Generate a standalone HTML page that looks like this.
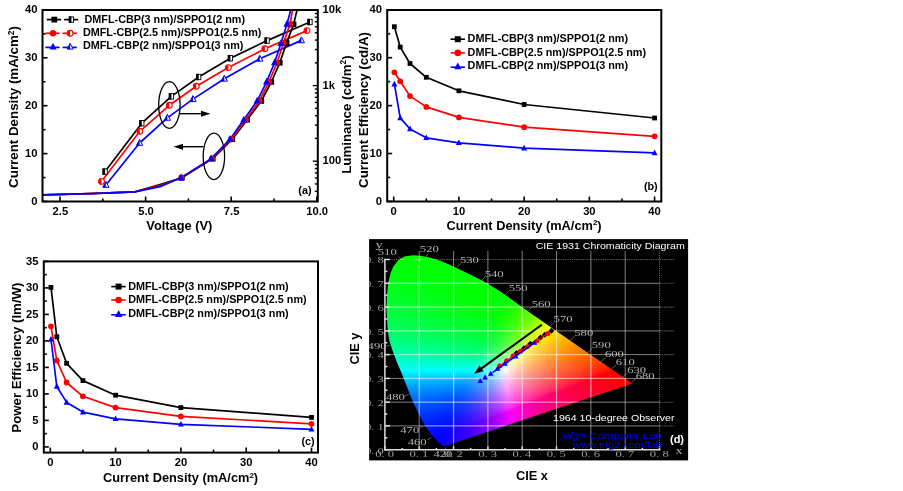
<!DOCTYPE html>
<html><head><meta charset="utf-8"><title>Figure</title>
<style>html,body{margin:0;padding:0;background:#fff}svg{display:block;filter:blur(0.45px)}</style></head>
<body>
<svg width="903" height="491" viewBox="0 0 903 491">
<rect width="903" height="491" fill="#fff"/>
<line x1="42.50" y1="201.50" x2="47.50" y2="201.50" stroke="#000" stroke-width="1.6"/>
<line x1="42.50" y1="177.55" x2="45.50" y2="177.55" stroke="#000" stroke-width="1.6"/>
<line x1="42.50" y1="153.60" x2="47.50" y2="153.60" stroke="#000" stroke-width="1.6"/>
<line x1="42.50" y1="129.65" x2="45.50" y2="129.65" stroke="#000" stroke-width="1.6"/>
<line x1="42.50" y1="105.70" x2="47.50" y2="105.70" stroke="#000" stroke-width="1.6"/>
<line x1="42.50" y1="81.75" x2="45.50" y2="81.75" stroke="#000" stroke-width="1.6"/>
<line x1="42.50" y1="57.80" x2="47.50" y2="57.80" stroke="#000" stroke-width="1.6"/>
<line x1="42.50" y1="33.85" x2="45.50" y2="33.85" stroke="#000" stroke-width="1.6"/>
<line x1="42.50" y1="9.90" x2="47.50" y2="9.90" stroke="#000" stroke-width="1.6"/>
<text x="37.5" y="204.8" font-size="11.2" text-anchor="end" fill="#000" font-family="Liberation Sans, Arial, sans-serif" font-weight="bold">0</text>
<text x="37.5" y="156.9" font-size="11.2" text-anchor="end" fill="#000" font-family="Liberation Sans, Arial, sans-serif" font-weight="bold">10</text>
<text x="37.5" y="109.0" font-size="11.2" text-anchor="end" fill="#000" font-family="Liberation Sans, Arial, sans-serif" font-weight="bold">20</text>
<text x="37.5" y="61.10000000000001" font-size="11.2" text-anchor="end" fill="#000" font-family="Liberation Sans, Arial, sans-serif" font-weight="bold">30</text>
<text x="37.5" y="13.200000000000006" font-size="11.2" text-anchor="end" fill="#000" font-family="Liberation Sans, Arial, sans-serif" font-weight="bold">40</text>
<line x1="60.00" y1="201.50" x2="60.00" y2="196.50" stroke="#000" stroke-width="1.6"/>
<line x1="145.60" y1="201.50" x2="145.60" y2="196.50" stroke="#000" stroke-width="1.6"/>
<line x1="231.20" y1="201.50" x2="231.20" y2="196.50" stroke="#000" stroke-width="1.6"/>
<line x1="316.80" y1="201.50" x2="316.80" y2="196.50" stroke="#000" stroke-width="1.6"/>
<line x1="102.80" y1="201.50" x2="102.80" y2="198.50" stroke="#000" stroke-width="1.6"/>
<line x1="188.40" y1="201.50" x2="188.40" y2="198.50" stroke="#000" stroke-width="1.6"/>
<line x1="274.00" y1="201.50" x2="274.00" y2="198.50" stroke="#000" stroke-width="1.6"/>
<text x="60.4" y="214.5" font-size="11.2" text-anchor="middle" fill="#000" font-family="Liberation Sans, Arial, sans-serif" font-weight="bold">2.5</text>
<text x="146.00000000000003" y="214.5" font-size="11.2" text-anchor="middle" fill="#000" font-family="Liberation Sans, Arial, sans-serif" font-weight="bold">5.0</text>
<text x="231.60000000000002" y="214.5" font-size="11.2" text-anchor="middle" fill="#000" font-family="Liberation Sans, Arial, sans-serif" font-weight="bold">7.5</text>
<text x="317.2" y="214.5" font-size="11.2" text-anchor="middle" fill="#000" font-family="Liberation Sans, Arial, sans-serif" font-weight="bold">10.0</text>
<line x1="317.80" y1="191.28" x2="314.80" y2="191.28" stroke="#000" stroke-width="1.4"/>
<line x1="317.80" y1="183.96" x2="314.80" y2="183.96" stroke="#000" stroke-width="1.4"/>
<line x1="317.80" y1="177.97" x2="314.80" y2="177.97" stroke="#000" stroke-width="1.4"/>
<line x1="317.80" y1="172.91" x2="314.80" y2="172.91" stroke="#000" stroke-width="1.4"/>
<line x1="317.80" y1="168.53" x2="314.80" y2="168.53" stroke="#000" stroke-width="1.4"/>
<line x1="317.80" y1="164.66" x2="314.80" y2="164.66" stroke="#000" stroke-width="1.4"/>
<line x1="317.80" y1="161.20" x2="312.80" y2="161.20" stroke="#000" stroke-width="1.4"/>
<line x1="317.80" y1="138.44" x2="314.80" y2="138.44" stroke="#000" stroke-width="1.4"/>
<line x1="317.80" y1="125.13" x2="314.80" y2="125.13" stroke="#000" stroke-width="1.4"/>
<line x1="317.80" y1="115.68" x2="314.80" y2="115.68" stroke="#000" stroke-width="1.4"/>
<line x1="317.80" y1="108.36" x2="314.80" y2="108.36" stroke="#000" stroke-width="1.4"/>
<line x1="317.80" y1="102.37" x2="314.80" y2="102.37" stroke="#000" stroke-width="1.4"/>
<line x1="317.80" y1="97.31" x2="314.80" y2="97.31" stroke="#000" stroke-width="1.4"/>
<line x1="317.80" y1="92.93" x2="314.80" y2="92.93" stroke="#000" stroke-width="1.4"/>
<line x1="317.80" y1="89.06" x2="314.80" y2="89.06" stroke="#000" stroke-width="1.4"/>
<line x1="317.80" y1="85.60" x2="312.80" y2="85.60" stroke="#000" stroke-width="1.4"/>
<line x1="317.80" y1="62.84" x2="314.80" y2="62.84" stroke="#000" stroke-width="1.4"/>
<line x1="317.80" y1="49.53" x2="314.80" y2="49.53" stroke="#000" stroke-width="1.4"/>
<line x1="317.80" y1="40.08" x2="314.80" y2="40.08" stroke="#000" stroke-width="1.4"/>
<line x1="317.80" y1="32.76" x2="314.80" y2="32.76" stroke="#000" stroke-width="1.4"/>
<line x1="317.80" y1="26.77" x2="314.80" y2="26.77" stroke="#000" stroke-width="1.4"/>
<line x1="317.80" y1="21.71" x2="314.80" y2="21.71" stroke="#000" stroke-width="1.4"/>
<line x1="317.80" y1="17.33" x2="314.80" y2="17.33" stroke="#000" stroke-width="1.4"/>
<line x1="317.80" y1="13.46" x2="314.80" y2="13.46" stroke="#000" stroke-width="1.4"/>
<text x="322.5" y="13.2" font-size="11.2" text-anchor="start" fill="#000" font-family="Liberation Sans, Arial, sans-serif" font-weight="bold">10k</text>
<text x="322.5" y="88.8" font-size="11.2" text-anchor="start" fill="#000" font-family="Liberation Sans, Arial, sans-serif" font-weight="bold">1k</text>
<text x="322.5" y="164.39999999999998" font-size="11.2" text-anchor="start" fill="#000" font-family="Liberation Sans, Arial, sans-serif" font-weight="bold">100</text>
<polyline points="105.1,171.6 141.8,123.2 171.4,96.4 198.7,77.0 230.4,58.2 267.1,40.6 310.0,22.0" fill="none" stroke="#000" stroke-width="1.7" stroke-linejoin="round"/>
<polyline points="101.5,181.4 139.8,131.3 169.3,105.3 196.3,86.3 228.4,67.6 264.9,48.8 307.0,30.6" fill="none" stroke="#ff0000" stroke-width="1.7" stroke-linejoin="round"/>
<polyline points="105.9,185.0 139.6,143.0 167.4,117.9 193.0,99.1 224.3,78.8 259.8,58.8 301.4,40.4" fill="none" stroke="#0000ff" stroke-width="1.7" stroke-linejoin="round"/>
<rect x="102.95" y="168.90" width="4.30" height="5.40" fill="#fff" stroke="#000" stroke-width="0.9"/>
<rect x="102.50" y="168.45" width="2.60" height="6.30" fill="#000"/>
<rect x="139.65" y="120.50" width="4.30" height="5.40" fill="#fff" stroke="#000" stroke-width="0.9"/>
<rect x="139.20" y="120.05" width="2.60" height="6.30" fill="#000"/>
<rect x="169.25" y="93.70" width="4.30" height="5.40" fill="#fff" stroke="#000" stroke-width="0.9"/>
<rect x="168.80" y="93.25" width="2.60" height="6.30" fill="#000"/>
<rect x="196.55" y="74.30" width="4.30" height="5.40" fill="#fff" stroke="#000" stroke-width="0.9"/>
<rect x="196.10" y="73.85" width="2.60" height="6.30" fill="#000"/>
<rect x="228.25" y="55.50" width="4.30" height="5.40" fill="#fff" stroke="#000" stroke-width="0.9"/>
<rect x="227.80" y="55.05" width="2.60" height="6.30" fill="#000"/>
<rect x="264.95" y="37.90" width="4.30" height="5.40" fill="#fff" stroke="#000" stroke-width="0.9"/>
<rect x="264.50" y="37.45" width="2.60" height="6.30" fill="#000"/>
<rect x="307.85" y="19.30" width="4.30" height="5.40" fill="#fff" stroke="#000" stroke-width="0.9"/>
<rect x="307.40" y="18.85" width="2.60" height="6.30" fill="#000"/>
<circle cx="101.50" cy="181.40" r="2.9" fill="#fff" stroke="#ff0000" stroke-width="1.1"/>
<path d="M101.50,178.50 A2.9,2.9 0 0 0 101.50,184.30 Z" fill="#ff0000"/>
<circle cx="139.80" cy="131.30" r="2.9" fill="#fff" stroke="#ff0000" stroke-width="1.1"/>
<path d="M139.80,128.40 A2.9,2.9 0 0 0 139.80,134.20 Z" fill="#ff0000"/>
<circle cx="169.30" cy="105.30" r="2.9" fill="#fff" stroke="#ff0000" stroke-width="1.1"/>
<path d="M169.30,102.40 A2.9,2.9 0 0 0 169.30,108.20 Z" fill="#ff0000"/>
<circle cx="196.30" cy="86.30" r="2.9" fill="#fff" stroke="#ff0000" stroke-width="1.1"/>
<path d="M196.30,83.40 A2.9,2.9 0 0 0 196.30,89.20 Z" fill="#ff0000"/>
<circle cx="228.40" cy="67.60" r="2.9" fill="#fff" stroke="#ff0000" stroke-width="1.1"/>
<path d="M228.40,64.70 A2.9,2.9 0 0 0 228.40,70.50 Z" fill="#ff0000"/>
<circle cx="264.90" cy="48.80" r="2.9" fill="#fff" stroke="#ff0000" stroke-width="1.1"/>
<path d="M264.90,45.90 A2.9,2.9 0 0 0 264.90,51.70 Z" fill="#ff0000"/>
<circle cx="307.00" cy="30.60" r="2.9" fill="#fff" stroke="#ff0000" stroke-width="1.1"/>
<path d="M307.00,27.70 A2.9,2.9 0 0 0 307.00,33.50 Z" fill="#ff0000"/>
<polygon points="105.90,181.47 102.80,187.36 109.00,187.36" fill="#fff" stroke="#0000ff" stroke-width="1"/>
<polygon points="105.90,181.47 102.80,187.36 105.90,187.36" fill="#0000ff"/>
<polygon points="139.60,139.47 136.50,145.36 142.70,145.36" fill="#fff" stroke="#0000ff" stroke-width="1"/>
<polygon points="139.60,139.47 136.50,145.36 139.60,145.36" fill="#0000ff"/>
<polygon points="167.40,114.37 164.30,120.26 170.50,120.26" fill="#fff" stroke="#0000ff" stroke-width="1"/>
<polygon points="167.40,114.37 164.30,120.26 167.40,120.26" fill="#0000ff"/>
<polygon points="193.00,95.57 189.90,101.46 196.10,101.46" fill="#fff" stroke="#0000ff" stroke-width="1"/>
<polygon points="193.00,95.57 189.90,101.46 193.00,101.46" fill="#0000ff"/>
<polygon points="224.30,75.27 221.20,81.16 227.40,81.16" fill="#fff" stroke="#0000ff" stroke-width="1"/>
<polygon points="224.30,75.27 221.20,81.16 224.30,81.16" fill="#0000ff"/>
<polygon points="259.80,55.27 256.70,61.16 262.90,61.16" fill="#fff" stroke="#0000ff" stroke-width="1"/>
<polygon points="259.80,55.27 256.70,61.16 259.80,61.16" fill="#0000ff"/>
<polygon points="301.40,36.87 298.30,42.76 304.50,42.76" fill="#fff" stroke="#0000ff" stroke-width="1"/>
<polygon points="301.40,36.87 298.30,42.76 301.40,42.76" fill="#0000ff"/>
<clipPath id="ca"><rect x="42.5" y="10.0" width="275.3" height="191.5"/></clipPath>
<g clip-path="url(#ca)">
<polyline points="42.5,194.8 90.0,193.6 134.8,191.8 160.0,184.5 181.9,177.7 212.8,158.6 232.3,139.2 247.2,119.8 261.3,101.0 271.3,82.0 279.8,62.8 286.6,43.0 293.6,24.4 297.3,9.0" fill="none" stroke="#000" stroke-width="1.7" stroke-linejoin="round"/>
<polyline points="42.5,194.8 90.0,193.6 134.8,191.8 160.0,185.6 181.4,177.7 212.0,158.6 231.3,139.2 245.8,119.8 259.4,101.0 268.9,82.0 277.0,62.8 283.5,43.0 289.9,24.4 292.8,9.0" fill="none" stroke="#ff0000" stroke-width="1.7" stroke-linejoin="round"/>
<polyline points="42.5,194.8 90.0,193.6 134.8,191.8 160.0,186.6 181.0,177.7 211.2,158.6 230.0,139.2 243.8,119.8 257.2,100.8 266.6,81.8 274.6,62.5 281.0,43.2 287.0,24.0 291.0,9.0" fill="none" stroke="#0000ff" stroke-width="1.7" stroke-linejoin="round"/>
<rect x="179.10" y="174.90" width="5.6" height="5.6" fill="#000"/>
<rect x="210.00" y="155.80" width="5.6" height="5.6" fill="#000"/>
<rect x="229.50" y="136.40" width="5.6" height="5.6" fill="#000"/>
<rect x="244.40" y="117.00" width="5.6" height="5.6" fill="#000"/>
<rect x="258.50" y="98.20" width="5.6" height="5.6" fill="#000"/>
<rect x="268.50" y="79.20" width="5.6" height="5.6" fill="#000"/>
<rect x="277.00" y="60.00" width="5.6" height="5.6" fill="#000"/>
<rect x="283.80" y="40.20" width="5.6" height="5.6" fill="#000"/>
<rect x="290.80" y="21.60" width="5.6" height="5.6" fill="#000"/>
<circle cx="181.40" cy="177.70" r="3.1" fill="#ff0000"/>
<circle cx="212.00" cy="158.60" r="3.1" fill="#ff0000"/>
<circle cx="231.30" cy="139.20" r="3.1" fill="#ff0000"/>
<circle cx="245.80" cy="119.80" r="3.1" fill="#ff0000"/>
<circle cx="259.40" cy="101.00" r="3.1" fill="#ff0000"/>
<circle cx="268.90" cy="82.00" r="3.1" fill="#ff0000"/>
<circle cx="277.00" cy="62.80" r="3.1" fill="#ff0000"/>
<circle cx="283.50" cy="43.00" r="3.1" fill="#ff0000"/>
<circle cx="289.90" cy="24.40" r="3.1" fill="#ff0000"/>
<polygon points="181.00,173.60 177.40,180.44 184.60,180.44" fill="#0000ff"/>
<polygon points="211.20,154.50 207.60,161.34 214.80,161.34" fill="#0000ff"/>
<polygon points="230.00,135.10 226.40,141.94 233.60,141.94" fill="#0000ff"/>
<polygon points="243.80,115.70 240.20,122.54 247.40,122.54" fill="#0000ff"/>
<polygon points="257.20,96.70 253.60,103.54 260.80,103.54" fill="#0000ff"/>
<polygon points="266.60,77.70 263.00,84.54 270.20,84.54" fill="#0000ff"/>
<polygon points="274.60,58.40 271.00,65.24 278.20,65.24" fill="#0000ff"/>
<polygon points="281.00,39.10 277.40,45.94 284.60,45.94" fill="#0000ff"/>
<polygon points="287.00,19.90 283.40,26.74 290.60,26.74" fill="#0000ff"/>
</g>
<rect x="42.5" y="10.0" width="275.3" height="191.5" fill="none" stroke="#000" stroke-width="2.0"/>
<ellipse cx="169.4" cy="105.0" rx="10.7" ry="23.4" fill="none" stroke="#000" stroke-width="1.3"/>
<ellipse cx="213.9" cy="156.4" rx="10.7" ry="23.2" fill="none" stroke="#000" stroke-width="1.3"/>
<line x1="180.00" y1="113.70" x2="204.00" y2="113.70" stroke="#000" stroke-width="1.4"/>
<polygon points="210.5,113.7 201,110.7 201,116.7" fill="#000"/>
<line x1="203.40" y1="146.70" x2="180.00" y2="146.70" stroke="#000" stroke-width="1.4"/>
<polygon points="173.5,146.7 183,143.7 183,149.7" fill="#000"/>
<line x1="46.80" y1="19.60" x2="61.10" y2="19.60" stroke="#000" stroke-width="1.7"/>
<line x1="64.10" y1="19.60" x2="78.30" y2="19.60" stroke="#000" stroke-width="1.7"/>
<rect x="51.40" y="16.70" width="5.8" height="5.8" fill="#000"/>
<rect x="69.25" y="16.90" width="4.30" height="5.40" fill="#fff" stroke="#000" stroke-width="0.9"/>
<rect x="68.80" y="16.45" width="2.60" height="6.30" fill="#000"/>
<text x="84.5" y="22.5" font-size="10.8" text-anchor="start" fill="#000" font-family="Liberation Sans, Arial, sans-serif" font-weight="bold" textLength="160.5" lengthAdjust="spacingAndGlyphs">DMFL-CBP(3 nm)/SPPO1(2 nm)</text>
<line x1="45.30" y1="33.30" x2="59.60" y2="33.30" stroke="#ff0000" stroke-width="1.7"/>
<line x1="62.60" y1="33.30" x2="76.80" y2="33.30" stroke="#ff0000" stroke-width="1.7"/>
<circle cx="53.00" cy="33.30" r="3.2" fill="#ff0000"/>
<circle cx="70.10" cy="33.30" r="2.9" fill="#fff" stroke="#ff0000" stroke-width="1.1"/>
<path d="M70.10,30.40 A2.9,2.9 0 0 0 70.10,36.20 Z" fill="#ff0000"/>
<text x="82.9" y="36.0" font-size="10.8" text-anchor="start" fill="#000" font-family="Liberation Sans, Arial, sans-serif" font-weight="bold" textLength="178.5" lengthAdjust="spacingAndGlyphs">DMFL-CBP(2.5 nm)/SPPO1(2.5 nm)</text>
<line x1="45.30" y1="47.40" x2="59.60" y2="47.40" stroke="#0000ff" stroke-width="1.7"/>
<line x1="62.60" y1="47.40" x2="76.80" y2="47.40" stroke="#0000ff" stroke-width="1.7"/>
<polygon points="53.00,42.81 49.50,49.46 56.50,49.46" fill="#0000ff"/>
<polygon points="70.10,43.38 67.10,49.08 73.10,49.08" fill="#fff" stroke="#0000ff" stroke-width="1"/>
<polygon points="70.10,43.38 67.10,49.08 70.10,49.08" fill="#0000ff"/>
<text x="82.9" y="49.4" font-size="10.8" text-anchor="start" fill="#000" font-family="Liberation Sans, Arial, sans-serif" font-weight="bold" textLength="160.5" lengthAdjust="spacingAndGlyphs">DMFL-CBP(2 nm)/SPPO1(3 nm)</text>
<text x="304.9" y="193.6" font-size="10.8" text-anchor="middle" fill="#000" font-family="Liberation Sans, Arial, sans-serif" font-weight="bold">(a)</text>
<text x="18.3" y="107.0" font-size="13.35" text-anchor="middle" fill="#000" font-family="Liberation Sans, Arial, sans-serif" font-weight="bold" transform="rotate(-90 18.3 107.0)">Current Density (mA/cm<tspan dy="-4.5" font-size="8.3">2</tspan><tspan dy="4.5">)</tspan></text>
<text x="179.3" y="230.2" font-size="12.8" text-anchor="middle" fill="#000" font-family="Liberation Sans, Arial, sans-serif" font-weight="bold">Voltage (V)</text>
<text x="350.7" y="114.6" font-size="13.3" text-anchor="middle" fill="#000" font-family="Liberation Sans, Arial, sans-serif" font-weight="bold" transform="rotate(-90 350.7 114.6)">Luminance (cd/m<tspan dy="-4.5" font-size="8.3">2</tspan><tspan dy="4.5">)</tspan></text>
<line x1="387.20" y1="201.40" x2="392.20" y2="201.40" stroke="#000" stroke-width="1.6"/>
<line x1="393.70" y1="201.50" x2="393.70" y2="196.50" stroke="#000" stroke-width="1.6"/>
<line x1="387.20" y1="177.45" x2="390.20" y2="177.45" stroke="#000" stroke-width="1.6"/>
<line x1="426.31" y1="201.50" x2="426.31" y2="198.50" stroke="#000" stroke-width="1.6"/>
<line x1="387.20" y1="153.50" x2="392.20" y2="153.50" stroke="#000" stroke-width="1.6"/>
<line x1="458.92" y1="201.50" x2="458.92" y2="196.50" stroke="#000" stroke-width="1.6"/>
<line x1="387.20" y1="129.55" x2="390.20" y2="129.55" stroke="#000" stroke-width="1.6"/>
<line x1="491.53" y1="201.50" x2="491.53" y2="198.50" stroke="#000" stroke-width="1.6"/>
<line x1="387.20" y1="105.60" x2="392.20" y2="105.60" stroke="#000" stroke-width="1.6"/>
<line x1="524.14" y1="201.50" x2="524.14" y2="196.50" stroke="#000" stroke-width="1.6"/>
<line x1="387.20" y1="81.65" x2="390.20" y2="81.65" stroke="#000" stroke-width="1.6"/>
<line x1="556.75" y1="201.50" x2="556.75" y2="198.50" stroke="#000" stroke-width="1.6"/>
<line x1="387.20" y1="57.70" x2="392.20" y2="57.70" stroke="#000" stroke-width="1.6"/>
<line x1="589.36" y1="201.50" x2="589.36" y2="196.50" stroke="#000" stroke-width="1.6"/>
<line x1="387.20" y1="33.75" x2="390.20" y2="33.75" stroke="#000" stroke-width="1.6"/>
<line x1="621.97" y1="201.50" x2="621.97" y2="198.50" stroke="#000" stroke-width="1.6"/>
<line x1="387.20" y1="9.80" x2="392.20" y2="9.80" stroke="#000" stroke-width="1.6"/>
<line x1="654.58" y1="201.50" x2="654.58" y2="196.50" stroke="#000" stroke-width="1.6"/>
<text x="382" y="204.70000000000002" font-size="11.2" text-anchor="end" fill="#000" font-family="Liberation Sans, Arial, sans-serif" font-weight="bold">0</text>
<text x="393.7" y="214.5" font-size="11.2" text-anchor="middle" fill="#000" font-family="Liberation Sans, Arial, sans-serif" font-weight="bold">0</text>
<text x="382" y="156.8" font-size="11.2" text-anchor="end" fill="#000" font-family="Liberation Sans, Arial, sans-serif" font-weight="bold">10</text>
<text x="458.91999999999996" y="214.5" font-size="11.2" text-anchor="middle" fill="#000" font-family="Liberation Sans, Arial, sans-serif" font-weight="bold">10</text>
<text x="382" y="108.9" font-size="11.2" text-anchor="end" fill="#000" font-family="Liberation Sans, Arial, sans-serif" font-weight="bold">20</text>
<text x="524.14" y="214.5" font-size="11.2" text-anchor="middle" fill="#000" font-family="Liberation Sans, Arial, sans-serif" font-weight="bold">20</text>
<text x="382" y="61.000000000000014" font-size="11.2" text-anchor="end" fill="#000" font-family="Liberation Sans, Arial, sans-serif" font-weight="bold">30</text>
<text x="589.36" y="214.5" font-size="11.2" text-anchor="middle" fill="#000" font-family="Liberation Sans, Arial, sans-serif" font-weight="bold">30</text>
<text x="382" y="13.100000000000012" font-size="11.2" text-anchor="end" fill="#000" font-family="Liberation Sans, Arial, sans-serif" font-weight="bold">40</text>
<text x="654.5799999999999" y="214.5" font-size="11.2" text-anchor="middle" fill="#000" font-family="Liberation Sans, Arial, sans-serif" font-weight="bold">40</text>
<polyline points="394.4,26.7 400.2,47.1 410.0,63.5 426.3,77.3 458.9,90.8 524.1,104.5 654.6,118.0" fill="none" stroke="#000" stroke-width="1.7" stroke-linejoin="round"/>
<rect x="391.95" y="24.30" width="4.8" height="4.8" fill="#000"/>
<rect x="397.82" y="44.70" width="4.8" height="4.8" fill="#000"/>
<rect x="407.61" y="61.10" width="4.8" height="4.8" fill="#000"/>
<rect x="423.91" y="74.90" width="4.8" height="4.8" fill="#000"/>
<rect x="456.52" y="88.40" width="4.8" height="4.8" fill="#000"/>
<rect x="521.74" y="102.10" width="4.8" height="4.8" fill="#000"/>
<rect x="652.18" y="115.60" width="4.8" height="4.8" fill="#000"/>
<polyline points="394.4,72.3 400.2,81.3 410.0,96.1 426.3,106.9 458.9,117.4 524.1,127.2 654.6,136.3" fill="none" stroke="#ff0000" stroke-width="1.7" stroke-linejoin="round"/>
<circle cx="394.35" cy="72.30" r="2.9" fill="#ff0000"/>
<circle cx="400.22" cy="81.30" r="2.9" fill="#ff0000"/>
<circle cx="410.00" cy="96.10" r="2.9" fill="#ff0000"/>
<circle cx="426.31" cy="106.90" r="2.9" fill="#ff0000"/>
<circle cx="458.92" cy="117.40" r="2.9" fill="#ff0000"/>
<circle cx="524.14" cy="127.20" r="2.9" fill="#ff0000"/>
<circle cx="654.58" cy="136.30" r="2.9" fill="#ff0000"/>
<polyline points="394.4,84.2 400.2,117.9 410.0,129.0 426.3,137.8 458.9,142.8 524.1,148.2 654.6,152.9" fill="none" stroke="#0000ff" stroke-width="1.7" stroke-linejoin="round"/>
<polygon points="394.35,80.78 391.35,86.48 397.35,86.48" fill="#0000ff"/>
<polygon points="400.22,114.48 397.22,120.18 403.22,120.18" fill="#0000ff"/>
<polygon points="410.00,125.58 407.00,131.28 413.00,131.28" fill="#0000ff"/>
<polygon points="426.31,134.38 423.31,140.08 429.31,140.08" fill="#0000ff"/>
<polygon points="458.92,139.38 455.92,145.08 461.92,145.08" fill="#0000ff"/>
<polygon points="524.14,144.78 521.14,150.48 527.14,150.48" fill="#0000ff"/>
<polygon points="654.58,149.48 651.58,155.18 657.58,155.18" fill="#0000ff"/>
<rect x="387.2" y="10.0" width="274.09999999999997" height="191.5" fill="none" stroke="#000" stroke-width="2.0"/>
<line x1="450.60" y1="39.20" x2="464.90" y2="39.20" stroke="#000" stroke-width="1.6"/>
<rect x="454.80" y="36.20" width="6.0" height="6.0" fill="#000"/>
<text x="467.6" y="42.1" font-size="10.8" text-anchor="start" fill="#000" font-family="Liberation Sans, Arial, sans-serif" font-weight="bold" textLength="160.5" lengthAdjust="spacingAndGlyphs">DMFL-CBP(3 nm)/SPPO1(2 nm)</text>
<line x1="450.60" y1="52.90" x2="464.90" y2="52.90" stroke="#ff0000" stroke-width="1.6"/>
<circle cx="457.80" cy="52.90" r="3.3" fill="#ff0000"/>
<text x="467.6" y="55.8" font-size="10.8" text-anchor="start" fill="#000" font-family="Liberation Sans, Arial, sans-serif" font-weight="bold" textLength="178.5" lengthAdjust="spacingAndGlyphs">DMFL-CBP(2.5 nm)/SPPO1(2.5 nm)</text>
<line x1="450.60" y1="67.20" x2="464.90" y2="67.20" stroke="#0000ff" stroke-width="1.6"/>
<polygon points="457.80,62.50 454.20,69.34 461.40,69.34" fill="#0000ff"/>
<text x="467.6" y="69.10000000000001" font-size="10.8" text-anchor="start" fill="#000" font-family="Liberation Sans, Arial, sans-serif" font-weight="bold" textLength="160.5" lengthAdjust="spacingAndGlyphs">DMFL-CBP(2 nm)/SPPO1(3 nm)</text>
<text x="650.8" y="190.2" font-size="10.8" text-anchor="middle" fill="#000" font-family="Liberation Sans, Arial, sans-serif" font-weight="bold">(b)</text>
<text x="524" y="229.5" font-size="12.8" text-anchor="middle" fill="#000" font-family="Liberation Sans, Arial, sans-serif" font-weight="bold">Current Density (mA/cm<tspan dy="-4.5" font-size="8">2</tspan><tspan dy="4.5">)</tspan></text>
<text x="367.5" y="110.0" font-size="13.3" text-anchor="middle" fill="#000" font-family="Liberation Sans, Arial, sans-serif" font-weight="bold" transform="rotate(-90 367.5 110.0)">Current Efficiency (cd/A)</text>
<line x1="43.80" y1="446.90" x2="48.80" y2="446.90" stroke="#000" stroke-width="1.6"/>
<line x1="43.80" y1="433.65" x2="46.80" y2="433.65" stroke="#000" stroke-width="1.6"/>
<line x1="43.80" y1="420.40" x2="48.80" y2="420.40" stroke="#000" stroke-width="1.6"/>
<line x1="43.80" y1="407.15" x2="46.80" y2="407.15" stroke="#000" stroke-width="1.6"/>
<line x1="43.80" y1="393.90" x2="48.80" y2="393.90" stroke="#000" stroke-width="1.6"/>
<line x1="43.80" y1="380.65" x2="46.80" y2="380.65" stroke="#000" stroke-width="1.6"/>
<line x1="43.80" y1="367.40" x2="48.80" y2="367.40" stroke="#000" stroke-width="1.6"/>
<line x1="43.80" y1="354.15" x2="46.80" y2="354.15" stroke="#000" stroke-width="1.6"/>
<line x1="43.80" y1="340.90" x2="48.80" y2="340.90" stroke="#000" stroke-width="1.6"/>
<line x1="43.80" y1="327.65" x2="46.80" y2="327.65" stroke="#000" stroke-width="1.6"/>
<line x1="43.80" y1="314.40" x2="48.80" y2="314.40" stroke="#000" stroke-width="1.6"/>
<line x1="43.80" y1="301.15" x2="46.80" y2="301.15" stroke="#000" stroke-width="1.6"/>
<line x1="43.80" y1="287.90" x2="48.80" y2="287.90" stroke="#000" stroke-width="1.6"/>
<line x1="43.80" y1="274.65" x2="46.80" y2="274.65" stroke="#000" stroke-width="1.6"/>
<line x1="43.80" y1="261.40" x2="48.80" y2="261.40" stroke="#000" stroke-width="1.6"/>
<line x1="50.30" y1="452.60" x2="50.30" y2="447.60" stroke="#000" stroke-width="1.6"/>
<line x1="82.95" y1="452.60" x2="82.95" y2="449.60" stroke="#000" stroke-width="1.6"/>
<line x1="115.60" y1="452.60" x2="115.60" y2="447.60" stroke="#000" stroke-width="1.6"/>
<line x1="148.25" y1="452.60" x2="148.25" y2="449.60" stroke="#000" stroke-width="1.6"/>
<line x1="180.90" y1="452.60" x2="180.90" y2="447.60" stroke="#000" stroke-width="1.6"/>
<line x1="213.55" y1="452.60" x2="213.55" y2="449.60" stroke="#000" stroke-width="1.6"/>
<line x1="246.20" y1="452.60" x2="246.20" y2="447.60" stroke="#000" stroke-width="1.6"/>
<line x1="278.85" y1="452.60" x2="278.85" y2="449.60" stroke="#000" stroke-width="1.6"/>
<line x1="311.50" y1="452.60" x2="311.50" y2="447.60" stroke="#000" stroke-width="1.6"/>
<text x="38.5" y="450.2" font-size="11.2" text-anchor="end" fill="#000" font-family="Liberation Sans, Arial, sans-serif" font-weight="bold">0</text>
<text x="38.5" y="423.7" font-size="11.2" text-anchor="end" fill="#000" font-family="Liberation Sans, Arial, sans-serif" font-weight="bold">5</text>
<text x="38.5" y="397.2" font-size="11.2" text-anchor="end" fill="#000" font-family="Liberation Sans, Arial, sans-serif" font-weight="bold">10</text>
<text x="38.5" y="370.7" font-size="11.2" text-anchor="end" fill="#000" font-family="Liberation Sans, Arial, sans-serif" font-weight="bold">15</text>
<text x="38.5" y="344.2" font-size="11.2" text-anchor="end" fill="#000" font-family="Liberation Sans, Arial, sans-serif" font-weight="bold">20</text>
<text x="38.5" y="317.7" font-size="11.2" text-anchor="end" fill="#000" font-family="Liberation Sans, Arial, sans-serif" font-weight="bold">25</text>
<text x="38.5" y="291.2" font-size="11.2" text-anchor="end" fill="#000" font-family="Liberation Sans, Arial, sans-serif" font-weight="bold">30</text>
<text x="38.5" y="264.7" font-size="11.2" text-anchor="end" fill="#000" font-family="Liberation Sans, Arial, sans-serif" font-weight="bold">35</text>
<text x="50.3" y="465.8" font-size="11.2" text-anchor="middle" fill="#000" font-family="Liberation Sans, Arial, sans-serif" font-weight="bold">0</text>
<text x="115.6" y="465.8" font-size="11.2" text-anchor="middle" fill="#000" font-family="Liberation Sans, Arial, sans-serif" font-weight="bold">10</text>
<text x="180.89999999999998" y="465.8" font-size="11.2" text-anchor="middle" fill="#000" font-family="Liberation Sans, Arial, sans-serif" font-weight="bold">20</text>
<text x="246.2" y="465.8" font-size="11.2" text-anchor="middle" fill="#000" font-family="Liberation Sans, Arial, sans-serif" font-weight="bold">30</text>
<text x="311.5" y="465.8" font-size="11.2" text-anchor="middle" fill="#000" font-family="Liberation Sans, Arial, sans-serif" font-weight="bold">40</text>
<polyline points="51.0,287.4 56.8,336.8 66.6,363.3 82.9,380.6 115.6,395.2 180.9,407.6 311.5,417.4" fill="none" stroke="#000" stroke-width="1.7" stroke-linejoin="round"/>
<rect x="48.55" y="285.00" width="4.8" height="4.8" fill="#000"/>
<rect x="54.43" y="334.40" width="4.8" height="4.8" fill="#000"/>
<rect x="64.22" y="360.90" width="4.8" height="4.8" fill="#000"/>
<rect x="80.55" y="378.20" width="4.8" height="4.8" fill="#000"/>
<rect x="113.20" y="392.80" width="4.8" height="4.8" fill="#000"/>
<rect x="178.50" y="405.20" width="4.8" height="4.8" fill="#000"/>
<rect x="309.10" y="415.00" width="4.8" height="4.8" fill="#000"/>
<polyline points="51.0,326.3 56.8,360.6 66.6,382.5 82.9,396.3 115.6,407.6 180.9,416.4 311.5,423.8" fill="none" stroke="#ff0000" stroke-width="1.7" stroke-linejoin="round"/>
<circle cx="50.95" cy="326.30" r="2.9" fill="#ff0000"/>
<circle cx="56.83" cy="360.60" r="2.9" fill="#ff0000"/>
<circle cx="66.62" cy="382.50" r="2.9" fill="#ff0000"/>
<circle cx="82.95" cy="396.30" r="2.9" fill="#ff0000"/>
<circle cx="115.60" cy="407.60" r="2.9" fill="#ff0000"/>
<circle cx="180.90" cy="416.40" r="2.9" fill="#ff0000"/>
<circle cx="311.50" cy="423.80" r="2.9" fill="#ff0000"/>
<polyline points="51.0,339.5 56.8,386.5 66.6,402.4 82.9,412.1 115.6,418.8 180.9,424.3 311.5,429.3" fill="none" stroke="#0000ff" stroke-width="1.7" stroke-linejoin="round"/>
<polygon points="50.95,336.08 47.95,341.78 53.95,341.78" fill="#0000ff"/>
<polygon points="56.83,383.08 53.83,388.78 59.83,388.78" fill="#0000ff"/>
<polygon points="66.62,398.98 63.62,404.68 69.62,404.68" fill="#0000ff"/>
<polygon points="82.95,408.68 79.95,414.38 85.95,414.38" fill="#0000ff"/>
<polygon points="115.60,415.38 112.60,421.08 118.60,421.08" fill="#0000ff"/>
<polygon points="180.90,420.88 177.90,426.58 183.90,426.58" fill="#0000ff"/>
<polygon points="311.50,425.88 308.50,431.58 314.50,431.58" fill="#0000ff"/>
<rect x="43.8" y="261.4" width="274.2" height="191.20000000000005" fill="none" stroke="#000" stroke-width="2.0"/>
<line x1="111.20" y1="286.60" x2="125.70" y2="286.60" stroke="#000" stroke-width="1.6"/>
<rect x="115.60" y="283.60" width="6.0" height="6.0" fill="#000"/>
<text x="128.2" y="289.5" font-size="10.8" text-anchor="start" fill="#000" font-family="Liberation Sans, Arial, sans-serif" font-weight="bold" textLength="160.5" lengthAdjust="spacingAndGlyphs">DMFL-CBP(3 nm)/SPPO1(2 nm)</text>
<line x1="111.20" y1="300.00" x2="125.70" y2="300.00" stroke="#ff0000" stroke-width="1.6"/>
<circle cx="118.60" cy="300.00" r="3.3" fill="#ff0000"/>
<text x="128.2" y="302.9" font-size="10.8" text-anchor="start" fill="#000" font-family="Liberation Sans, Arial, sans-serif" font-weight="bold" textLength="178.5" lengthAdjust="spacingAndGlyphs">DMFL-CBP(2.5 nm)/SPPO1(2.5 nm)</text>
<line x1="111.20" y1="314.80" x2="125.70" y2="314.80" stroke="#0000ff" stroke-width="1.6"/>
<polygon points="118.60,310.10 115.00,316.94 122.20,316.94" fill="#0000ff"/>
<text x="128.2" y="316.7" font-size="10.8" text-anchor="start" fill="#000" font-family="Liberation Sans, Arial, sans-serif" font-weight="bold" textLength="160.5" lengthAdjust="spacingAndGlyphs">DMFL-CBP(2 nm)/SPPO1(3 nm)</text>
<text x="308" y="445.4" font-size="10.8" text-anchor="middle" fill="#000" font-family="Liberation Sans, Arial, sans-serif" font-weight="bold">(c)</text>
<text x="180.5" y="482" font-size="12.8" text-anchor="middle" fill="#000" font-family="Liberation Sans, Arial, sans-serif" font-weight="bold">Current Density (mA/cm<tspan dy="-4.5" font-size="8">2</tspan><tspan dy="4.5">)</tspan></text>
<text x="21.0" y="357.6" font-size="13.25" text-anchor="middle" fill="#000" font-family="Liberation Sans, Arial, sans-serif" font-weight="bold" transform="rotate(-90 21.0 357.6)">Power Efficiency (lm/W)</text>
<g id="cie">
<clipPath id="cbox"><rect x="369.1" y="239.1" width="319.0" height="221.3"/></clipPath>
<rect x="369.1" y="239.1" width="319.0" height="221.3" fill="#000"/>
<clipPath id="chs"><polygon points="445.0,446.0 443.2,445.7 437.8,442.1 430.6,433.5 424.9,425.7 418.5,413.5 413.5,402.8 409.8,394.0 405.7,383.6 401.4,372.4 396.5,361.2 392.4,350.0 389.5,340.9 387.9,331.3 387.0,318.5 386.5,307.3 386.9,296.0 388.2,283.3 390.6,273.0 393.4,266.4 398.3,260.3 404.4,256.6 413.0,255.3 420.3,255.7 428.8,257.2 441.1,260.9 453.4,266.5 464.4,271.7 476.6,277.8 487.6,283.6 501.1,292.1 513.3,300.7 520.0,305.7 530.0,312.8 556.3,331.1 590.6,354.8 632.4,383.4"/></clipPath>
<defs><linearGradient id="g0" gradientUnits="userSpaceOnUse" x1="407.4" x2="422.9" y1="0" y2="0"><stop offset="0.000" stop-color="#00ff00"/><stop offset="0.333" stop-color="#00ff00"/><stop offset="0.667" stop-color="#00ff00"/><stop offset="1.000" stop-color="#00ff00"/></linearGradient><linearGradient id="g1" gradientUnits="userSpaceOnUse" x1="401.1" x2="432.4" y1="0" y2="0"><stop offset="0.000" stop-color="#00ff02"/><stop offset="0.167" stop-color="#00ff01"/><stop offset="0.333" stop-color="#00ff00"/><stop offset="0.500" stop-color="#00ff00"/><stop offset="0.667" stop-color="#00ff00"/><stop offset="0.833" stop-color="#00ff00"/><stop offset="1.000" stop-color="#00ff00"/></linearGradient><linearGradient id="g2" gradientUnits="userSpaceOnUse" x1="397.8" x2="439.1" y1="0" y2="0"><stop offset="0.000" stop-color="#00ff04"/><stop offset="0.143" stop-color="#00ff03"/><stop offset="0.286" stop-color="#00ff01"/><stop offset="0.429" stop-color="#00ff00"/><stop offset="0.571" stop-color="#00ff00"/><stop offset="0.714" stop-color="#00ff00"/><stop offset="0.857" stop-color="#00ff00"/><stop offset="1.000" stop-color="#00ff00"/></linearGradient><linearGradient id="g3" gradientUnits="userSpaceOnUse" x1="395.9" x2="444.5" y1="0" y2="0"><stop offset="0.000" stop-color="#00ff06"/><stop offset="0.111" stop-color="#00ff04"/><stop offset="0.222" stop-color="#00ff03"/><stop offset="0.333" stop-color="#00ff01"/><stop offset="0.444" stop-color="#00ff00"/><stop offset="0.556" stop-color="#00ff00"/><stop offset="0.667" stop-color="#00ff00"/><stop offset="0.778" stop-color="#00ff00"/><stop offset="0.889" stop-color="#00ff00"/><stop offset="1.000" stop-color="#00ff00"/></linearGradient><linearGradient id="g4" gradientUnits="userSpaceOnUse" x1="394.3" x2="448.9" y1="0" y2="0"><stop offset="0.000" stop-color="#00ff08"/><stop offset="0.100" stop-color="#00ff06"/><stop offset="0.200" stop-color="#00ff04"/><stop offset="0.300" stop-color="#00ff03"/><stop offset="0.400" stop-color="#00ff01"/><stop offset="0.500" stop-color="#00ff00"/><stop offset="0.600" stop-color="#00ff00"/><stop offset="0.700" stop-color="#00ff00"/><stop offset="0.800" stop-color="#00ff00"/><stop offset="0.900" stop-color="#00ff00"/><stop offset="1.000" stop-color="#00ff00"/></linearGradient><linearGradient id="g5" gradientUnits="userSpaceOnUse" x1="392.7" x2="453.3" y1="0" y2="0"><stop offset="0.000" stop-color="#00ff09"/><stop offset="0.091" stop-color="#00ff08"/><stop offset="0.182" stop-color="#00ff06"/><stop offset="0.273" stop-color="#00ff04"/><stop offset="0.364" stop-color="#00ff03"/><stop offset="0.455" stop-color="#00ff01"/><stop offset="0.545" stop-color="#00ff00"/><stop offset="0.636" stop-color="#00ff00"/><stop offset="0.727" stop-color="#00ff00"/><stop offset="0.818" stop-color="#00ff00"/><stop offset="0.909" stop-color="#00ff00"/><stop offset="1.000" stop-color="#00ff00"/></linearGradient><linearGradient id="g6" gradientUnits="userSpaceOnUse" x1="391.7" x2="457.6" y1="0" y2="0"><stop offset="0.000" stop-color="#00ff0b"/><stop offset="0.091" stop-color="#00ff09"/><stop offset="0.182" stop-color="#00ff07"/><stop offset="0.273" stop-color="#00ff05"/><stop offset="0.364" stop-color="#00ff03"/><stop offset="0.455" stop-color="#00ff02"/><stop offset="0.545" stop-color="#00ff00"/><stop offset="0.636" stop-color="#00ff00"/><stop offset="0.727" stop-color="#00ff00"/><stop offset="0.818" stop-color="#00ff00"/><stop offset="0.909" stop-color="#00ff00"/><stop offset="1.000" stop-color="#00ff00"/></linearGradient><linearGradient id="g7" gradientUnits="userSpaceOnUse" x1="390.9" x2="461.8" y1="0" y2="0"><stop offset="0.000" stop-color="#00ff0d"/><stop offset="0.083" stop-color="#00ff0b"/><stop offset="0.167" stop-color="#00ff09"/><stop offset="0.250" stop-color="#00ff07"/><stop offset="0.333" stop-color="#00ff05"/><stop offset="0.417" stop-color="#00ff03"/><stop offset="0.500" stop-color="#00ff01"/><stop offset="0.583" stop-color="#00ff00"/><stop offset="0.667" stop-color="#00ff00"/><stop offset="0.750" stop-color="#00ff00"/><stop offset="0.833" stop-color="#00ff00"/><stop offset="0.917" stop-color="#00ff00"/><stop offset="1.000" stop-color="#00ff00"/></linearGradient><linearGradient id="g8" gradientUnits="userSpaceOnUse" x1="390.0" x2="466.0" y1="0" y2="0"><stop offset="0.000" stop-color="#00ff0f"/><stop offset="0.077" stop-color="#00ff0c"/><stop offset="0.154" stop-color="#00ff0a"/><stop offset="0.231" stop-color="#00ff08"/><stop offset="0.308" stop-color="#00ff06"/><stop offset="0.385" stop-color="#00ff05"/><stop offset="0.462" stop-color="#00ff03"/><stop offset="0.538" stop-color="#00ff01"/><stop offset="0.615" stop-color="#00ff00"/><stop offset="0.692" stop-color="#00ff00"/><stop offset="0.769" stop-color="#00ff00"/><stop offset="0.846" stop-color="#00ff00"/><stop offset="0.923" stop-color="#00ff00"/><stop offset="1.000" stop-color="#00ff00"/></linearGradient><linearGradient id="g9" gradientUnits="userSpaceOnUse" x1="389.4" x2="470.0" y1="0" y2="0"><stop offset="0.000" stop-color="#00ff10"/><stop offset="0.071" stop-color="#00ff0e"/><stop offset="0.143" stop-color="#00ff0c"/><stop offset="0.214" stop-color="#00ff0a"/><stop offset="0.286" stop-color="#00ff08"/><stop offset="0.357" stop-color="#00ff06"/><stop offset="0.429" stop-color="#00ff04"/><stop offset="0.500" stop-color="#00ff02"/><stop offset="0.571" stop-color="#00ff01"/><stop offset="0.643" stop-color="#00ff00"/><stop offset="0.714" stop-color="#00ff00"/><stop offset="0.786" stop-color="#00ff00"/><stop offset="0.857" stop-color="#00ff00"/><stop offset="0.929" stop-color="#00ff00"/><stop offset="1.000" stop-color="#00ff00"/></linearGradient><linearGradient id="g10" gradientUnits="userSpaceOnUse" x1="388.9" x2="474.0" y1="0" y2="0"><stop offset="0.000" stop-color="#00ff12"/><stop offset="0.067" stop-color="#00ff10"/><stop offset="0.133" stop-color="#00ff0e"/><stop offset="0.200" stop-color="#00ff0c"/><stop offset="0.267" stop-color="#00ff0a"/><stop offset="0.333" stop-color="#00ff08"/><stop offset="0.400" stop-color="#00ff06"/><stop offset="0.467" stop-color="#00ff04"/><stop offset="0.533" stop-color="#00ff02"/><stop offset="0.600" stop-color="#00ff01"/><stop offset="0.667" stop-color="#00ff00"/><stop offset="0.733" stop-color="#00ff00"/><stop offset="0.800" stop-color="#00ff00"/><stop offset="0.867" stop-color="#00ff00"/><stop offset="0.933" stop-color="#00ff00"/><stop offset="1.000" stop-color="#00ff00"/></linearGradient><linearGradient id="g11" gradientUnits="userSpaceOnUse" x1="388.4" x2="478.0" y1="0" y2="0"><stop offset="0.000" stop-color="#00ff14"/><stop offset="0.067" stop-color="#00ff12"/><stop offset="0.133" stop-color="#00ff10"/><stop offset="0.200" stop-color="#00ff0d"/><stop offset="0.267" stop-color="#00ff0b"/><stop offset="0.333" stop-color="#00ff09"/><stop offset="0.400" stop-color="#00ff07"/><stop offset="0.467" stop-color="#00ff05"/><stop offset="0.533" stop-color="#00ff03"/><stop offset="0.600" stop-color="#00ff01"/><stop offset="0.667" stop-color="#00ff00"/><stop offset="0.733" stop-color="#00ff00"/><stop offset="0.800" stop-color="#00ff00"/><stop offset="0.867" stop-color="#00ff00"/><stop offset="0.933" stop-color="#00ff00"/><stop offset="1.000" stop-color="#00ff00"/></linearGradient><linearGradient id="g12" gradientUnits="userSpaceOnUse" x1="388.0" x2="481.8" y1="0" y2="0"><stop offset="0.000" stop-color="#00ff16"/><stop offset="0.062" stop-color="#00ff14"/><stop offset="0.125" stop-color="#00ff12"/><stop offset="0.188" stop-color="#00ff0f"/><stop offset="0.250" stop-color="#00ff0d"/><stop offset="0.312" stop-color="#00ff0b"/><stop offset="0.375" stop-color="#00ff09"/><stop offset="0.438" stop-color="#00ff06"/><stop offset="0.500" stop-color="#00ff04"/><stop offset="0.562" stop-color="#00ff02"/><stop offset="0.625" stop-color="#00ff01"/><stop offset="0.688" stop-color="#00ff00"/><stop offset="0.750" stop-color="#00ff00"/><stop offset="0.812" stop-color="#00ff00"/><stop offset="0.875" stop-color="#00ff00"/><stop offset="0.938" stop-color="#00ff00"/><stop offset="1.000" stop-color="#00ff00"/></linearGradient><linearGradient id="g13" gradientUnits="userSpaceOnUse" x1="387.5" x2="485.5" y1="0" y2="0"><stop offset="0.000" stop-color="#00ff18"/><stop offset="0.059" stop-color="#00ff16"/><stop offset="0.118" stop-color="#00ff14"/><stop offset="0.176" stop-color="#00ff11"/><stop offset="0.235" stop-color="#00ff0f"/><stop offset="0.294" stop-color="#00ff0d"/><stop offset="0.353" stop-color="#00ff0b"/><stop offset="0.412" stop-color="#00ff08"/><stop offset="0.471" stop-color="#00ff06"/><stop offset="0.529" stop-color="#00ff04"/><stop offset="0.588" stop-color="#00ff02"/><stop offset="0.647" stop-color="#00ff01"/><stop offset="0.706" stop-color="#00ff00"/><stop offset="0.765" stop-color="#00ff00"/><stop offset="0.824" stop-color="#00ff00"/><stop offset="0.882" stop-color="#00ff00"/><stop offset="0.941" stop-color="#00ff00"/><stop offset="1.000" stop-color="#00ff00"/></linearGradient><linearGradient id="g14" gradientUnits="userSpaceOnUse" x1="387.1" x2="489.2" y1="0" y2="0"><stop offset="0.000" stop-color="#00ff1a"/><stop offset="0.056" stop-color="#00ff18"/><stop offset="0.111" stop-color="#00ff16"/><stop offset="0.167" stop-color="#00ff13"/><stop offset="0.222" stop-color="#00ff11"/><stop offset="0.278" stop-color="#00ff0f"/><stop offset="0.333" stop-color="#00ff0d"/><stop offset="0.389" stop-color="#00ff0a"/><stop offset="0.444" stop-color="#00ff08"/><stop offset="0.500" stop-color="#00ff06"/><stop offset="0.556" stop-color="#00ff04"/><stop offset="0.611" stop-color="#00ff02"/><stop offset="0.667" stop-color="#00ff00"/><stop offset="0.722" stop-color="#00ff00"/><stop offset="0.778" stop-color="#00ff00"/><stop offset="0.833" stop-color="#00ff00"/><stop offset="0.889" stop-color="#00ff00"/><stop offset="0.944" stop-color="#00ff00"/><stop offset="1.000" stop-color="#00ff00"/></linearGradient><linearGradient id="g15" gradientUnits="userSpaceOnUse" x1="386.9" x2="492.4" y1="0" y2="0"><stop offset="0.000" stop-color="#00ff1c"/><stop offset="0.056" stop-color="#00ff1a"/><stop offset="0.111" stop-color="#00ff17"/><stop offset="0.167" stop-color="#00ff15"/><stop offset="0.222" stop-color="#00ff13"/><stop offset="0.278" stop-color="#00ff10"/><stop offset="0.333" stop-color="#00ff0e"/><stop offset="0.389" stop-color="#00ff0b"/><stop offset="0.444" stop-color="#00ff09"/><stop offset="0.500" stop-color="#00ff07"/><stop offset="0.556" stop-color="#00ff05"/><stop offset="0.611" stop-color="#00ff03"/><stop offset="0.667" stop-color="#00ff01"/><stop offset="0.722" stop-color="#00ff00"/><stop offset="0.778" stop-color="#00ff00"/><stop offset="0.833" stop-color="#00ff00"/><stop offset="0.889" stop-color="#00ff00"/><stop offset="0.944" stop-color="#00ff00"/><stop offset="1.000" stop-color="#00ff00"/></linearGradient><linearGradient id="g16" gradientUnits="userSpaceOnUse" x1="386.7" x2="495.6" y1="0" y2="0"><stop offset="0.000" stop-color="#00ff1e"/><stop offset="0.053" stop-color="#00ff1c"/><stop offset="0.105" stop-color="#00ff1a"/><stop offset="0.158" stop-color="#00ff17"/><stop offset="0.211" stop-color="#00ff15"/><stop offset="0.263" stop-color="#00ff13"/><stop offset="0.316" stop-color="#00ff10"/><stop offset="0.368" stop-color="#00ff0e"/><stop offset="0.421" stop-color="#00ff0b"/><stop offset="0.474" stop-color="#00ff09"/><stop offset="0.526" stop-color="#00ff07"/><stop offset="0.579" stop-color="#00ff04"/><stop offset="0.632" stop-color="#00ff02"/><stop offset="0.684" stop-color="#00ff01"/><stop offset="0.737" stop-color="#00ff00"/><stop offset="0.789" stop-color="#00ff00"/><stop offset="0.842" stop-color="#00ff00"/><stop offset="0.895" stop-color="#00ff00"/><stop offset="0.947" stop-color="#00ff00"/><stop offset="1.000" stop-color="#00ff00"/></linearGradient><linearGradient id="g17" gradientUnits="userSpaceOnUse" x1="386.5" x2="498.7" y1="0" y2="0"><stop offset="0.000" stop-color="#00ff21"/><stop offset="0.053" stop-color="#00ff1e"/><stop offset="0.105" stop-color="#00ff1c"/><stop offset="0.158" stop-color="#00ff19"/><stop offset="0.211" stop-color="#00ff17"/><stop offset="0.263" stop-color="#00ff14"/><stop offset="0.316" stop-color="#00ff12"/><stop offset="0.368" stop-color="#00ff0f"/><stop offset="0.421" stop-color="#00ff0d"/><stop offset="0.474" stop-color="#00ff0a"/><stop offset="0.526" stop-color="#00ff08"/><stop offset="0.579" stop-color="#00ff05"/><stop offset="0.632" stop-color="#00ff03"/><stop offset="0.684" stop-color="#00ff01"/><stop offset="0.737" stop-color="#00ff00"/><stop offset="0.789" stop-color="#00ff00"/><stop offset="0.842" stop-color="#00ff00"/><stop offset="0.895" stop-color="#00ff00"/><stop offset="0.947" stop-color="#00ff00"/><stop offset="1.000" stop-color="#00ff00"/></linearGradient><linearGradient id="g18" gradientUnits="userSpaceOnUse" x1="386.3" x2="501.9" y1="0" y2="0"><stop offset="0.000" stop-color="#00ff23"/><stop offset="0.050" stop-color="#00ff21"/><stop offset="0.100" stop-color="#00ff1e"/><stop offset="0.150" stop-color="#00ff1c"/><stop offset="0.200" stop-color="#00ff19"/><stop offset="0.250" stop-color="#00ff17"/><stop offset="0.300" stop-color="#00ff14"/><stop offset="0.350" stop-color="#00ff12"/><stop offset="0.400" stop-color="#00ff0f"/><stop offset="0.450" stop-color="#00ff0c"/><stop offset="0.500" stop-color="#00ff0a"/><stop offset="0.550" stop-color="#00ff07"/><stop offset="0.600" stop-color="#00ff05"/><stop offset="0.650" stop-color="#00ff03"/><stop offset="0.700" stop-color="#00ff01"/><stop offset="0.750" stop-color="#00ff00"/><stop offset="0.800" stop-color="#00ff00"/><stop offset="0.850" stop-color="#00ff00"/><stop offset="0.900" stop-color="#00ff00"/><stop offset="0.950" stop-color="#00ff00"/><stop offset="1.000" stop-color="#00ff00"/></linearGradient><linearGradient id="g19" gradientUnits="userSpaceOnUse" x1="386.1" x2="504.8" y1="0" y2="0"><stop offset="0.000" stop-color="#00ff25"/><stop offset="0.050" stop-color="#00ff23"/><stop offset="0.100" stop-color="#00ff20"/><stop offset="0.150" stop-color="#00ff1e"/><stop offset="0.200" stop-color="#00ff1b"/><stop offset="0.250" stop-color="#00ff19"/><stop offset="0.300" stop-color="#00ff16"/><stop offset="0.350" stop-color="#00ff13"/><stop offset="0.400" stop-color="#00ff10"/><stop offset="0.450" stop-color="#00ff0e"/><stop offset="0.500" stop-color="#00ff0b"/><stop offset="0.550" stop-color="#00ff09"/><stop offset="0.600" stop-color="#00ff06"/><stop offset="0.650" stop-color="#00ff04"/><stop offset="0.700" stop-color="#00ff01"/><stop offset="0.750" stop-color="#00ff00"/><stop offset="0.800" stop-color="#00ff00"/><stop offset="0.850" stop-color="#00ff00"/><stop offset="0.900" stop-color="#00ff00"/><stop offset="0.950" stop-color="#00ff00"/><stop offset="1.000" stop-color="#00ff00"/></linearGradient><linearGradient id="g20" gradientUnits="userSpaceOnUse" x1="385.9" x2="507.6" y1="0" y2="0"><stop offset="0.000" stop-color="#00ff28"/><stop offset="0.048" stop-color="#00ff25"/><stop offset="0.095" stop-color="#00ff23"/><stop offset="0.143" stop-color="#00ff20"/><stop offset="0.190" stop-color="#00ff1e"/><stop offset="0.238" stop-color="#00ff1b"/><stop offset="0.286" stop-color="#00ff19"/><stop offset="0.333" stop-color="#00ff16"/><stop offset="0.381" stop-color="#00ff13"/><stop offset="0.429" stop-color="#00ff10"/><stop offset="0.476" stop-color="#00ff0e"/><stop offset="0.524" stop-color="#00ff0b"/><stop offset="0.571" stop-color="#00ff08"/><stop offset="0.619" stop-color="#00ff06"/><stop offset="0.667" stop-color="#00ff03"/><stop offset="0.714" stop-color="#00ff01"/><stop offset="0.762" stop-color="#00ff00"/><stop offset="0.810" stop-color="#00ff00"/><stop offset="0.857" stop-color="#00ff00"/><stop offset="0.905" stop-color="#00ff00"/><stop offset="0.952" stop-color="#00ff00"/><stop offset="1.000" stop-color="#04ff00"/></linearGradient><linearGradient id="g21" gradientUnits="userSpaceOnUse" x1="385.8" x2="510.5" y1="0" y2="0"><stop offset="0.000" stop-color="#00ff2a"/><stop offset="0.048" stop-color="#00ff28"/><stop offset="0.095" stop-color="#00ff25"/><stop offset="0.143" stop-color="#00ff23"/><stop offset="0.190" stop-color="#00ff20"/><stop offset="0.238" stop-color="#00ff1d"/><stop offset="0.286" stop-color="#00ff1a"/><stop offset="0.333" stop-color="#00ff18"/><stop offset="0.381" stop-color="#00ff15"/><stop offset="0.429" stop-color="#00ff12"/><stop offset="0.476" stop-color="#00ff0f"/><stop offset="0.524" stop-color="#00ff0c"/><stop offset="0.571" stop-color="#00ff0a"/><stop offset="0.619" stop-color="#00ff07"/><stop offset="0.667" stop-color="#00ff04"/><stop offset="0.714" stop-color="#00ff02"/><stop offset="0.762" stop-color="#00ff00"/><stop offset="0.810" stop-color="#00ff00"/><stop offset="0.857" stop-color="#00ff00"/><stop offset="0.905" stop-color="#00ff00"/><stop offset="0.952" stop-color="#01ff00"/><stop offset="1.000" stop-color="#0aff00"/></linearGradient><linearGradient id="g22" gradientUnits="userSpaceOnUse" x1="385.8" x2="513.3" y1="0" y2="0"><stop offset="0.000" stop-color="#00ff2d"/><stop offset="0.045" stop-color="#00ff2b"/><stop offset="0.091" stop-color="#00ff28"/><stop offset="0.136" stop-color="#00ff25"/><stop offset="0.182" stop-color="#00ff23"/><stop offset="0.227" stop-color="#00ff20"/><stop offset="0.273" stop-color="#00ff1d"/><stop offset="0.318" stop-color="#00ff1b"/><stop offset="0.364" stop-color="#00ff18"/><stop offset="0.409" stop-color="#00ff15"/><stop offset="0.455" stop-color="#00ff12"/><stop offset="0.500" stop-color="#00ff0f"/><stop offset="0.545" stop-color="#00ff0c"/><stop offset="0.591" stop-color="#00ff0a"/><stop offset="0.636" stop-color="#00ff07"/><stop offset="0.682" stop-color="#00ff04"/><stop offset="0.727" stop-color="#00ff02"/><stop offset="0.773" stop-color="#00ff00"/><stop offset="0.818" stop-color="#00ff00"/><stop offset="0.864" stop-color="#00ff00"/><stop offset="0.909" stop-color="#00ff00"/><stop offset="0.955" stop-color="#07ff00"/><stop offset="1.000" stop-color="#12ff00"/></linearGradient><linearGradient id="g23" gradientUnits="userSpaceOnUse" x1="385.7" x2="516.0" y1="0" y2="0"><stop offset="0.000" stop-color="#00ff30"/><stop offset="0.045" stop-color="#00ff2d"/><stop offset="0.091" stop-color="#00ff2b"/><stop offset="0.136" stop-color="#00ff28"/><stop offset="0.182" stop-color="#00ff25"/><stop offset="0.227" stop-color="#00ff22"/><stop offset="0.273" stop-color="#00ff1f"/><stop offset="0.318" stop-color="#00ff1d"/><stop offset="0.364" stop-color="#00ff1a"/><stop offset="0.409" stop-color="#00ff17"/><stop offset="0.455" stop-color="#00ff14"/><stop offset="0.500" stop-color="#00ff11"/><stop offset="0.545" stop-color="#00ff0e"/><stop offset="0.591" stop-color="#00ff0b"/><stop offset="0.636" stop-color="#00ff08"/><stop offset="0.682" stop-color="#00ff05"/><stop offset="0.727" stop-color="#00ff02"/><stop offset="0.773" stop-color="#00ff00"/><stop offset="0.818" stop-color="#00ff00"/><stop offset="0.864" stop-color="#00ff00"/><stop offset="0.909" stop-color="#04ff00"/><stop offset="0.955" stop-color="#0dff00"/><stop offset="1.000" stop-color="#1aff00"/></linearGradient><linearGradient id="g24" gradientUnits="userSpaceOnUse" x1="385.6" x2="518.7" y1="0" y2="0"><stop offset="0.000" stop-color="#00ff33"/><stop offset="0.043" stop-color="#00ff30"/><stop offset="0.087" stop-color="#00ff2d"/><stop offset="0.130" stop-color="#00ff2b"/><stop offset="0.174" stop-color="#00ff28"/><stop offset="0.217" stop-color="#00ff25"/><stop offset="0.261" stop-color="#00ff23"/><stop offset="0.304" stop-color="#00ff20"/><stop offset="0.348" stop-color="#00ff1d"/><stop offset="0.391" stop-color="#00ff1a"/><stop offset="0.435" stop-color="#00ff17"/><stop offset="0.478" stop-color="#00ff14"/><stop offset="0.522" stop-color="#00ff11"/><stop offset="0.565" stop-color="#00ff0e"/><stop offset="0.609" stop-color="#00ff0b"/><stop offset="0.652" stop-color="#00ff08"/><stop offset="0.696" stop-color="#00ff05"/><stop offset="0.739" stop-color="#00ff03"/><stop offset="0.783" stop-color="#00ff00"/><stop offset="0.826" stop-color="#00ff00"/><stop offset="0.870" stop-color="#01ff00"/><stop offset="0.913" stop-color="#0aff00"/><stop offset="0.957" stop-color="#16ff00"/><stop offset="1.000" stop-color="#23ff00"/></linearGradient><linearGradient id="g25" gradientUnits="userSpaceOnUse" x1="385.5" x2="521.4" y1="0" y2="0"><stop offset="0.000" stop-color="#00ff36"/><stop offset="0.043" stop-color="#00ff33"/><stop offset="0.087" stop-color="#00ff30"/><stop offset="0.130" stop-color="#00ff2e"/><stop offset="0.174" stop-color="#00ff2b"/><stop offset="0.217" stop-color="#00ff28"/><stop offset="0.261" stop-color="#00ff25"/><stop offset="0.304" stop-color="#00ff22"/><stop offset="0.348" stop-color="#00ff1f"/><stop offset="0.391" stop-color="#00ff1c"/><stop offset="0.435" stop-color="#00ff19"/><stop offset="0.478" stop-color="#00ff16"/><stop offset="0.522" stop-color="#00ff13"/><stop offset="0.565" stop-color="#00ff0f"/><stop offset="0.609" stop-color="#00ff0c"/><stop offset="0.652" stop-color="#00ff09"/><stop offset="0.696" stop-color="#00ff06"/><stop offset="0.739" stop-color="#00ff03"/><stop offset="0.783" stop-color="#00ff01"/><stop offset="0.826" stop-color="#00ff00"/><stop offset="0.870" stop-color="#06ff00"/><stop offset="0.913" stop-color="#11ff00"/><stop offset="0.957" stop-color="#1eff00"/><stop offset="1.000" stop-color="#2eff00"/></linearGradient><linearGradient id="g26" gradientUnits="userSpaceOnUse" x1="385.5" x2="524.2" y1="0" y2="0"><stop offset="0.000" stop-color="#00ff39"/><stop offset="0.042" stop-color="#00ff36"/><stop offset="0.083" stop-color="#00ff33"/><stop offset="0.125" stop-color="#00ff31"/><stop offset="0.167" stop-color="#00ff2e"/><stop offset="0.208" stop-color="#00ff2b"/><stop offset="0.250" stop-color="#00ff28"/><stop offset="0.292" stop-color="#00ff25"/><stop offset="0.333" stop-color="#00ff22"/><stop offset="0.375" stop-color="#00ff1f"/><stop offset="0.417" stop-color="#00ff1c"/><stop offset="0.458" stop-color="#00ff19"/><stop offset="0.500" stop-color="#00ff16"/><stop offset="0.542" stop-color="#00ff13"/><stop offset="0.583" stop-color="#00ff10"/><stop offset="0.625" stop-color="#00ff0c"/><stop offset="0.667" stop-color="#00ff09"/><stop offset="0.708" stop-color="#00ff06"/><stop offset="0.750" stop-color="#00ff03"/><stop offset="0.792" stop-color="#00ff01"/><stop offset="0.833" stop-color="#03ff00"/><stop offset="0.875" stop-color="#0dff00"/><stop offset="0.917" stop-color="#1aff00"/><stop offset="0.958" stop-color="#29ff00"/><stop offset="1.000" stop-color="#3aff00"/></linearGradient><linearGradient id="g27" gradientUnits="userSpaceOnUse" x1="385.5" x2="527.0" y1="0" y2="0"><stop offset="0.000" stop-color="#00ff3c"/><stop offset="0.042" stop-color="#00ff39"/><stop offset="0.083" stop-color="#00ff36"/><stop offset="0.125" stop-color="#00ff34"/><stop offset="0.167" stop-color="#00ff31"/><stop offset="0.208" stop-color="#00ff2e"/><stop offset="0.250" stop-color="#00ff2b"/><stop offset="0.292" stop-color="#00ff28"/><stop offset="0.333" stop-color="#00ff25"/><stop offset="0.375" stop-color="#00ff22"/><stop offset="0.417" stop-color="#00ff1e"/><stop offset="0.458" stop-color="#00ff1b"/><stop offset="0.500" stop-color="#00ff18"/><stop offset="0.542" stop-color="#00ff15"/><stop offset="0.583" stop-color="#00ff11"/><stop offset="0.625" stop-color="#00ff0e"/><stop offset="0.667" stop-color="#00ff0a"/><stop offset="0.708" stop-color="#00ff07"/><stop offset="0.750" stop-color="#00ff04"/><stop offset="0.792" stop-color="#00ff01"/><stop offset="0.833" stop-color="#09ff00"/><stop offset="0.875" stop-color="#15ff00"/><stop offset="0.917" stop-color="#24ff00"/><stop offset="0.958" stop-color="#34ff00"/><stop offset="1.000" stop-color="#47ff00"/></linearGradient><linearGradient id="g28" gradientUnits="userSpaceOnUse" x1="385.6" x2="529.9" y1="0" y2="0"><stop offset="0.000" stop-color="#00ff3f"/><stop offset="0.040" stop-color="#00ff3c"/><stop offset="0.080" stop-color="#00ff3a"/><stop offset="0.120" stop-color="#00ff37"/><stop offset="0.160" stop-color="#00ff34"/><stop offset="0.200" stop-color="#00ff31"/><stop offset="0.240" stop-color="#00ff2e"/><stop offset="0.280" stop-color="#00ff2b"/><stop offset="0.320" stop-color="#00ff28"/><stop offset="0.360" stop-color="#00ff25"/><stop offset="0.400" stop-color="#00ff22"/><stop offset="0.440" stop-color="#00ff1f"/><stop offset="0.480" stop-color="#00ff1b"/><stop offset="0.520" stop-color="#00ff18"/><stop offset="0.560" stop-color="#00ff15"/><stop offset="0.600" stop-color="#00ff11"/><stop offset="0.640" stop-color="#00ff0e"/><stop offset="0.680" stop-color="#00ff0b"/><stop offset="0.720" stop-color="#00ff07"/><stop offset="0.760" stop-color="#00ff04"/><stop offset="0.800" stop-color="#06ff01"/><stop offset="0.840" stop-color="#12ff00"/><stop offset="0.880" stop-color="#20ff00"/><stop offset="0.920" stop-color="#30ff00"/><stop offset="0.960" stop-color="#42ff00"/><stop offset="1.000" stop-color="#56ff00"/></linearGradient><linearGradient id="g29" gradientUnits="userSpaceOnUse" x1="385.7" x2="532.7" y1="0" y2="0"><stop offset="0.000" stop-color="#00ff42"/><stop offset="0.040" stop-color="#00ff40"/><stop offset="0.080" stop-color="#00ff3d"/><stop offset="0.120" stop-color="#00ff3a"/><stop offset="0.160" stop-color="#00ff37"/><stop offset="0.200" stop-color="#00ff34"/><stop offset="0.240" stop-color="#00ff31"/><stop offset="0.280" stop-color="#00ff2e"/><stop offset="0.320" stop-color="#00ff2b"/><stop offset="0.360" stop-color="#00ff28"/><stop offset="0.400" stop-color="#00ff24"/><stop offset="0.440" stop-color="#00ff21"/><stop offset="0.480" stop-color="#00ff1e"/><stop offset="0.520" stop-color="#00ff1a"/><stop offset="0.560" stop-color="#00ff17"/><stop offset="0.600" stop-color="#00ff13"/><stop offset="0.640" stop-color="#00ff10"/><stop offset="0.680" stop-color="#00ff0c"/><stop offset="0.720" stop-color="#00ff08"/><stop offset="0.760" stop-color="#02ff05"/><stop offset="0.800" stop-color="#0dff02"/><stop offset="0.840" stop-color="#1aff00"/><stop offset="0.880" stop-color="#2aff00"/><stop offset="0.920" stop-color="#3cff00"/><stop offset="0.960" stop-color="#50ff00"/><stop offset="1.000" stop-color="#67ff00"/></linearGradient><linearGradient id="g30" gradientUnits="userSpaceOnUse" x1="385.8" x2="535.6" y1="0" y2="0"><stop offset="0.000" stop-color="#00ff46"/><stop offset="0.040" stop-color="#00ff43"/><stop offset="0.080" stop-color="#00ff40"/><stop offset="0.120" stop-color="#00ff3d"/><stop offset="0.160" stop-color="#00ff3a"/><stop offset="0.200" stop-color="#00ff37"/><stop offset="0.240" stop-color="#00ff34"/><stop offset="0.280" stop-color="#00ff31"/><stop offset="0.320" stop-color="#00ff2e"/><stop offset="0.360" stop-color="#00ff2a"/><stop offset="0.400" stop-color="#00ff27"/><stop offset="0.440" stop-color="#00ff23"/><stop offset="0.480" stop-color="#00ff20"/><stop offset="0.520" stop-color="#00ff1c"/><stop offset="0.560" stop-color="#00ff19"/><stop offset="0.600" stop-color="#00ff15"/><stop offset="0.640" stop-color="#00ff11"/><stop offset="0.680" stop-color="#00ff0d"/><stop offset="0.720" stop-color="#00ff0a"/><stop offset="0.760" stop-color="#07ff06"/><stop offset="0.800" stop-color="#14ff03"/><stop offset="0.840" stop-color="#24ff00"/><stop offset="0.880" stop-color="#35ff00"/><stop offset="0.920" stop-color="#4aff00"/><stop offset="0.960" stop-color="#60ff00"/><stop offset="1.000" stop-color="#79ff00"/></linearGradient><linearGradient id="g31" gradientUnits="userSpaceOnUse" x1="385.9" x2="538.5" y1="0" y2="0"><stop offset="0.000" stop-color="#00ff49"/><stop offset="0.038" stop-color="#00ff47"/><stop offset="0.077" stop-color="#00ff44"/><stop offset="0.115" stop-color="#00ff41"/><stop offset="0.154" stop-color="#00ff3e"/><stop offset="0.192" stop-color="#00ff3b"/><stop offset="0.231" stop-color="#00ff38"/><stop offset="0.269" stop-color="#00ff35"/><stop offset="0.308" stop-color="#00ff32"/><stop offset="0.346" stop-color="#00ff2e"/><stop offset="0.385" stop-color="#00ff2b"/><stop offset="0.423" stop-color="#00ff28"/><stop offset="0.462" stop-color="#00ff24"/><stop offset="0.500" stop-color="#00ff20"/><stop offset="0.538" stop-color="#00ff1d"/><stop offset="0.577" stop-color="#00ff19"/><stop offset="0.615" stop-color="#00ff15"/><stop offset="0.654" stop-color="#00ff11"/><stop offset="0.692" stop-color="#00ff0e"/><stop offset="0.731" stop-color="#05ff0a"/><stop offset="0.769" stop-color="#11ff07"/><stop offset="0.808" stop-color="#20ff03"/><stop offset="0.846" stop-color="#31ff00"/><stop offset="0.885" stop-color="#45ff00"/><stop offset="0.923" stop-color="#5bff00"/><stop offset="0.962" stop-color="#73ff00"/><stop offset="1.000" stop-color="#8eff00"/></linearGradient><linearGradient id="g32" gradientUnits="userSpaceOnUse" x1="386.0" x2="541.3" y1="0" y2="0"><stop offset="0.000" stop-color="#00ff4d"/><stop offset="0.038" stop-color="#00ff4a"/><stop offset="0.077" stop-color="#00ff47"/><stop offset="0.115" stop-color="#00ff45"/><stop offset="0.154" stop-color="#00ff42"/><stop offset="0.192" stop-color="#00ff3f"/><stop offset="0.231" stop-color="#00ff3b"/><stop offset="0.269" stop-color="#00ff38"/><stop offset="0.308" stop-color="#00ff35"/><stop offset="0.346" stop-color="#00ff31"/><stop offset="0.385" stop-color="#00ff2e"/><stop offset="0.423" stop-color="#00ff2a"/><stop offset="0.462" stop-color="#00ff27"/><stop offset="0.500" stop-color="#00ff23"/><stop offset="0.538" stop-color="#00ff1f"/><stop offset="0.577" stop-color="#00ff1b"/><stop offset="0.615" stop-color="#00ff17"/><stop offset="0.654" stop-color="#00ff13"/><stop offset="0.692" stop-color="#01ff0f"/><stop offset="0.731" stop-color="#0bff0b"/><stop offset="0.769" stop-color="#19ff08"/><stop offset="0.808" stop-color="#2aff04"/><stop offset="0.846" stop-color="#3eff01"/><stop offset="0.885" stop-color="#53ff00"/><stop offset="0.923" stop-color="#6cff00"/><stop offset="0.962" stop-color="#87ff00"/><stop offset="1.000" stop-color="#a5ff00"/></linearGradient><linearGradient id="g33" gradientUnits="userSpaceOnUse" x1="386.1" x2="544.2" y1="0" y2="0"><stop offset="0.000" stop-color="#00ff51"/><stop offset="0.037" stop-color="#00ff4e"/><stop offset="0.074" stop-color="#00ff4b"/><stop offset="0.111" stop-color="#00ff49"/><stop offset="0.148" stop-color="#00ff46"/><stop offset="0.185" stop-color="#00ff43"/><stop offset="0.222" stop-color="#00ff40"/><stop offset="0.259" stop-color="#00ff3c"/><stop offset="0.296" stop-color="#00ff39"/><stop offset="0.333" stop-color="#00ff36"/><stop offset="0.370" stop-color="#00ff32"/><stop offset="0.407" stop-color="#00ff2f"/><stop offset="0.444" stop-color="#00ff2b"/><stop offset="0.481" stop-color="#00ff28"/><stop offset="0.519" stop-color="#00ff24"/><stop offset="0.556" stop-color="#00ff20"/><stop offset="0.593" stop-color="#00ff1c"/><stop offset="0.630" stop-color="#00ff18"/><stop offset="0.667" stop-color="#00ff14"/><stop offset="0.704" stop-color="#09ff10"/><stop offset="0.741" stop-color="#16ff0c"/><stop offset="0.778" stop-color="#27ff09"/><stop offset="0.815" stop-color="#3aff05"/><stop offset="0.852" stop-color="#4fff01"/><stop offset="0.889" stop-color="#67ff00"/><stop offset="0.926" stop-color="#81ff00"/><stop offset="0.963" stop-color="#9fff00"/><stop offset="1.000" stop-color="#bfff00"/></linearGradient><linearGradient id="g34" gradientUnits="userSpaceOnUse" x1="386.2" x2="547.1" y1="0" y2="0"><stop offset="0.000" stop-color="#00ff55"/><stop offset="0.037" stop-color="#00ff52"/><stop offset="0.074" stop-color="#00ff4f"/><stop offset="0.111" stop-color="#00ff4c"/><stop offset="0.148" stop-color="#00ff4a"/><stop offset="0.185" stop-color="#00ff46"/><stop offset="0.222" stop-color="#00ff43"/><stop offset="0.259" stop-color="#00ff40"/><stop offset="0.296" stop-color="#00ff3d"/><stop offset="0.333" stop-color="#00ff39"/><stop offset="0.370" stop-color="#00ff36"/><stop offset="0.407" stop-color="#00ff32"/><stop offset="0.444" stop-color="#00ff2e"/><stop offset="0.481" stop-color="#00ff2a"/><stop offset="0.519" stop-color="#00ff26"/><stop offset="0.556" stop-color="#00ff22"/><stop offset="0.593" stop-color="#00ff1e"/><stop offset="0.630" stop-color="#00ff1a"/><stop offset="0.667" stop-color="#04ff16"/><stop offset="0.704" stop-color="#10ff12"/><stop offset="0.741" stop-color="#1fff0e"/><stop offset="0.778" stop-color="#32ff0a"/><stop offset="0.815" stop-color="#47ff06"/><stop offset="0.852" stop-color="#5fff02"/><stop offset="0.889" stop-color="#79ff00"/><stop offset="0.926" stop-color="#97ff00"/><stop offset="0.963" stop-color="#b8ff00"/><stop offset="1.000" stop-color="#dcff00"/></linearGradient><linearGradient id="g35" gradientUnits="userSpaceOnUse" x1="386.4" x2="550.0" y1="0" y2="0"><stop offset="0.000" stop-color="#00ff59"/><stop offset="0.036" stop-color="#00ff56"/><stop offset="0.071" stop-color="#00ff54"/><stop offset="0.107" stop-color="#00ff51"/><stop offset="0.143" stop-color="#00ff4e"/><stop offset="0.179" stop-color="#00ff4b"/><stop offset="0.214" stop-color="#00ff48"/><stop offset="0.250" stop-color="#00ff45"/><stop offset="0.286" stop-color="#00ff41"/><stop offset="0.321" stop-color="#00ff3e"/><stop offset="0.357" stop-color="#00ff3a"/><stop offset="0.393" stop-color="#00ff37"/><stop offset="0.429" stop-color="#00ff33"/><stop offset="0.464" stop-color="#00ff2f"/><stop offset="0.500" stop-color="#00ff2b"/><stop offset="0.536" stop-color="#00ff27"/><stop offset="0.571" stop-color="#00ff23"/><stop offset="0.607" stop-color="#00ff1f"/><stop offset="0.643" stop-color="#02ff1b"/><stop offset="0.679" stop-color="#0dff17"/><stop offset="0.714" stop-color="#1dff13"/><stop offset="0.750" stop-color="#2eff10"/><stop offset="0.786" stop-color="#43ff0c"/><stop offset="0.821" stop-color="#5aff07"/><stop offset="0.857" stop-color="#74ff02"/><stop offset="0.893" stop-color="#91ff00"/><stop offset="0.929" stop-color="#b1ff00"/><stop offset="0.964" stop-color="#d5ff00"/><stop offset="1.000" stop-color="#fcff00"/></linearGradient><linearGradient id="g36" gradientUnits="userSpaceOnUse" x1="386.5" x2="552.8" y1="0" y2="0"><stop offset="0.000" stop-color="#00ff5d"/><stop offset="0.036" stop-color="#00ff5b"/><stop offset="0.071" stop-color="#00ff58"/><stop offset="0.107" stop-color="#00ff55"/><stop offset="0.143" stop-color="#00ff52"/><stop offset="0.179" stop-color="#00ff4f"/><stop offset="0.214" stop-color="#00ff4c"/><stop offset="0.250" stop-color="#00ff49"/><stop offset="0.286" stop-color="#00ff45"/><stop offset="0.321" stop-color="#00ff42"/><stop offset="0.357" stop-color="#00ff3e"/><stop offset="0.393" stop-color="#00ff3a"/><stop offset="0.429" stop-color="#00ff37"/><stop offset="0.464" stop-color="#00ff33"/><stop offset="0.500" stop-color="#00ff2f"/><stop offset="0.536" stop-color="#00ff2a"/><stop offset="0.571" stop-color="#00ff26"/><stop offset="0.607" stop-color="#00ff22"/><stop offset="0.643" stop-color="#07ff1d"/><stop offset="0.679" stop-color="#15ff1a"/><stop offset="0.714" stop-color="#26ff16"/><stop offset="0.750" stop-color="#3bff12"/><stop offset="0.786" stop-color="#52ff0e"/><stop offset="0.821" stop-color="#6bff0a"/><stop offset="0.857" stop-color="#88ff04"/><stop offset="0.893" stop-color="#a9ff00"/><stop offset="0.929" stop-color="#cdff00"/><stop offset="0.964" stop-color="#f4ff00"/><stop offset="1.000" stop-color="#fff100"/></linearGradient><linearGradient id="g37" gradientUnits="userSpaceOnUse" x1="386.7" x2="555.7" y1="0" y2="0"><stop offset="0.000" stop-color="#00ff62"/><stop offset="0.034" stop-color="#00ff5f"/><stop offset="0.069" stop-color="#00ff5d"/><stop offset="0.103" stop-color="#00ff5a"/><stop offset="0.138" stop-color="#00ff57"/><stop offset="0.172" stop-color="#00ff54"/><stop offset="0.207" stop-color="#00ff51"/><stop offset="0.241" stop-color="#00ff4e"/><stop offset="0.276" stop-color="#00ff4a"/><stop offset="0.310" stop-color="#00ff47"/><stop offset="0.345" stop-color="#00ff43"/><stop offset="0.379" stop-color="#00ff40"/><stop offset="0.414" stop-color="#00ff3c"/><stop offset="0.448" stop-color="#00ff38"/><stop offset="0.483" stop-color="#00ff34"/><stop offset="0.517" stop-color="#00ff30"/><stop offset="0.552" stop-color="#00ff2c"/><stop offset="0.586" stop-color="#00ff27"/><stop offset="0.621" stop-color="#05ff23"/><stop offset="0.655" stop-color="#13ff1f"/><stop offset="0.690" stop-color="#24ff1c"/><stop offset="0.724" stop-color="#37ff18"/><stop offset="0.759" stop-color="#4eff14"/><stop offset="0.793" stop-color="#67ff10"/><stop offset="0.828" stop-color="#84ff0b"/><stop offset="0.862" stop-color="#a4ff05"/><stop offset="0.897" stop-color="#c7ff00"/><stop offset="0.931" stop-color="#eeff00"/><stop offset="0.966" stop-color="#fff400"/><stop offset="1.000" stop-color="#ffe300"/></linearGradient><linearGradient id="g38" gradientUnits="userSpaceOnUse" x1="386.8" x2="558.6" y1="0" y2="0"><stop offset="0.000" stop-color="#00ff67"/><stop offset="0.034" stop-color="#00ff64"/><stop offset="0.069" stop-color="#00ff61"/><stop offset="0.103" stop-color="#00ff5e"/><stop offset="0.138" stop-color="#00ff5b"/><stop offset="0.172" stop-color="#00ff58"/><stop offset="0.207" stop-color="#00ff55"/><stop offset="0.241" stop-color="#00ff52"/><stop offset="0.276" stop-color="#00ff4f"/><stop offset="0.310" stop-color="#00ff4b"/><stop offset="0.345" stop-color="#00ff48"/><stop offset="0.379" stop-color="#00ff44"/><stop offset="0.414" stop-color="#00ff40"/><stop offset="0.448" stop-color="#00ff3c"/><stop offset="0.483" stop-color="#00ff38"/><stop offset="0.517" stop-color="#00ff34"/><stop offset="0.552" stop-color="#00ff2f"/><stop offset="0.586" stop-color="#00ff2a"/><stop offset="0.621" stop-color="#0cff27"/><stop offset="0.655" stop-color="#1bff23"/><stop offset="0.690" stop-color="#2eff1f"/><stop offset="0.724" stop-color="#45ff1c"/><stop offset="0.759" stop-color="#5eff18"/><stop offset="0.793" stop-color="#7aff14"/><stop offset="0.828" stop-color="#9aff0e"/><stop offset="0.862" stop-color="#bdff07"/><stop offset="0.897" stop-color="#e5ff00"/><stop offset="0.931" stop-color="#fff700"/><stop offset="0.966" stop-color="#ffe600"/><stop offset="1.000" stop-color="#ffd600"/></linearGradient><linearGradient id="g39" gradientUnits="userSpaceOnUse" x1="387.0" x2="561.5" y1="0" y2="0"><stop offset="0.000" stop-color="#00ff6c"/><stop offset="0.033" stop-color="#00ff69"/><stop offset="0.067" stop-color="#00ff66"/><stop offset="0.100" stop-color="#00ff64"/><stop offset="0.133" stop-color="#00ff61"/><stop offset="0.167" stop-color="#00ff5e"/><stop offset="0.200" stop-color="#00ff5b"/><stop offset="0.233" stop-color="#00ff57"/><stop offset="0.267" stop-color="#00ff54"/><stop offset="0.300" stop-color="#00ff51"/><stop offset="0.333" stop-color="#00ff4d"/><stop offset="0.367" stop-color="#00ff4a"/><stop offset="0.400" stop-color="#00ff46"/><stop offset="0.433" stop-color="#00ff42"/><stop offset="0.467" stop-color="#00ff3e"/><stop offset="0.500" stop-color="#00ff3a"/><stop offset="0.533" stop-color="#00ff35"/><stop offset="0.567" stop-color="#00ff31"/><stop offset="0.600" stop-color="#0aff2d"/><stop offset="0.633" stop-color="#19ff29"/><stop offset="0.667" stop-color="#2cff26"/><stop offset="0.700" stop-color="#42ff22"/><stop offset="0.733" stop-color="#5bff1f"/><stop offset="0.767" stop-color="#77ff1b"/><stop offset="0.800" stop-color="#96ff17"/><stop offset="0.833" stop-color="#b9ff11"/><stop offset="0.867" stop-color="#e0ff09"/><stop offset="0.900" stop-color="#fffa00"/><stop offset="0.933" stop-color="#ffe800"/><stop offset="0.967" stop-color="#ffd800"/><stop offset="1.000" stop-color="#ffca00"/></linearGradient><linearGradient id="g40" gradientUnits="userSpaceOnUse" x1="387.4" x2="564.4" y1="0" y2="0"><stop offset="0.000" stop-color="#00ff71"/><stop offset="0.033" stop-color="#00ff6e"/><stop offset="0.067" stop-color="#00ff6b"/><stop offset="0.100" stop-color="#00ff69"/><stop offset="0.133" stop-color="#00ff66"/><stop offset="0.167" stop-color="#00ff63"/><stop offset="0.200" stop-color="#00ff60"/><stop offset="0.233" stop-color="#00ff5c"/><stop offset="0.267" stop-color="#00ff59"/><stop offset="0.300" stop-color="#00ff55"/><stop offset="0.333" stop-color="#00ff52"/><stop offset="0.367" stop-color="#00ff4e"/><stop offset="0.400" stop-color="#00ff4a"/><stop offset="0.433" stop-color="#00ff46"/><stop offset="0.467" stop-color="#00ff42"/><stop offset="0.500" stop-color="#00ff3e"/><stop offset="0.533" stop-color="#00ff39"/><stop offset="0.567" stop-color="#04ff35"/><stop offset="0.600" stop-color="#11ff31"/><stop offset="0.633" stop-color="#23ff2e"/><stop offset="0.667" stop-color="#38ff2a"/><stop offset="0.700" stop-color="#51ff27"/><stop offset="0.733" stop-color="#6cff24"/><stop offset="0.767" stop-color="#8cff20"/><stop offset="0.800" stop-color="#afff1b"/><stop offset="0.833" stop-color="#d6ff16"/><stop offset="0.867" stop-color="#fffe0d"/><stop offset="0.900" stop-color="#ffeb00"/><stop offset="0.933" stop-color="#ffda00"/><stop offset="0.967" stop-color="#ffcc00"/><stop offset="1.000" stop-color="#ffbf00"/></linearGradient><linearGradient id="g41" gradientUnits="userSpaceOnUse" x1="387.7" x2="567.3" y1="0" y2="0"><stop offset="0.000" stop-color="#00ff76"/><stop offset="0.033" stop-color="#00ff73"/><stop offset="0.067" stop-color="#00ff71"/><stop offset="0.100" stop-color="#00ff6e"/><stop offset="0.133" stop-color="#00ff6b"/><stop offset="0.167" stop-color="#00ff68"/><stop offset="0.200" stop-color="#00ff65"/><stop offset="0.233" stop-color="#00ff61"/><stop offset="0.267" stop-color="#00ff5e"/><stop offset="0.300" stop-color="#00ff5b"/><stop offset="0.333" stop-color="#00ff57"/><stop offset="0.367" stop-color="#00ff53"/><stop offset="0.400" stop-color="#00ff4f"/><stop offset="0.433" stop-color="#00ff4b"/><stop offset="0.467" stop-color="#00ff47"/><stop offset="0.500" stop-color="#00ff42"/><stop offset="0.533" stop-color="#00ff3d"/><stop offset="0.567" stop-color="#0aff39"/><stop offset="0.600" stop-color="#1aff36"/><stop offset="0.633" stop-color="#2eff33"/><stop offset="0.667" stop-color="#46ff30"/><stop offset="0.700" stop-color="#61ff2c"/><stop offset="0.733" stop-color="#80ff29"/><stop offset="0.767" stop-color="#a3ff26"/><stop offset="0.800" stop-color="#caff21"/><stop offset="0.833" stop-color="#f6ff1b"/><stop offset="0.867" stop-color="#ffef0e"/><stop offset="0.900" stop-color="#ffdd00"/><stop offset="0.933" stop-color="#ffce00"/><stop offset="0.967" stop-color="#ffc000"/><stop offset="1.000" stop-color="#ffb300"/></linearGradient><linearGradient id="g42" gradientUnits="userSpaceOnUse" x1="388.0" x2="570.2" y1="0" y2="0"><stop offset="0.000" stop-color="#00ff7b"/><stop offset="0.032" stop-color="#00ff79"/><stop offset="0.065" stop-color="#00ff76"/><stop offset="0.097" stop-color="#00ff74"/><stop offset="0.129" stop-color="#00ff71"/><stop offset="0.161" stop-color="#00ff6e"/><stop offset="0.194" stop-color="#00ff6b"/><stop offset="0.226" stop-color="#00ff68"/><stop offset="0.258" stop-color="#00ff64"/><stop offset="0.290" stop-color="#00ff61"/><stop offset="0.323" stop-color="#00ff5d"/><stop offset="0.355" stop-color="#00ff5a"/><stop offset="0.387" stop-color="#00ff56"/><stop offset="0.419" stop-color="#00ff52"/><stop offset="0.452" stop-color="#00ff4e"/><stop offset="0.484" stop-color="#00ff49"/><stop offset="0.516" stop-color="#00ff45"/><stop offset="0.548" stop-color="#08ff40"/><stop offset="0.581" stop-color="#18ff3d"/><stop offset="0.613" stop-color="#2cff3a"/><stop offset="0.645" stop-color="#44ff37"/><stop offset="0.677" stop-color="#5fff35"/><stop offset="0.710" stop-color="#7dff32"/><stop offset="0.742" stop-color="#a0ff2f"/><stop offset="0.774" stop-color="#c7ff2b"/><stop offset="0.806" stop-color="#f2ff27"/><stop offset="0.839" stop-color="#fff01b"/><stop offset="0.871" stop-color="#ffdf0e"/><stop offset="0.903" stop-color="#ffcf01"/><stop offset="0.935" stop-color="#ffc100"/><stop offset="0.968" stop-color="#ffb400"/><stop offset="1.000" stop-color="#ffa900"/></linearGradient><linearGradient id="g43" gradientUnits="userSpaceOnUse" x1="388.4" x2="573.1" y1="0" y2="0"><stop offset="0.000" stop-color="#00ff81"/><stop offset="0.032" stop-color="#00ff7f"/><stop offset="0.065" stop-color="#00ff7c"/><stop offset="0.097" stop-color="#00ff79"/><stop offset="0.129" stop-color="#00ff76"/><stop offset="0.161" stop-color="#00ff74"/><stop offset="0.194" stop-color="#00ff70"/><stop offset="0.226" stop-color="#00ff6d"/><stop offset="0.258" stop-color="#00ff6a"/><stop offset="0.290" stop-color="#00ff67"/><stop offset="0.323" stop-color="#00ff63"/><stop offset="0.355" stop-color="#00ff5f"/><stop offset="0.387" stop-color="#00ff5b"/><stop offset="0.419" stop-color="#00ff57"/><stop offset="0.452" stop-color="#00ff53"/><stop offset="0.484" stop-color="#00ff4e"/><stop offset="0.516" stop-color="#02ff4a"/><stop offset="0.548" stop-color="#0fff46"/><stop offset="0.581" stop-color="#22ff43"/><stop offset="0.613" stop-color="#39ff40"/><stop offset="0.645" stop-color="#53ff3e"/><stop offset="0.677" stop-color="#71ff3b"/><stop offset="0.710" stop-color="#93ff39"/><stop offset="0.742" stop-color="#baff36"/><stop offset="0.774" stop-color="#e6ff33"/><stop offset="0.806" stop-color="#fff529"/><stop offset="0.839" stop-color="#ffe21b"/><stop offset="0.871" stop-color="#ffd20f"/><stop offset="0.903" stop-color="#ffc303"/><stop offset="0.935" stop-color="#ffb600"/><stop offset="0.968" stop-color="#ffaa00"/><stop offset="1.000" stop-color="#ff9f00"/></linearGradient><linearGradient id="g44" gradientUnits="userSpaceOnUse" x1="388.9" x2="576.0" y1="0" y2="0"><stop offset="0.000" stop-color="#00ff87"/><stop offset="0.031" stop-color="#00ff85"/><stop offset="0.062" stop-color="#00ff82"/><stop offset="0.094" stop-color="#00ff80"/><stop offset="0.125" stop-color="#00ff7d"/><stop offset="0.156" stop-color="#00ff7a"/><stop offset="0.188" stop-color="#00ff77"/><stop offset="0.219" stop-color="#00ff74"/><stop offset="0.250" stop-color="#00ff71"/><stop offset="0.281" stop-color="#00ff6e"/><stop offset="0.312" stop-color="#00ff6a"/><stop offset="0.344" stop-color="#00ff66"/><stop offset="0.375" stop-color="#00ff63"/><stop offset="0.406" stop-color="#00ff5f"/><stop offset="0.438" stop-color="#00ff5b"/><stop offset="0.469" stop-color="#00ff56"/><stop offset="0.500" stop-color="#01ff52"/><stop offset="0.531" stop-color="#0fff4e"/><stop offset="0.562" stop-color="#21ff4b"/><stop offset="0.594" stop-color="#37ff49"/><stop offset="0.625" stop-color="#52ff46"/><stop offset="0.656" stop-color="#70ff44"/><stop offset="0.688" stop-color="#92ff42"/><stop offset="0.719" stop-color="#b8ff40"/><stop offset="0.750" stop-color="#e4ff3e"/><stop offset="0.781" stop-color="#fff635"/><stop offset="0.812" stop-color="#ffe326"/><stop offset="0.844" stop-color="#ffd21a"/><stop offset="0.875" stop-color="#ffc30e"/><stop offset="0.906" stop-color="#ffb603"/><stop offset="0.938" stop-color="#ffaa00"/><stop offset="0.969" stop-color="#ff9f00"/><stop offset="1.000" stop-color="#ff9500"/></linearGradient><linearGradient id="g45" gradientUnits="userSpaceOnUse" x1="389.5" x2="578.8" y1="0" y2="0"><stop offset="0.000" stop-color="#00ff8d"/><stop offset="0.031" stop-color="#00ff8b"/><stop offset="0.062" stop-color="#00ff88"/><stop offset="0.094" stop-color="#00ff86"/><stop offset="0.125" stop-color="#00ff83"/><stop offset="0.156" stop-color="#00ff80"/><stop offset="0.188" stop-color="#00ff7d"/><stop offset="0.219" stop-color="#00ff7a"/><stop offset="0.250" stop-color="#00ff77"/><stop offset="0.281" stop-color="#00ff74"/><stop offset="0.312" stop-color="#00ff70"/><stop offset="0.344" stop-color="#00ff6d"/><stop offset="0.375" stop-color="#00ff69"/><stop offset="0.406" stop-color="#00ff65"/><stop offset="0.438" stop-color="#00ff61"/><stop offset="0.469" stop-color="#00ff5c"/><stop offset="0.500" stop-color="#07ff58"/><stop offset="0.531" stop-color="#17ff55"/><stop offset="0.562" stop-color="#2dff52"/><stop offset="0.594" stop-color="#46ff50"/><stop offset="0.625" stop-color="#63ff4e"/><stop offset="0.656" stop-color="#85ff4d"/><stop offset="0.688" stop-color="#abff4b"/><stop offset="0.719" stop-color="#d6ff49"/><stop offset="0.750" stop-color="#fffb45"/><stop offset="0.781" stop-color="#ffe734"/><stop offset="0.812" stop-color="#ffd526"/><stop offset="0.844" stop-color="#ffc61a"/><stop offset="0.875" stop-color="#ffb80f"/><stop offset="0.906" stop-color="#ffab04"/><stop offset="0.938" stop-color="#ffa000"/><stop offset="0.969" stop-color="#ff9500"/><stop offset="1.000" stop-color="#ff8b00"/></linearGradient><linearGradient id="g46" gradientUnits="userSpaceOnUse" x1="390.1" x2="581.7" y1="0" y2="0"><stop offset="0.000" stop-color="#00ff94"/><stop offset="0.031" stop-color="#00ff91"/><stop offset="0.062" stop-color="#00ff8f"/><stop offset="0.094" stop-color="#00ff8c"/><stop offset="0.125" stop-color="#00ff8a"/><stop offset="0.156" stop-color="#00ff87"/><stop offset="0.188" stop-color="#00ff84"/><stop offset="0.219" stop-color="#00ff81"/><stop offset="0.250" stop-color="#00ff7e"/><stop offset="0.281" stop-color="#00ff7b"/><stop offset="0.312" stop-color="#00ff77"/><stop offset="0.344" stop-color="#00ff73"/><stop offset="0.375" stop-color="#00ff70"/><stop offset="0.406" stop-color="#00ff6c"/><stop offset="0.438" stop-color="#00ff67"/><stop offset="0.469" stop-color="#00ff63"/><stop offset="0.500" stop-color="#0eff5f"/><stop offset="0.531" stop-color="#22ff5d"/><stop offset="0.562" stop-color="#3aff5a"/><stop offset="0.594" stop-color="#57ff59"/><stop offset="0.625" stop-color="#77ff57"/><stop offset="0.656" stop-color="#9dff56"/><stop offset="0.688" stop-color="#c8ff55"/><stop offset="0.719" stop-color="#f9ff54"/><stop offset="0.750" stop-color="#ffec43"/><stop offset="0.781" stop-color="#ffd933"/><stop offset="0.812" stop-color="#ffc826"/><stop offset="0.844" stop-color="#ffba1a"/><stop offset="0.875" stop-color="#ffad0f"/><stop offset="0.906" stop-color="#ffa105"/><stop offset="0.938" stop-color="#ff9600"/><stop offset="0.969" stop-color="#ff8b00"/><stop offset="1.000" stop-color="#ff8200"/></linearGradient><linearGradient id="g47" gradientUnits="userSpaceOnUse" x1="390.8" x2="584.6" y1="0" y2="0"><stop offset="0.000" stop-color="#00ff9b"/><stop offset="0.030" stop-color="#00ff98"/><stop offset="0.061" stop-color="#00ff96"/><stop offset="0.091" stop-color="#00ff94"/><stop offset="0.121" stop-color="#00ff91"/><stop offset="0.152" stop-color="#00ff8e"/><stop offset="0.182" stop-color="#00ff8c"/><stop offset="0.212" stop-color="#00ff89"/><stop offset="0.242" stop-color="#00ff86"/><stop offset="0.273" stop-color="#00ff83"/><stop offset="0.303" stop-color="#00ff7f"/><stop offset="0.333" stop-color="#00ff7c"/><stop offset="0.364" stop-color="#00ff78"/><stop offset="0.394" stop-color="#00ff74"/><stop offset="0.424" stop-color="#00ff70"/><stop offset="0.455" stop-color="#00ff6c"/><stop offset="0.485" stop-color="#0eff69"/><stop offset="0.515" stop-color="#21ff66"/><stop offset="0.545" stop-color="#3aff64"/><stop offset="0.576" stop-color="#56ff63"/><stop offset="0.606" stop-color="#77ff62"/><stop offset="0.636" stop-color="#9dff61"/><stop offset="0.667" stop-color="#c8ff60"/><stop offset="0.697" stop-color="#f9ff5f"/><stop offset="0.727" stop-color="#ffec4e"/><stop offset="0.758" stop-color="#ffd93e"/><stop offset="0.788" stop-color="#ffc830"/><stop offset="0.818" stop-color="#ffba24"/><stop offset="0.848" stop-color="#ffac19"/><stop offset="0.879" stop-color="#ffa00f"/><stop offset="0.909" stop-color="#ff9505"/><stop offset="0.939" stop-color="#ff8b00"/><stop offset="0.970" stop-color="#ff8200"/><stop offset="1.000" stop-color="#ff7900"/></linearGradient><linearGradient id="g48" gradientUnits="userSpaceOnUse" x1="391.4" x2="587.5" y1="0" y2="0"><stop offset="0.000" stop-color="#00ffa2"/><stop offset="0.030" stop-color="#00ffa0"/><stop offset="0.061" stop-color="#00ff9d"/><stop offset="0.091" stop-color="#00ff9b"/><stop offset="0.121" stop-color="#00ff99"/><stop offset="0.152" stop-color="#00ff96"/><stop offset="0.182" stop-color="#00ff93"/><stop offset="0.212" stop-color="#00ff90"/><stop offset="0.242" stop-color="#00ff8d"/><stop offset="0.273" stop-color="#00ff8a"/><stop offset="0.303" stop-color="#00ff87"/><stop offset="0.333" stop-color="#00ff84"/><stop offset="0.364" stop-color="#00ff80"/><stop offset="0.394" stop-color="#00ff7c"/><stop offset="0.424" stop-color="#00ff78"/><stop offset="0.455" stop-color="#05ff74"/><stop offset="0.485" stop-color="#17ff71"/><stop offset="0.515" stop-color="#2eff6f"/><stop offset="0.545" stop-color="#49ff6e"/><stop offset="0.576" stop-color="#69ff6d"/><stop offset="0.606" stop-color="#8eff6c"/><stop offset="0.636" stop-color="#b8ff6c"/><stop offset="0.667" stop-color="#e9ff6c"/><stop offset="0.697" stop-color="#fff25f"/><stop offset="0.727" stop-color="#ffdd4c"/><stop offset="0.758" stop-color="#ffcc3d"/><stop offset="0.788" stop-color="#ffbc2f"/><stop offset="0.818" stop-color="#ffae23"/><stop offset="0.848" stop-color="#ffa219"/><stop offset="0.879" stop-color="#ff960f"/><stop offset="0.909" stop-color="#ff8c06"/><stop offset="0.939" stop-color="#ff8200"/><stop offset="0.970" stop-color="#ff7800"/><stop offset="1.000" stop-color="#ff7000"/></linearGradient><linearGradient id="g49" gradientUnits="userSpaceOnUse" x1="392.1" x2="590.4" y1="0" y2="0"><stop offset="0.000" stop-color="#00ffa9"/><stop offset="0.029" stop-color="#00ffa7"/><stop offset="0.059" stop-color="#00ffa5"/><stop offset="0.088" stop-color="#00ffa3"/><stop offset="0.118" stop-color="#00ffa1"/><stop offset="0.147" stop-color="#00ff9e"/><stop offset="0.176" stop-color="#00ff9c"/><stop offset="0.206" stop-color="#00ff99"/><stop offset="0.235" stop-color="#00ff96"/><stop offset="0.265" stop-color="#00ff93"/><stop offset="0.294" stop-color="#00ff90"/><stop offset="0.324" stop-color="#00ff8d"/><stop offset="0.353" stop-color="#00ff8a"/><stop offset="0.382" stop-color="#00ff86"/><stop offset="0.412" stop-color="#00ff82"/><stop offset="0.441" stop-color="#05ff7f"/><stop offset="0.471" stop-color="#17ff7c"/><stop offset="0.500" stop-color="#2eff7a"/><stop offset="0.529" stop-color="#4aff79"/><stop offset="0.559" stop-color="#6aff78"/><stop offset="0.588" stop-color="#8fff78"/><stop offset="0.618" stop-color="#baff78"/><stop offset="0.647" stop-color="#ebff78"/><stop offset="0.676" stop-color="#fff16a"/><stop offset="0.706" stop-color="#ffdc57"/><stop offset="0.735" stop-color="#ffcb46"/><stop offset="0.765" stop-color="#ffbb38"/><stop offset="0.794" stop-color="#ffad2c"/><stop offset="0.824" stop-color="#ffa122"/><stop offset="0.853" stop-color="#ff9518"/><stop offset="0.882" stop-color="#ff8b0f"/><stop offset="0.912" stop-color="#ff8106"/><stop offset="0.941" stop-color="#ff7800"/><stop offset="0.971" stop-color="#ff6f00"/><stop offset="1.000" stop-color="#ff6700"/></linearGradient><linearGradient id="g50" gradientUnits="userSpaceOnUse" x1="392.9" x2="593.3" y1="0" y2="0"><stop offset="0.000" stop-color="#00ffb1"/><stop offset="0.029" stop-color="#00ffaf"/><stop offset="0.059" stop-color="#00ffad"/><stop offset="0.088" stop-color="#00ffab"/><stop offset="0.118" stop-color="#00ffa9"/><stop offset="0.147" stop-color="#00ffa7"/><stop offset="0.176" stop-color="#00ffa4"/><stop offset="0.206" stop-color="#00ffa2"/><stop offset="0.235" stop-color="#00ff9f"/><stop offset="0.265" stop-color="#00ff9c"/><stop offset="0.294" stop-color="#00ff99"/><stop offset="0.324" stop-color="#00ff96"/><stop offset="0.353" stop-color="#00ff93"/><stop offset="0.382" stop-color="#00ff8f"/><stop offset="0.412" stop-color="#00ff8c"/><stop offset="0.441" stop-color="#0dff89"/><stop offset="0.471" stop-color="#22ff87"/><stop offset="0.500" stop-color="#3cff85"/><stop offset="0.529" stop-color="#5cff84"/><stop offset="0.559" stop-color="#80ff84"/><stop offset="0.588" stop-color="#aaff84"/><stop offset="0.618" stop-color="#daff85"/><stop offset="0.647" stop-color="#fff77d"/><stop offset="0.676" stop-color="#ffe167"/><stop offset="0.706" stop-color="#ffce54"/><stop offset="0.735" stop-color="#ffbe45"/><stop offset="0.765" stop-color="#ffaf37"/><stop offset="0.794" stop-color="#ffa22c"/><stop offset="0.824" stop-color="#ff9621"/><stop offset="0.853" stop-color="#ff8b18"/><stop offset="0.882" stop-color="#ff810f"/><stop offset="0.912" stop-color="#ff7807"/><stop offset="0.941" stop-color="#ff6e00"/><stop offset="0.971" stop-color="#ff6600"/><stop offset="1.000" stop-color="#ff5e00"/></linearGradient><linearGradient id="g51" gradientUnits="userSpaceOnUse" x1="393.6" x2="596.3" y1="0" y2="0"><stop offset="0.000" stop-color="#00ffb9"/><stop offset="0.029" stop-color="#00ffb8"/><stop offset="0.059" stop-color="#00ffb6"/><stop offset="0.088" stop-color="#00ffb4"/><stop offset="0.118" stop-color="#00ffb2"/><stop offset="0.147" stop-color="#00ffb0"/><stop offset="0.176" stop-color="#00ffad"/><stop offset="0.206" stop-color="#00ffab"/><stop offset="0.235" stop-color="#00ffa8"/><stop offset="0.265" stop-color="#00ffa6"/><stop offset="0.294" stop-color="#00ffa3"/><stop offset="0.324" stop-color="#00ffa0"/><stop offset="0.353" stop-color="#00ff9d"/><stop offset="0.382" stop-color="#00ff99"/><stop offset="0.412" stop-color="#04ff96"/><stop offset="0.441" stop-color="#16ff94"/><stop offset="0.471" stop-color="#2fff92"/><stop offset="0.500" stop-color="#4dff91"/><stop offset="0.529" stop-color="#70ff91"/><stop offset="0.559" stop-color="#99ff91"/><stop offset="0.588" stop-color="#c9ff92"/><stop offset="0.618" stop-color="#ffff92"/><stop offset="0.647" stop-color="#ffe779"/><stop offset="0.676" stop-color="#ffd364"/><stop offset="0.706" stop-color="#ffc152"/><stop offset="0.735" stop-color="#ffb243"/><stop offset="0.765" stop-color="#ffa437"/><stop offset="0.794" stop-color="#ff972b"/><stop offset="0.824" stop-color="#ff8c21"/><stop offset="0.853" stop-color="#ff8118"/><stop offset="0.882" stop-color="#ff7710"/><stop offset="0.912" stop-color="#ff6e08"/><stop offset="0.941" stop-color="#ff6500"/><stop offset="0.971" stop-color="#ff5d00"/><stop offset="1.000" stop-color="#ff5400"/></linearGradient><linearGradient id="g52" gradientUnits="userSpaceOnUse" x1="394.3" x2="599.2" y1="0" y2="0"><stop offset="0.000" stop-color="#00ffc2"/><stop offset="0.029" stop-color="#00ffc1"/><stop offset="0.057" stop-color="#00ffbf"/><stop offset="0.086" stop-color="#00ffbd"/><stop offset="0.114" stop-color="#00ffbb"/><stop offset="0.143" stop-color="#00ffba"/><stop offset="0.171" stop-color="#00ffb7"/><stop offset="0.200" stop-color="#00ffb5"/><stop offset="0.229" stop-color="#00ffb3"/><stop offset="0.257" stop-color="#00ffb1"/><stop offset="0.286" stop-color="#00ffae"/><stop offset="0.314" stop-color="#00ffab"/><stop offset="0.343" stop-color="#00ffa8"/><stop offset="0.371" stop-color="#00ffa5"/><stop offset="0.400" stop-color="#04ffa2"/><stop offset="0.429" stop-color="#17ffa0"/><stop offset="0.457" stop-color="#30ff9f"/><stop offset="0.486" stop-color="#4fff9f"/><stop offset="0.514" stop-color="#72ff9e"/><stop offset="0.543" stop-color="#9cff9f"/><stop offset="0.571" stop-color="#cdffa0"/><stop offset="0.600" stop-color="#fffd9e"/><stop offset="0.629" stop-color="#ffe583"/><stop offset="0.657" stop-color="#ffd16d"/><stop offset="0.686" stop-color="#ffc05b"/><stop offset="0.714" stop-color="#ffb04c"/><stop offset="0.743" stop-color="#ffa33f"/><stop offset="0.771" stop-color="#ff9633"/><stop offset="0.800" stop-color="#ff8b29"/><stop offset="0.829" stop-color="#ff8020"/><stop offset="0.857" stop-color="#ff7617"/><stop offset="0.886" stop-color="#ff6d0f"/><stop offset="0.914" stop-color="#ff6408"/><stop offset="0.943" stop-color="#ff5b00"/><stop offset="0.971" stop-color="#ff5300"/><stop offset="1.000" stop-color="#ff4b00"/></linearGradient><linearGradient id="g53" gradientUnits="userSpaceOnUse" x1="395.1" x2="602.1" y1="0" y2="0"><stop offset="0.000" stop-color="#00ffcc"/><stop offset="0.029" stop-color="#00ffca"/><stop offset="0.057" stop-color="#00ffc9"/><stop offset="0.086" stop-color="#00ffc7"/><stop offset="0.114" stop-color="#00ffc5"/><stop offset="0.143" stop-color="#00ffc4"/><stop offset="0.171" stop-color="#00ffc2"/><stop offset="0.200" stop-color="#00ffc0"/><stop offset="0.229" stop-color="#00ffbe"/><stop offset="0.257" stop-color="#00ffbc"/><stop offset="0.286" stop-color="#00ffb9"/><stop offset="0.314" stop-color="#00ffb7"/><stop offset="0.343" stop-color="#00ffb4"/><stop offset="0.371" stop-color="#00ffb1"/><stop offset="0.400" stop-color="#0cffaf"/><stop offset="0.429" stop-color="#23ffae"/><stop offset="0.457" stop-color="#40ffad"/><stop offset="0.486" stop-color="#62ffad"/><stop offset="0.514" stop-color="#8bffad"/><stop offset="0.543" stop-color="#baffae"/><stop offset="0.571" stop-color="#f1ffaf"/><stop offset="0.600" stop-color="#ffec98"/><stop offset="0.629" stop-color="#ffd67f"/><stop offset="0.657" stop-color="#ffc36a"/><stop offset="0.686" stop-color="#ffb359"/><stop offset="0.714" stop-color="#ffa44a"/><stop offset="0.743" stop-color="#ff973e"/><stop offset="0.771" stop-color="#ff8c33"/><stop offset="0.800" stop-color="#ff8129"/><stop offset="0.829" stop-color="#ff7620"/><stop offset="0.857" stop-color="#ff6d17"/><stop offset="0.886" stop-color="#ff6310"/><stop offset="0.914" stop-color="#ff5a08"/><stop offset="0.943" stop-color="#ff5200"/><stop offset="0.971" stop-color="#ff4900"/><stop offset="1.000" stop-color="#ff4100"/></linearGradient><linearGradient id="g54" gradientUnits="userSpaceOnUse" x1="395.9" x2="605.0" y1="0" y2="0"><stop offset="0.000" stop-color="#00ffd6"/><stop offset="0.029" stop-color="#00ffd4"/><stop offset="0.057" stop-color="#00ffd3"/><stop offset="0.086" stop-color="#00ffd2"/><stop offset="0.114" stop-color="#00ffd0"/><stop offset="0.143" stop-color="#00ffcf"/><stop offset="0.171" stop-color="#00ffcd"/><stop offset="0.200" stop-color="#00ffcb"/><stop offset="0.229" stop-color="#00ffc9"/><stop offset="0.257" stop-color="#00ffc8"/><stop offset="0.286" stop-color="#00ffc5"/><stop offset="0.314" stop-color="#00ffc3"/><stop offset="0.343" stop-color="#00ffc1"/><stop offset="0.371" stop-color="#02ffbe"/><stop offset="0.400" stop-color="#16ffbd"/><stop offset="0.429" stop-color="#31ffbc"/><stop offset="0.457" stop-color="#51ffbc"/><stop offset="0.486" stop-color="#79ffbc"/><stop offset="0.514" stop-color="#a7ffbd"/><stop offset="0.543" stop-color="#ddffbe"/><stop offset="0.571" stop-color="#fff3af"/><stop offset="0.600" stop-color="#ffdc92"/><stop offset="0.629" stop-color="#ffc77b"/><stop offset="0.657" stop-color="#ffb667"/><stop offset="0.686" stop-color="#ffa757"/><stop offset="0.714" stop-color="#ff9949"/><stop offset="0.743" stop-color="#ff8d3d"/><stop offset="0.771" stop-color="#ff8132"/><stop offset="0.800" stop-color="#ff7628"/><stop offset="0.829" stop-color="#ff6c20"/><stop offset="0.857" stop-color="#ff6318"/><stop offset="0.886" stop-color="#ff5a10"/><stop offset="0.914" stop-color="#ff5109"/><stop offset="0.943" stop-color="#ff4801"/><stop offset="0.971" stop-color="#ff3f00"/><stop offset="1.000" stop-color="#ff3600"/></linearGradient><linearGradient id="g55" gradientUnits="userSpaceOnUse" x1="396.7" x2="608.0" y1="0" y2="0"><stop offset="0.000" stop-color="#00ffe0"/><stop offset="0.028" stop-color="#00ffdf"/><stop offset="0.056" stop-color="#00ffde"/><stop offset="0.083" stop-color="#00ffdd"/><stop offset="0.111" stop-color="#00ffdc"/><stop offset="0.139" stop-color="#00ffdb"/><stop offset="0.167" stop-color="#00ffd9"/><stop offset="0.194" stop-color="#00ffd8"/><stop offset="0.222" stop-color="#00ffd6"/><stop offset="0.250" stop-color="#00ffd5"/><stop offset="0.278" stop-color="#00ffd3"/><stop offset="0.306" stop-color="#00ffd1"/><stop offset="0.333" stop-color="#00ffd0"/><stop offset="0.361" stop-color="#03ffce"/><stop offset="0.389" stop-color="#18ffcc"/><stop offset="0.417" stop-color="#33ffcc"/><stop offset="0.444" stop-color="#55ffcc"/><stop offset="0.472" stop-color="#7dffcc"/><stop offset="0.500" stop-color="#adffcc"/><stop offset="0.528" stop-color="#e4ffcd"/><stop offset="0.556" stop-color="#fff0ba"/><stop offset="0.583" stop-color="#ffd99c"/><stop offset="0.611" stop-color="#ffc584"/><stop offset="0.639" stop-color="#ffb470"/><stop offset="0.667" stop-color="#ffa55f"/><stop offset="0.694" stop-color="#ff9751"/><stop offset="0.722" stop-color="#ff8b44"/><stop offset="0.750" stop-color="#ff7f39"/><stop offset="0.778" stop-color="#ff752f"/><stop offset="0.806" stop-color="#ff6a26"/><stop offset="0.833" stop-color="#ff611e"/><stop offset="0.861" stop-color="#ff5817"/><stop offset="0.889" stop-color="#ff4f10"/><stop offset="0.917" stop-color="#ff4609"/><stop offset="0.944" stop-color="#ff3d02"/><stop offset="0.972" stop-color="#ff3400"/><stop offset="1.000" stop-color="#ff2b00"/></linearGradient><linearGradient id="g56" gradientUnits="userSpaceOnUse" x1="397.6" x2="610.9" y1="0" y2="0"><stop offset="0.000" stop-color="#00ffeb"/><stop offset="0.028" stop-color="#00ffea"/><stop offset="0.056" stop-color="#00ffea"/><stop offset="0.083" stop-color="#00ffe9"/><stop offset="0.111" stop-color="#00ffe8"/><stop offset="0.139" stop-color="#00ffe7"/><stop offset="0.167" stop-color="#00ffe6"/><stop offset="0.194" stop-color="#00ffe5"/><stop offset="0.222" stop-color="#00ffe4"/><stop offset="0.250" stop-color="#00ffe3"/><stop offset="0.278" stop-color="#00ffe2"/><stop offset="0.306" stop-color="#00ffe0"/><stop offset="0.333" stop-color="#00ffdf"/><stop offset="0.361" stop-color="#0cffde"/><stop offset="0.389" stop-color="#24ffdd"/><stop offset="0.417" stop-color="#44ffdd"/><stop offset="0.444" stop-color="#6bffdd"/><stop offset="0.472" stop-color="#99ffdd"/><stop offset="0.500" stop-color="#cfffde"/><stop offset="0.528" stop-color="#fff8d5"/><stop offset="0.556" stop-color="#ffdfb2"/><stop offset="0.583" stop-color="#ffca96"/><stop offset="0.611" stop-color="#ffb780"/><stop offset="0.639" stop-color="#ffa76d"/><stop offset="0.667" stop-color="#ff995d"/><stop offset="0.694" stop-color="#ff8c4f"/><stop offset="0.722" stop-color="#ff8043"/><stop offset="0.750" stop-color="#ff7538"/><stop offset="0.778" stop-color="#ff6a2f"/><stop offset="0.806" stop-color="#ff6026"/><stop offset="0.833" stop-color="#ff571e"/><stop offset="0.861" stop-color="#ff4e17"/><stop offset="0.889" stop-color="#ff4510"/><stop offset="0.917" stop-color="#ff3b09"/><stop offset="0.944" stop-color="#ff3202"/><stop offset="0.972" stop-color="#ff2800"/><stop offset="1.000" stop-color="#ff1c00"/></linearGradient><linearGradient id="g57" gradientUnits="userSpaceOnUse" x1="398.5" x2="613.8" y1="0" y2="0"><stop offset="0.000" stop-color="#00fff7"/><stop offset="0.028" stop-color="#00fff7"/><stop offset="0.056" stop-color="#00fff6"/><stop offset="0.083" stop-color="#00fff6"/><stop offset="0.111" stop-color="#00fff5"/><stop offset="0.139" stop-color="#00fff5"/><stop offset="0.167" stop-color="#00fff4"/><stop offset="0.194" stop-color="#00fff3"/><stop offset="0.222" stop-color="#00fff3"/><stop offset="0.250" stop-color="#00fff2"/><stop offset="0.278" stop-color="#00fff1"/><stop offset="0.306" stop-color="#00fff1"/><stop offset="0.333" stop-color="#01fff0"/><stop offset="0.361" stop-color="#16ffef"/><stop offset="0.389" stop-color="#33ffef"/><stop offset="0.417" stop-color="#58ffef"/><stop offset="0.444" stop-color="#84ffef"/><stop offset="0.472" stop-color="#b9ffef"/><stop offset="0.500" stop-color="#f7ffef"/><stop offset="0.528" stop-color="#ffe6cb"/><stop offset="0.556" stop-color="#ffcfab"/><stop offset="0.583" stop-color="#ffbb91"/><stop offset="0.611" stop-color="#ffaa7c"/><stop offset="0.639" stop-color="#ff9b6a"/><stop offset="0.667" stop-color="#ff8d5b"/><stop offset="0.694" stop-color="#ff814e"/><stop offset="0.722" stop-color="#ff7542"/><stop offset="0.750" stop-color="#ff6a38"/><stop offset="0.778" stop-color="#ff602e"/><stop offset="0.806" stop-color="#ff5626"/><stop offset="0.833" stop-color="#ff4d1e"/><stop offset="0.861" stop-color="#ff4317"/><stop offset="0.889" stop-color="#ff3a10"/><stop offset="0.917" stop-color="#ff300a"/><stop offset="0.944" stop-color="#ff2503"/><stop offset="0.972" stop-color="#ff1900"/><stop offset="1.000" stop-color="#ff0000"/></linearGradient><linearGradient id="g58" gradientUnits="userSpaceOnUse" x1="399.4" x2="616.7" y1="0" y2="0"><stop offset="0.000" stop-color="#00fbff"/><stop offset="0.027" stop-color="#00fbff"/><stop offset="0.054" stop-color="#00fbff"/><stop offset="0.081" stop-color="#00fbff"/><stop offset="0.108" stop-color="#00fbff"/><stop offset="0.135" stop-color="#00fbff"/><stop offset="0.162" stop-color="#00fbff"/><stop offset="0.189" stop-color="#00fbff"/><stop offset="0.216" stop-color="#00fbff"/><stop offset="0.243" stop-color="#00fbff"/><stop offset="0.270" stop-color="#00fbff"/><stop offset="0.297" stop-color="#00fbff"/><stop offset="0.324" stop-color="#03fbff"/><stop offset="0.351" stop-color="#18fcff"/><stop offset="0.378" stop-color="#37fcff"/><stop offset="0.405" stop-color="#5cfdff"/><stop offset="0.432" stop-color="#89fdff"/><stop offset="0.459" stop-color="#bffdff"/><stop offset="0.486" stop-color="#fffeff"/><stop offset="0.514" stop-color="#ffe2d5"/><stop offset="0.541" stop-color="#ffcbb4"/><stop offset="0.568" stop-color="#ffb89a"/><stop offset="0.595" stop-color="#ffa784"/><stop offset="0.622" stop-color="#ff9872"/><stop offset="0.649" stop-color="#ff8a62"/><stop offset="0.676" stop-color="#ff7e55"/><stop offset="0.703" stop-color="#ff7349"/><stop offset="0.730" stop-color="#ff683e"/><stop offset="0.757" stop-color="#ff5e35"/><stop offset="0.784" stop-color="#ff542c"/><stop offset="0.811" stop-color="#ff4a24"/><stop offset="0.838" stop-color="#ff411d"/><stop offset="0.865" stop-color="#ff3716"/><stop offset="0.892" stop-color="#ff2d10"/><stop offset="0.919" stop-color="#ff210a"/><stop offset="0.946" stop-color="#ff1303"/><stop offset="0.973" stop-color="#ff0000"/><stop offset="1.000" stop-color="#ff0000"/></linearGradient><linearGradient id="g59" gradientUnits="userSpaceOnUse" x1="400.2" x2="619.6" y1="0" y2="0"><stop offset="0.000" stop-color="#00eeff"/><stop offset="0.027" stop-color="#00eeff"/><stop offset="0.054" stop-color="#00eeff"/><stop offset="0.081" stop-color="#00edff"/><stop offset="0.108" stop-color="#00edff"/><stop offset="0.135" stop-color="#00ecff"/><stop offset="0.162" stop-color="#00ecff"/><stop offset="0.189" stop-color="#00ecff"/><stop offset="0.216" stop-color="#00ebff"/><stop offset="0.243" stop-color="#00ebff"/><stop offset="0.270" stop-color="#00eaff"/><stop offset="0.297" stop-color="#00e9ff"/><stop offset="0.324" stop-color="#0ae9ff"/><stop offset="0.351" stop-color="#23eaff"/><stop offset="0.378" stop-color="#43ecff"/><stop offset="0.405" stop-color="#6aeeff"/><stop offset="0.432" stop-color="#99efff"/><stop offset="0.459" stop-color="#d1f1ff"/><stop offset="0.486" stop-color="#ffeaf2"/><stop offset="0.514" stop-color="#ffd1cc"/><stop offset="0.541" stop-color="#ffbcad"/><stop offset="0.568" stop-color="#ffaa95"/><stop offset="0.595" stop-color="#ff9a80"/><stop offset="0.622" stop-color="#ff8c6f"/><stop offset="0.649" stop-color="#ff7f60"/><stop offset="0.676" stop-color="#ff7353"/><stop offset="0.703" stop-color="#ff6848"/><stop offset="0.730" stop-color="#ff5d3e"/><stop offset="0.757" stop-color="#ff5334"/><stop offset="0.784" stop-color="#ff492c"/><stop offset="0.811" stop-color="#ff3f24"/><stop offset="0.838" stop-color="#ff351d"/><stop offset="0.865" stop-color="#ff2a16"/><stop offset="0.892" stop-color="#ff1e10"/><stop offset="0.919" stop-color="#ff0d0a"/><stop offset="0.946" stop-color="#ff0004"/><stop offset="0.973" stop-color="#ff0000"/><stop offset="1.000" stop-color="#ff0000"/></linearGradient><linearGradient id="g60" gradientUnits="userSpaceOnUse" x1="401.0" x2="622.6" y1="0" y2="0"><stop offset="0.000" stop-color="#00e2ff"/><stop offset="0.027" stop-color="#00e2ff"/><stop offset="0.054" stop-color="#00e1ff"/><stop offset="0.081" stop-color="#00e0ff"/><stop offset="0.108" stop-color="#00dfff"/><stop offset="0.135" stop-color="#00dfff"/><stop offset="0.162" stop-color="#00deff"/><stop offset="0.189" stop-color="#00ddff"/><stop offset="0.216" stop-color="#00dcff"/><stop offset="0.243" stop-color="#00dbff"/><stop offset="0.270" stop-color="#00d9ff"/><stop offset="0.297" stop-color="#00d8ff"/><stop offset="0.324" stop-color="#13d9ff"/><stop offset="0.351" stop-color="#2edbff"/><stop offset="0.378" stop-color="#4fddff"/><stop offset="0.405" stop-color="#78e0ff"/><stop offset="0.432" stop-color="#a9e3ff"/><stop offset="0.459" stop-color="#e2e6ff"/><stop offset="0.486" stop-color="#ffd9e7"/><stop offset="0.514" stop-color="#ffc2c4"/><stop offset="0.541" stop-color="#ffaea8"/><stop offset="0.568" stop-color="#ff9d90"/><stop offset="0.595" stop-color="#ff8e7d"/><stop offset="0.622" stop-color="#ff806d"/><stop offset="0.649" stop-color="#ff745e"/><stop offset="0.676" stop-color="#ff6852"/><stop offset="0.703" stop-color="#ff5d47"/><stop offset="0.730" stop-color="#ff533d"/><stop offset="0.757" stop-color="#ff4834"/><stop offset="0.784" stop-color="#ff3e2c"/><stop offset="0.811" stop-color="#ff3324"/><stop offset="0.838" stop-color="#ff281d"/><stop offset="0.865" stop-color="#ff1a17"/><stop offset="0.892" stop-color="#ff0310"/><stop offset="0.919" stop-color="#ff000a"/><stop offset="0.946" stop-color="#ff0004"/><stop offset="0.973" stop-color="#ff0000"/><stop offset="1.000" stop-color="#ff0000"/></linearGradient><linearGradient id="g61" gradientUnits="userSpaceOnUse" x1="401.8" x2="625.5" y1="0" y2="0"><stop offset="0.000" stop-color="#00d7ff"/><stop offset="0.026" stop-color="#00d6ff"/><stop offset="0.053" stop-color="#00d5ff"/><stop offset="0.079" stop-color="#00d4ff"/><stop offset="0.105" stop-color="#00d3ff"/><stop offset="0.132" stop-color="#00d1ff"/><stop offset="0.158" stop-color="#00d0ff"/><stop offset="0.184" stop-color="#00cfff"/><stop offset="0.211" stop-color="#00cdff"/><stop offset="0.237" stop-color="#00ccff"/><stop offset="0.263" stop-color="#00caff"/><stop offset="0.289" stop-color="#01c8ff"/><stop offset="0.316" stop-color="#14c9ff"/><stop offset="0.342" stop-color="#2eccff"/><stop offset="0.368" stop-color="#4ecfff"/><stop offset="0.395" stop-color="#75d2ff"/><stop offset="0.421" stop-color="#a2d6ff"/><stop offset="0.447" stop-color="#d7daff"/><stop offset="0.474" stop-color="#ffd4f0"/><stop offset="0.500" stop-color="#ffbdcd"/><stop offset="0.526" stop-color="#ffaab0"/><stop offset="0.553" stop-color="#ff9998"/><stop offset="0.579" stop-color="#ff8a84"/><stop offset="0.605" stop-color="#ff7d74"/><stop offset="0.632" stop-color="#ff7065"/><stop offset="0.658" stop-color="#ff6558"/><stop offset="0.684" stop-color="#ff5a4d"/><stop offset="0.711" stop-color="#ff4f43"/><stop offset="0.737" stop-color="#ff453a"/><stop offset="0.763" stop-color="#ff3a31"/><stop offset="0.789" stop-color="#ff2f2a"/><stop offset="0.816" stop-color="#ff2323"/><stop offset="0.842" stop-color="#ff141c"/><stop offset="0.868" stop-color="#ff0016"/><stop offset="0.895" stop-color="#ff0010"/><stop offset="0.921" stop-color="#ff000a"/><stop offset="0.947" stop-color="#ff0005"/><stop offset="0.974" stop-color="#ff0000"/><stop offset="1.000" stop-color="#ff0000"/></linearGradient><linearGradient id="g62" gradientUnits="userSpaceOnUse" x1="402.6" x2="628.4" y1="0" y2="0"><stop offset="0.000" stop-color="#00ccff"/><stop offset="0.026" stop-color="#00caff"/><stop offset="0.053" stop-color="#00c9ff"/><stop offset="0.079" stop-color="#00c8ff"/><stop offset="0.105" stop-color="#00c6ff"/><stop offset="0.132" stop-color="#00c5ff"/><stop offset="0.158" stop-color="#00c3ff"/><stop offset="0.184" stop-color="#00c1ff"/><stop offset="0.211" stop-color="#00bfff"/><stop offset="0.237" stop-color="#00bdff"/><stop offset="0.263" stop-color="#00bbff"/><stop offset="0.289" stop-color="#07baff"/><stop offset="0.316" stop-color="#1cbbff"/><stop offset="0.342" stop-color="#38bfff"/><stop offset="0.368" stop-color="#5ac3ff"/><stop offset="0.395" stop-color="#82c7ff"/><stop offset="0.421" stop-color="#b1ccff"/><stop offset="0.447" stop-color="#e7d0ff"/><stop offset="0.474" stop-color="#ffc3e7"/><stop offset="0.500" stop-color="#ffafc5"/><stop offset="0.526" stop-color="#ff9daa"/><stop offset="0.553" stop-color="#ff8d94"/><stop offset="0.579" stop-color="#ff7e81"/><stop offset="0.605" stop-color="#ff7171"/><stop offset="0.632" stop-color="#ff6563"/><stop offset="0.658" stop-color="#ff5a57"/><stop offset="0.684" stop-color="#ff4f4c"/><stop offset="0.711" stop-color="#ff4442"/><stop offset="0.737" stop-color="#ff3939"/><stop offset="0.763" stop-color="#ff2d31"/><stop offset="0.789" stop-color="#ff202a"/><stop offset="0.816" stop-color="#ff0e23"/><stop offset="0.842" stop-color="#ff001c"/><stop offset="0.868" stop-color="#ff0016"/><stop offset="0.895" stop-color="#ff0010"/><stop offset="0.921" stop-color="#ff000b"/><stop offset="0.947" stop-color="#ff0005"/><stop offset="0.974" stop-color="#ff0000"/><stop offset="1.000" stop-color="#ff0000"/></linearGradient><linearGradient id="g63" gradientUnits="userSpaceOnUse" x1="403.3" x2="631.3" y1="0" y2="0"><stop offset="0.000" stop-color="#00c1ff"/><stop offset="0.026" stop-color="#00bfff"/><stop offset="0.051" stop-color="#00beff"/><stop offset="0.077" stop-color="#00bcff"/><stop offset="0.103" stop-color="#00baff"/><stop offset="0.128" stop-color="#00b9ff"/><stop offset="0.154" stop-color="#00b7ff"/><stop offset="0.179" stop-color="#00b4ff"/><stop offset="0.205" stop-color="#00b2ff"/><stop offset="0.231" stop-color="#00b0ff"/><stop offset="0.256" stop-color="#00adff"/><stop offset="0.282" stop-color="#09acff"/><stop offset="0.308" stop-color="#1eaeff"/><stop offset="0.333" stop-color="#38b1ff"/><stop offset="0.359" stop-color="#58b6ff"/><stop offset="0.385" stop-color="#7ebaff"/><stop offset="0.410" stop-color="#aac0ff"/><stop offset="0.436" stop-color="#ddc5ff"/><stop offset="0.462" stop-color="#ffbeef"/><stop offset="0.487" stop-color="#ffaacd"/><stop offset="0.513" stop-color="#ff98b2"/><stop offset="0.538" stop-color="#ff889b"/><stop offset="0.564" stop-color="#ff7a88"/><stop offset="0.590" stop-color="#ff6d78"/><stop offset="0.615" stop-color="#ff616a"/><stop offset="0.641" stop-color="#ff565d"/><stop offset="0.667" stop-color="#ff4a52"/><stop offset="0.692" stop-color="#ff3f48"/><stop offset="0.718" stop-color="#ff343f"/><stop offset="0.744" stop-color="#ff2837"/><stop offset="0.769" stop-color="#ff192f"/><stop offset="0.795" stop-color="#ff0028"/><stop offset="0.821" stop-color="#ff0021"/><stop offset="0.846" stop-color="#ff001b"/><stop offset="0.872" stop-color="#ff0016"/><stop offset="0.897" stop-color="#ff0010"/><stop offset="0.923" stop-color="#ff000b"/><stop offset="0.949" stop-color="#ff0005"/><stop offset="0.974" stop-color="#ff0000"/><stop offset="1.000" stop-color="#ff0000"/></linearGradient><linearGradient id="g64" gradientUnits="userSpaceOnUse" x1="404.1" x2="632.8" y1="0" y2="0"><stop offset="0.000" stop-color="#00b6ff"/><stop offset="0.026" stop-color="#00b5ff"/><stop offset="0.051" stop-color="#00b3ff"/><stop offset="0.077" stop-color="#00b1ff"/><stop offset="0.103" stop-color="#00afff"/><stop offset="0.128" stop-color="#00adff"/><stop offset="0.154" stop-color="#00aaff"/><stop offset="0.179" stop-color="#00a8ff"/><stop offset="0.205" stop-color="#00a6ff"/><stop offset="0.231" stop-color="#00a3ff"/><stop offset="0.256" stop-color="#00a0ff"/><stop offset="0.282" stop-color="#0ea0ff"/><stop offset="0.308" stop-color="#24a2ff"/><stop offset="0.333" stop-color="#40a6ff"/><stop offset="0.359" stop-color="#60abff"/><stop offset="0.385" stop-color="#87b0ff"/><stop offset="0.410" stop-color="#b3b5ff"/><stop offset="0.436" stop-color="#e6bbff"/><stop offset="0.462" stop-color="#ffb1ea"/><stop offset="0.487" stop-color="#ff9eca"/><stop offset="0.513" stop-color="#ff8db0"/><stop offset="0.538" stop-color="#ff7e9a"/><stop offset="0.564" stop-color="#ff7087"/><stop offset="0.590" stop-color="#ff6377"/><stop offset="0.615" stop-color="#ff576a"/><stop offset="0.641" stop-color="#ff4c5d"/><stop offset="0.667" stop-color="#ff4052"/><stop offset="0.692" stop-color="#ff3449"/><stop offset="0.718" stop-color="#ff2840"/><stop offset="0.744" stop-color="#ff1837"/><stop offset="0.769" stop-color="#ff0030"/><stop offset="0.795" stop-color="#ff0029"/><stop offset="0.821" stop-color="#ff0023"/><stop offset="0.846" stop-color="#ff001d"/><stop offset="0.872" stop-color="#ff0017"/><stop offset="0.897" stop-color="#ff0011"/><stop offset="0.923" stop-color="#ff000c"/><stop offset="0.949" stop-color="#ff0007"/><stop offset="0.974" stop-color="#ff0001"/><stop offset="1.000" stop-color="#ff0000"/></linearGradient><linearGradient id="g65" gradientUnits="userSpaceOnUse" x1="404.9" x2="631.6" y1="0" y2="0"><stop offset="0.000" stop-color="#00acff"/><stop offset="0.026" stop-color="#00aaff"/><stop offset="0.053" stop-color="#00a8ff"/><stop offset="0.079" stop-color="#00a6ff"/><stop offset="0.105" stop-color="#00a4ff"/><stop offset="0.132" stop-color="#00a1ff"/><stop offset="0.158" stop-color="#009fff"/><stop offset="0.184" stop-color="#009cff"/><stop offset="0.211" stop-color="#0099ff"/><stop offset="0.237" stop-color="#0096ff"/><stop offset="0.263" stop-color="#0593ff"/><stop offset="0.289" stop-color="#1794ff"/><stop offset="0.316" stop-color="#3098ff"/><stop offset="0.342" stop-color="#4d9cff"/><stop offset="0.368" stop-color="#70a1ff"/><stop offset="0.395" stop-color="#98a7ff"/><stop offset="0.421" stop-color="#c6adff"/><stop offset="0.447" stop-color="#fcb2ff"/><stop offset="0.474" stop-color="#ff9fdd"/><stop offset="0.500" stop-color="#ff8dbf"/><stop offset="0.526" stop-color="#ff7ea7"/><stop offset="0.553" stop-color="#ff6f93"/><stop offset="0.579" stop-color="#ff6282"/><stop offset="0.605" stop-color="#ff5573"/><stop offset="0.632" stop-color="#ff4965"/><stop offset="0.658" stop-color="#ff3d5a"/><stop offset="0.684" stop-color="#ff304f"/><stop offset="0.711" stop-color="#ff2246"/><stop offset="0.737" stop-color="#ff0f3d"/><stop offset="0.763" stop-color="#ff0035"/><stop offset="0.789" stop-color="#ff002e"/><stop offset="0.816" stop-color="#ff0027"/><stop offset="0.842" stop-color="#ff0021"/><stop offset="0.868" stop-color="#ff001b"/><stop offset="0.895" stop-color="#ff0016"/><stop offset="0.921" stop-color="#ff0010"/><stop offset="0.947" stop-color="#ff000b"/><stop offset="0.974" stop-color="#ff0006"/><stop offset="1.000" stop-color="#ff0000"/></linearGradient><linearGradient id="g66" gradientUnits="userSpaceOnUse" x1="405.7" x2="625.6" y1="0" y2="0"><stop offset="0.000" stop-color="#00a3ff"/><stop offset="0.027" stop-color="#00a0ff"/><stop offset="0.054" stop-color="#009eff"/><stop offset="0.081" stop-color="#009cff"/><stop offset="0.108" stop-color="#0099ff"/><stop offset="0.135" stop-color="#0097ff"/><stop offset="0.162" stop-color="#0094ff"/><stop offset="0.189" stop-color="#0091ff"/><stop offset="0.216" stop-color="#008dff"/><stop offset="0.243" stop-color="#008aff"/><stop offset="0.270" stop-color="#0988ff"/><stop offset="0.297" stop-color="#1c8aff"/><stop offset="0.324" stop-color="#348dff"/><stop offset="0.351" stop-color="#5292ff"/><stop offset="0.378" stop-color="#7497ff"/><stop offset="0.405" stop-color="#9c9dff"/><stop offset="0.432" stop-color="#caa3ff"/><stop offset="0.459" stop-color="#fea8ff"/><stop offset="0.486" stop-color="#ff95dd"/><stop offset="0.514" stop-color="#ff84c0"/><stop offset="0.541" stop-color="#ff75a8"/><stop offset="0.568" stop-color="#ff6695"/><stop offset="0.595" stop-color="#ff5983"/><stop offset="0.622" stop-color="#ff4c75"/><stop offset="0.649" stop-color="#ff4067"/><stop offset="0.676" stop-color="#ff335c"/><stop offset="0.703" stop-color="#ff2551"/><stop offset="0.730" stop-color="#ff1348"/><stop offset="0.757" stop-color="#ff003f"/><stop offset="0.784" stop-color="#ff0038"/><stop offset="0.811" stop-color="#ff0030"/><stop offset="0.838" stop-color="#ff002a"/><stop offset="0.865" stop-color="#ff0023"/><stop offset="0.892" stop-color="#ff001e"/><stop offset="0.919" stop-color="#ff0018"/><stop offset="0.946" stop-color="#ff0013"/><stop offset="0.973" stop-color="#ff000e"/><stop offset="1.000" stop-color="#ff0009"/></linearGradient><linearGradient id="g67" gradientUnits="userSpaceOnUse" x1="406.4" x2="619.6" y1="0" y2="0"><stop offset="0.000" stop-color="#0099ff"/><stop offset="0.028" stop-color="#0097ff"/><stop offset="0.056" stop-color="#0094ff"/><stop offset="0.083" stop-color="#0092ff"/><stop offset="0.111" stop-color="#008fff"/><stop offset="0.139" stop-color="#008cff"/><stop offset="0.167" stop-color="#0089ff"/><stop offset="0.194" stop-color="#0086ff"/><stop offset="0.222" stop-color="#0082ff"/><stop offset="0.250" stop-color="#007fff"/><stop offset="0.278" stop-color="#0c7eff"/><stop offset="0.306" stop-color="#2080ff"/><stop offset="0.333" stop-color="#3983ff"/><stop offset="0.361" stop-color="#5688ff"/><stop offset="0.389" stop-color="#788dff"/><stop offset="0.417" stop-color="#a093ff"/><stop offset="0.444" stop-color="#cc99ff"/><stop offset="0.472" stop-color="#ff9efe"/><stop offset="0.500" stop-color="#ff8bdc"/><stop offset="0.528" stop-color="#ff7bc1"/><stop offset="0.556" stop-color="#ff6baa"/><stop offset="0.583" stop-color="#ff5d96"/><stop offset="0.611" stop-color="#ff5085"/><stop offset="0.639" stop-color="#ff4377"/><stop offset="0.667" stop-color="#ff366a"/><stop offset="0.694" stop-color="#ff285e"/><stop offset="0.722" stop-color="#ff1654"/><stop offset="0.750" stop-color="#ff004a"/><stop offset="0.778" stop-color="#ff0042"/><stop offset="0.806" stop-color="#ff003a"/><stop offset="0.833" stop-color="#ff0033"/><stop offset="0.861" stop-color="#ff002c"/><stop offset="0.889" stop-color="#ff0026"/><stop offset="0.917" stop-color="#ff0020"/><stop offset="0.944" stop-color="#ff001b"/><stop offset="0.972" stop-color="#ff0015"/><stop offset="1.000" stop-color="#ff0010"/></linearGradient><linearGradient id="g68" gradientUnits="userSpaceOnUse" x1="407.2" x2="613.6" y1="0" y2="0"><stop offset="0.000" stop-color="#0090ff"/><stop offset="0.029" stop-color="#008eff"/><stop offset="0.057" stop-color="#008bff"/><stop offset="0.086" stop-color="#0088ff"/><stop offset="0.114" stop-color="#0085ff"/><stop offset="0.143" stop-color="#0082ff"/><stop offset="0.171" stop-color="#007fff"/><stop offset="0.200" stop-color="#007cff"/><stop offset="0.229" stop-color="#0078ff"/><stop offset="0.257" stop-color="#0274ff"/><stop offset="0.286" stop-color="#1074ff"/><stop offset="0.314" stop-color="#2576ff"/><stop offset="0.343" stop-color="#3e7aff"/><stop offset="0.371" stop-color="#5b7eff"/><stop offset="0.400" stop-color="#7c84ff"/><stop offset="0.429" stop-color="#a389ff"/><stop offset="0.457" stop-color="#cf8fff"/><stop offset="0.486" stop-color="#ff93fe"/><stop offset="0.514" stop-color="#ff81dd"/><stop offset="0.543" stop-color="#ff71c2"/><stop offset="0.571" stop-color="#ff62ab"/><stop offset="0.600" stop-color="#ff5498"/><stop offset="0.629" stop-color="#ff4687"/><stop offset="0.657" stop-color="#ff3978"/><stop offset="0.686" stop-color="#ff2a6c"/><stop offset="0.714" stop-color="#ff1960"/><stop offset="0.743" stop-color="#ff0056"/><stop offset="0.771" stop-color="#ff004d"/><stop offset="0.800" stop-color="#ff0044"/><stop offset="0.829" stop-color="#ff003c"/><stop offset="0.857" stop-color="#ff0035"/><stop offset="0.886" stop-color="#ff002e"/><stop offset="0.914" stop-color="#ff0028"/><stop offset="0.943" stop-color="#ff0022"/><stop offset="0.971" stop-color="#ff001d"/><stop offset="1.000" stop-color="#ff0018"/></linearGradient><linearGradient id="g69" gradientUnits="userSpaceOnUse" x1="408.0" x2="607.6" y1="0" y2="0"><stop offset="0.000" stop-color="#0088ff"/><stop offset="0.029" stop-color="#0085ff"/><stop offset="0.059" stop-color="#0082ff"/><stop offset="0.088" stop-color="#007fff"/><stop offset="0.118" stop-color="#007cff"/><stop offset="0.147" stop-color="#0079ff"/><stop offset="0.176" stop-color="#0075ff"/><stop offset="0.206" stop-color="#0072ff"/><stop offset="0.235" stop-color="#006eff"/><stop offset="0.265" stop-color="#046bff"/><stop offset="0.294" stop-color="#146bff"/><stop offset="0.324" stop-color="#296dff"/><stop offset="0.353" stop-color="#4271ff"/><stop offset="0.382" stop-color="#5f75ff"/><stop offset="0.412" stop-color="#807aff"/><stop offset="0.441" stop-color="#a680ff"/><stop offset="0.471" stop-color="#d185ff"/><stop offset="0.500" stop-color="#ff89fd"/><stop offset="0.529" stop-color="#ff77dd"/><stop offset="0.559" stop-color="#ff67c2"/><stop offset="0.588" stop-color="#ff58ac"/><stop offset="0.618" stop-color="#ff4a99"/><stop offset="0.647" stop-color="#ff3c89"/><stop offset="0.676" stop-color="#ff2d7a"/><stop offset="0.706" stop-color="#ff1c6e"/><stop offset="0.735" stop-color="#ff0062"/><stop offset="0.765" stop-color="#ff0058"/><stop offset="0.794" stop-color="#ff004f"/><stop offset="0.824" stop-color="#ff0046"/><stop offset="0.853" stop-color="#ff003f"/><stop offset="0.882" stop-color="#ff0038"/><stop offset="0.912" stop-color="#ff0031"/><stop offset="0.941" stop-color="#ff002b"/><stop offset="0.971" stop-color="#ff0025"/><stop offset="1.000" stop-color="#ff001f"/></linearGradient><linearGradient id="g70" gradientUnits="userSpaceOnUse" x1="408.8" x2="601.6" y1="0" y2="0"><stop offset="0.000" stop-color="#007fff"/><stop offset="0.030" stop-color="#007cff"/><stop offset="0.061" stop-color="#0079ff"/><stop offset="0.091" stop-color="#0076ff"/><stop offset="0.121" stop-color="#0073ff"/><stop offset="0.152" stop-color="#0070ff"/><stop offset="0.182" stop-color="#006cff"/><stop offset="0.212" stop-color="#0068ff"/><stop offset="0.242" stop-color="#0064ff"/><stop offset="0.273" stop-color="#0862ff"/><stop offset="0.303" stop-color="#1863ff"/><stop offset="0.333" stop-color="#2d65ff"/><stop offset="0.364" stop-color="#4668ff"/><stop offset="0.394" stop-color="#636dff"/><stop offset="0.424" stop-color="#8471ff"/><stop offset="0.455" stop-color="#a976ff"/><stop offset="0.485" stop-color="#d37bff"/><stop offset="0.515" stop-color="#ff7efc"/><stop offset="0.545" stop-color="#ff6ddd"/><stop offset="0.576" stop-color="#ff5dc3"/><stop offset="0.606" stop-color="#ff4eae"/><stop offset="0.636" stop-color="#ff409b"/><stop offset="0.667" stop-color="#ff318b"/><stop offset="0.697" stop-color="#ff207c"/><stop offset="0.727" stop-color="#ff0070"/><stop offset="0.758" stop-color="#ff0065"/><stop offset="0.788" stop-color="#ff005a"/><stop offset="0.818" stop-color="#ff0051"/><stop offset="0.848" stop-color="#ff0049"/><stop offset="0.879" stop-color="#ff0041"/><stop offset="0.909" stop-color="#ff003a"/><stop offset="0.939" stop-color="#ff0033"/><stop offset="0.970" stop-color="#ff002d"/><stop offset="1.000" stop-color="#ff0027"/></linearGradient><linearGradient id="g71" gradientUnits="userSpaceOnUse" x1="409.6" x2="595.7" y1="0" y2="0"><stop offset="0.000" stop-color="#0077ff"/><stop offset="0.031" stop-color="#0074ff"/><stop offset="0.062" stop-color="#0071ff"/><stop offset="0.094" stop-color="#006eff"/><stop offset="0.125" stop-color="#006aff"/><stop offset="0.156" stop-color="#0067ff"/><stop offset="0.188" stop-color="#0063ff"/><stop offset="0.219" stop-color="#005fff"/><stop offset="0.250" stop-color="#005bff"/><stop offset="0.281" stop-color="#0b5aff"/><stop offset="0.312" stop-color="#1c5aff"/><stop offset="0.344" stop-color="#315dff"/><stop offset="0.375" stop-color="#4a60ff"/><stop offset="0.406" stop-color="#6764ff"/><stop offset="0.438" stop-color="#8768ff"/><stop offset="0.469" stop-color="#ac6dff"/><stop offset="0.500" stop-color="#d571ff"/><stop offset="0.531" stop-color="#ff73fc"/><stop offset="0.562" stop-color="#ff62dd"/><stop offset="0.594" stop-color="#ff52c4"/><stop offset="0.625" stop-color="#ff43af"/><stop offset="0.656" stop-color="#ff349d"/><stop offset="0.688" stop-color="#ff238d"/><stop offset="0.719" stop-color="#ff097e"/><stop offset="0.750" stop-color="#ff0072"/><stop offset="0.781" stop-color="#ff0067"/><stop offset="0.812" stop-color="#ff005d"/><stop offset="0.844" stop-color="#ff0053"/><stop offset="0.875" stop-color="#ff004b"/><stop offset="0.906" stop-color="#ff0043"/><stop offset="0.938" stop-color="#ff003c"/><stop offset="0.969" stop-color="#ff0036"/><stop offset="1.000" stop-color="#ff002f"/></linearGradient><linearGradient id="g72" gradientUnits="userSpaceOnUse" x1="410.5" x2="589.7" y1="0" y2="0"><stop offset="0.000" stop-color="#006fff"/><stop offset="0.033" stop-color="#006cff"/><stop offset="0.067" stop-color="#0069ff"/><stop offset="0.100" stop-color="#0065ff"/><stop offset="0.133" stop-color="#0062ff"/><stop offset="0.167" stop-color="#005eff"/><stop offset="0.200" stop-color="#005aff"/><stop offset="0.233" stop-color="#0056ff"/><stop offset="0.267" stop-color="#0452ff"/><stop offset="0.300" stop-color="#1352ff"/><stop offset="0.333" stop-color="#2753ff"/><stop offset="0.367" stop-color="#3e56ff"/><stop offset="0.400" stop-color="#5959ff"/><stop offset="0.433" stop-color="#785dff"/><stop offset="0.467" stop-color="#9b61ff"/><stop offset="0.500" stop-color="#c265ff"/><stop offset="0.533" stop-color="#ee69ff"/><stop offset="0.567" stop-color="#ff5eea"/><stop offset="0.600" stop-color="#ff4ecf"/><stop offset="0.633" stop-color="#ff3db8"/><stop offset="0.667" stop-color="#ff2ca4"/><stop offset="0.700" stop-color="#ff1793"/><stop offset="0.733" stop-color="#ff0084"/><stop offset="0.767" stop-color="#ff0077"/><stop offset="0.800" stop-color="#ff006b"/><stop offset="0.833" stop-color="#ff0061"/><stop offset="0.867" stop-color="#ff0057"/><stop offset="0.900" stop-color="#ff004e"/><stop offset="0.933" stop-color="#ff0046"/><stop offset="0.967" stop-color="#ff003f"/><stop offset="1.000" stop-color="#ff0038"/></linearGradient><linearGradient id="g73" gradientUnits="userSpaceOnUse" x1="411.3" x2="583.7" y1="0" y2="0"><stop offset="0.000" stop-color="#0067ff"/><stop offset="0.034" stop-color="#0064ff"/><stop offset="0.069" stop-color="#0061ff"/><stop offset="0.103" stop-color="#005dff"/><stop offset="0.138" stop-color="#005aff"/><stop offset="0.172" stop-color="#0056ff"/><stop offset="0.207" stop-color="#0052ff"/><stop offset="0.241" stop-color="#004eff"/><stop offset="0.276" stop-color="#084bff"/><stop offset="0.310" stop-color="#174bff"/><stop offset="0.345" stop-color="#2b4cff"/><stop offset="0.379" stop-color="#424eff"/><stop offset="0.414" stop-color="#5d51ff"/><stop offset="0.448" stop-color="#7b55ff"/><stop offset="0.483" stop-color="#9e58ff"/><stop offset="0.517" stop-color="#c55bff"/><stop offset="0.552" stop-color="#f05eff"/><stop offset="0.586" stop-color="#ff52ea"/><stop offset="0.621" stop-color="#ff41cf"/><stop offset="0.655" stop-color="#ff30b9"/><stop offset="0.690" stop-color="#ff1ba5"/><stop offset="0.724" stop-color="#ff0095"/><stop offset="0.759" stop-color="#ff0086"/><stop offset="0.793" stop-color="#ff0079"/><stop offset="0.828" stop-color="#ff006d"/><stop offset="0.862" stop-color="#ff0063"/><stop offset="0.897" stop-color="#ff0059"/><stop offset="0.931" stop-color="#ff0050"/><stop offset="0.966" stop-color="#ff0048"/><stop offset="1.000" stop-color="#ff0041"/></linearGradient><linearGradient id="g74" gradientUnits="userSpaceOnUse" x1="412.2" x2="577.7" y1="0" y2="0"><stop offset="0.000" stop-color="#0060ff"/><stop offset="0.036" stop-color="#005dff"/><stop offset="0.071" stop-color="#0059ff"/><stop offset="0.107" stop-color="#0056ff"/><stop offset="0.143" stop-color="#0052ff"/><stop offset="0.179" stop-color="#004eff"/><stop offset="0.214" stop-color="#004aff"/><stop offset="0.250" stop-color="#0046ff"/><stop offset="0.286" stop-color="#0b44ff"/><stop offset="0.321" stop-color="#1b44ff"/><stop offset="0.357" stop-color="#2f45ff"/><stop offset="0.393" stop-color="#4647ff"/><stop offset="0.429" stop-color="#614aff"/><stop offset="0.464" stop-color="#7f4cff"/><stop offset="0.500" stop-color="#a14fff"/><stop offset="0.536" stop-color="#c751ff"/><stop offset="0.571" stop-color="#f152ff"/><stop offset="0.607" stop-color="#ff46ea"/><stop offset="0.643" stop-color="#ff34d0"/><stop offset="0.679" stop-color="#ff1fba"/><stop offset="0.714" stop-color="#ff00a7"/><stop offset="0.750" stop-color="#ff0096"/><stop offset="0.786" stop-color="#ff0088"/><stop offset="0.821" stop-color="#ff007b"/><stop offset="0.857" stop-color="#ff006f"/><stop offset="0.893" stop-color="#ff0065"/><stop offset="0.929" stop-color="#ff005b"/><stop offset="0.964" stop-color="#ff0053"/><stop offset="1.000" stop-color="#ff004b"/></linearGradient><linearGradient id="g75" gradientUnits="userSpaceOnUse" x1="413.1" x2="571.7" y1="0" y2="0"><stop offset="0.000" stop-color="#0059ff"/><stop offset="0.037" stop-color="#0056ff"/><stop offset="0.074" stop-color="#0052ff"/><stop offset="0.111" stop-color="#004eff"/><stop offset="0.148" stop-color="#004bff"/><stop offset="0.185" stop-color="#0047ff"/><stop offset="0.222" stop-color="#0043ff"/><stop offset="0.259" stop-color="#023fff"/><stop offset="0.296" stop-color="#0e3dff"/><stop offset="0.333" stop-color="#1f3dff"/><stop offset="0.370" stop-color="#333eff"/><stop offset="0.407" stop-color="#4a40ff"/><stop offset="0.444" stop-color="#6442ff"/><stop offset="0.481" stop-color="#8244ff"/><stop offset="0.519" stop-color="#a346ff"/><stop offset="0.556" stop-color="#c946ff"/><stop offset="0.593" stop-color="#f246ff"/><stop offset="0.630" stop-color="#ff38ea"/><stop offset="0.667" stop-color="#ff23d0"/><stop offset="0.704" stop-color="#ff00bb"/><stop offset="0.741" stop-color="#ff00a8"/><stop offset="0.778" stop-color="#ff0098"/><stop offset="0.815" stop-color="#ff0089"/><stop offset="0.852" stop-color="#ff007d"/><stop offset="0.889" stop-color="#ff0071"/><stop offset="0.926" stop-color="#ff0067"/><stop offset="0.963" stop-color="#ff005d"/><stop offset="1.000" stop-color="#ff0055"/></linearGradient><linearGradient id="g76" gradientUnits="userSpaceOnUse" x1="414.0" x2="565.7" y1="0" y2="0"><stop offset="0.000" stop-color="#0052ff"/><stop offset="0.038" stop-color="#004fff"/><stop offset="0.077" stop-color="#004bff"/><stop offset="0.115" stop-color="#0047ff"/><stop offset="0.154" stop-color="#0044ff"/><stop offset="0.192" stop-color="#0040ff"/><stop offset="0.231" stop-color="#003bff"/><stop offset="0.269" stop-color="#0538ff"/><stop offset="0.308" stop-color="#1237ff"/><stop offset="0.346" stop-color="#2337ff"/><stop offset="0.385" stop-color="#3738ff"/><stop offset="0.423" stop-color="#4e39ff"/><stop offset="0.462" stop-color="#683aff"/><stop offset="0.500" stop-color="#853bff"/><stop offset="0.538" stop-color="#a63cff"/><stop offset="0.577" stop-color="#ca3bff"/><stop offset="0.615" stop-color="#f338ff"/><stop offset="0.654" stop-color="#ff27ea"/><stop offset="0.692" stop-color="#ff01d1"/><stop offset="0.731" stop-color="#ff00bc"/><stop offset="0.769" stop-color="#ff00aa"/><stop offset="0.808" stop-color="#ff009a"/><stop offset="0.846" stop-color="#ff008b"/><stop offset="0.885" stop-color="#ff007f"/><stop offset="0.923" stop-color="#ff0073"/><stop offset="0.962" stop-color="#ff0069"/><stop offset="1.000" stop-color="#ff0060"/></linearGradient><linearGradient id="g77" gradientUnits="userSpaceOnUse" x1="414.9" x2="559.7" y1="0" y2="0"><stop offset="0.000" stop-color="#004bff"/><stop offset="0.040" stop-color="#0048ff"/><stop offset="0.080" stop-color="#0044ff"/><stop offset="0.120" stop-color="#0041ff"/><stop offset="0.160" stop-color="#003dff"/><stop offset="0.200" stop-color="#0039ff"/><stop offset="0.240" stop-color="#0035ff"/><stop offset="0.280" stop-color="#0732ff"/><stop offset="0.320" stop-color="#1531ff"/><stop offset="0.360" stop-color="#2731ff"/><stop offset="0.400" stop-color="#3b31ff"/><stop offset="0.440" stop-color="#5132ff"/><stop offset="0.480" stop-color="#6b32ff"/><stop offset="0.520" stop-color="#8833ff"/><stop offset="0.560" stop-color="#a832ff"/><stop offset="0.600" stop-color="#cc2fff"/><stop offset="0.640" stop-color="#f427ff"/><stop offset="0.680" stop-color="#ff0beb"/><stop offset="0.720" stop-color="#ff00d2"/><stop offset="0.760" stop-color="#ff00bd"/><stop offset="0.800" stop-color="#ff00ab"/><stop offset="0.840" stop-color="#ff009c"/><stop offset="0.880" stop-color="#ff008d"/><stop offset="0.920" stop-color="#ff0081"/><stop offset="0.960" stop-color="#ff0076"/><stop offset="1.000" stop-color="#ff006b"/></linearGradient><linearGradient id="g78" gradientUnits="userSpaceOnUse" x1="415.9" x2="553.7" y1="0" y2="0"><stop offset="0.000" stop-color="#0045ff"/><stop offset="0.043" stop-color="#0041ff"/><stop offset="0.087" stop-color="#003eff"/><stop offset="0.130" stop-color="#003aff"/><stop offset="0.174" stop-color="#0036ff"/><stop offset="0.217" stop-color="#0032ff"/><stop offset="0.261" stop-color="#022eff"/><stop offset="0.304" stop-color="#0f2cff"/><stop offset="0.348" stop-color="#1f2bff"/><stop offset="0.391" stop-color="#322bff"/><stop offset="0.435" stop-color="#482bff"/><stop offset="0.478" stop-color="#612bff"/><stop offset="0.522" stop-color="#7d2aff"/><stop offset="0.565" stop-color="#9c28ff"/><stop offset="0.609" stop-color="#bf24ff"/><stop offset="0.652" stop-color="#e618ff"/><stop offset="0.696" stop-color="#ff00f3"/><stop offset="0.739" stop-color="#ff00d9"/><stop offset="0.783" stop-color="#ff00c3"/><stop offset="0.826" stop-color="#ff00b0"/><stop offset="0.870" stop-color="#ff00a0"/><stop offset="0.913" stop-color="#ff0091"/><stop offset="0.957" stop-color="#ff0084"/><stop offset="1.000" stop-color="#ff0078"/></linearGradient><linearGradient id="g79" gradientUnits="userSpaceOnUse" x1="416.8" x2="547.8" y1="0" y2="0"><stop offset="0.000" stop-color="#003fff"/><stop offset="0.045" stop-color="#003bff"/><stop offset="0.091" stop-color="#0037ff"/><stop offset="0.136" stop-color="#0034ff"/><stop offset="0.182" stop-color="#0030ff"/><stop offset="0.227" stop-color="#002bff"/><stop offset="0.273" stop-color="#0528ff"/><stop offset="0.318" stop-color="#1226ff"/><stop offset="0.364" stop-color="#2225ff"/><stop offset="0.409" stop-color="#3525ff"/><stop offset="0.455" stop-color="#4b24ff"/><stop offset="0.500" stop-color="#6423ff"/><stop offset="0.545" stop-color="#8022ff"/><stop offset="0.591" stop-color="#9e1dff"/><stop offset="0.636" stop-color="#c114ff"/><stop offset="0.682" stop-color="#e700ff"/><stop offset="0.727" stop-color="#ff00f3"/><stop offset="0.773" stop-color="#ff00da"/><stop offset="0.818" stop-color="#ff00c4"/><stop offset="0.864" stop-color="#ff00b2"/><stop offset="0.909" stop-color="#ff00a1"/><stop offset="0.955" stop-color="#ff0093"/><stop offset="1.000" stop-color="#ff0086"/></linearGradient><linearGradient id="g80" gradientUnits="userSpaceOnUse" x1="417.8" x2="541.8" y1="0" y2="0"><stop offset="0.000" stop-color="#0039ff"/><stop offset="0.048" stop-color="#0035ff"/><stop offset="0.095" stop-color="#0031ff"/><stop offset="0.143" stop-color="#002eff"/><stop offset="0.190" stop-color="#002aff"/><stop offset="0.238" stop-color="#0025ff"/><stop offset="0.286" stop-color="#0823ff"/><stop offset="0.333" stop-color="#1521ff"/><stop offset="0.381" stop-color="#2620ff"/><stop offset="0.429" stop-color="#391fff"/><stop offset="0.476" stop-color="#4f1eff"/><stop offset="0.524" stop-color="#671cff"/><stop offset="0.571" stop-color="#8218ff"/><stop offset="0.619" stop-color="#a111ff"/><stop offset="0.667" stop-color="#c200ff"/><stop offset="0.714" stop-color="#e700ff"/><stop offset="0.762" stop-color="#ff00f4"/><stop offset="0.810" stop-color="#ff00db"/><stop offset="0.857" stop-color="#ff00c6"/><stop offset="0.905" stop-color="#ff00b3"/><stop offset="0.952" stop-color="#ff00a3"/><stop offset="1.000" stop-color="#ff0095"/></linearGradient><linearGradient id="g81" gradientUnits="userSpaceOnUse" x1="418.8" x2="535.8" y1="0" y2="0"><stop offset="0.000" stop-color="#0033ff"/><stop offset="0.050" stop-color="#002fff"/><stop offset="0.100" stop-color="#002cff"/><stop offset="0.150" stop-color="#0028ff"/><stop offset="0.200" stop-color="#0024ff"/><stop offset="0.250" stop-color="#0120ff"/><stop offset="0.300" stop-color="#0b1eff"/><stop offset="0.350" stop-color="#191cff"/><stop offset="0.400" stop-color="#2a1bff"/><stop offset="0.450" stop-color="#3d19ff"/><stop offset="0.500" stop-color="#5217ff"/><stop offset="0.550" stop-color="#6a14ff"/><stop offset="0.600" stop-color="#850eff"/><stop offset="0.650" stop-color="#a300ff"/><stop offset="0.700" stop-color="#c300ff"/><stop offset="0.750" stop-color="#e800ff"/><stop offset="0.800" stop-color="#ff00f4"/><stop offset="0.850" stop-color="#ff00dc"/><stop offset="0.900" stop-color="#ff00c7"/><stop offset="0.950" stop-color="#ff00b5"/><stop offset="1.000" stop-color="#ff00a5"/></linearGradient><linearGradient id="g82" gradientUnits="userSpaceOnUse" x1="419.9" x2="529.8" y1="0" y2="0"><stop offset="0.000" stop-color="#002dff"/><stop offset="0.053" stop-color="#002aff"/><stop offset="0.105" stop-color="#0026ff"/><stop offset="0.158" stop-color="#0022ff"/><stop offset="0.211" stop-color="#001fff"/><stop offset="0.263" stop-color="#031bff"/><stop offset="0.316" stop-color="#0e19ff"/><stop offset="0.368" stop-color="#1c17ff"/><stop offset="0.421" stop-color="#2d15ff"/><stop offset="0.474" stop-color="#4013ff"/><stop offset="0.526" stop-color="#5510ff"/><stop offset="0.579" stop-color="#6d0bff"/><stop offset="0.632" stop-color="#8700ff"/><stop offset="0.684" stop-color="#a400ff"/><stop offset="0.737" stop-color="#c400ff"/><stop offset="0.789" stop-color="#e700ff"/><stop offset="0.842" stop-color="#ff00f5"/><stop offset="0.895" stop-color="#ff00dd"/><stop offset="0.947" stop-color="#ff00c9"/><stop offset="1.000" stop-color="#ff00b7"/></linearGradient><linearGradient id="g83" gradientUnits="userSpaceOnUse" x1="420.9" x2="523.8" y1="0" y2="0"><stop offset="0.000" stop-color="#0028ff"/><stop offset="0.056" stop-color="#0025ff"/><stop offset="0.111" stop-color="#0021ff"/><stop offset="0.167" stop-color="#001dff"/><stop offset="0.222" stop-color="#001aff"/><stop offset="0.278" stop-color="#0616ff"/><stop offset="0.333" stop-color="#1114ff"/><stop offset="0.389" stop-color="#2012ff"/><stop offset="0.444" stop-color="#3010ff"/><stop offset="0.500" stop-color="#430dff"/><stop offset="0.556" stop-color="#5809ff"/><stop offset="0.611" stop-color="#6f01ff"/><stop offset="0.667" stop-color="#8900ff"/><stop offset="0.722" stop-color="#a500ff"/><stop offset="0.778" stop-color="#c400ff"/><stop offset="0.833" stop-color="#e600ff"/><stop offset="0.889" stop-color="#ff00f6"/><stop offset="0.944" stop-color="#ff00df"/><stop offset="1.000" stop-color="#ff00cb"/></linearGradient><linearGradient id="g84" gradientUnits="userSpaceOnUse" x1="422.0" x2="517.8" y1="0" y2="0"><stop offset="0.000" stop-color="#0023ff"/><stop offset="0.062" stop-color="#001fff"/><stop offset="0.125" stop-color="#001cff"/><stop offset="0.188" stop-color="#0018ff"/><stop offset="0.250" stop-color="#0214ff"/><stop offset="0.312" stop-color="#0c11ff"/><stop offset="0.375" stop-color="#1a0fff"/><stop offset="0.438" stop-color="#2a0dff"/><stop offset="0.500" stop-color="#3c0aff"/><stop offset="0.562" stop-color="#5105ff"/><stop offset="0.625" stop-color="#6800ff"/><stop offset="0.688" stop-color="#8200ff"/><stop offset="0.750" stop-color="#9f00ff"/><stop offset="0.812" stop-color="#be00ff"/><stop offset="0.875" stop-color="#e100ff"/><stop offset="0.938" stop-color="#ff00fa"/><stop offset="1.000" stop-color="#ff00e2"/></linearGradient><linearGradient id="g85" gradientUnits="userSpaceOnUse" x1="423.0" x2="511.8" y1="0" y2="0"><stop offset="0.000" stop-color="#001eff"/><stop offset="0.067" stop-color="#001bff"/><stop offset="0.133" stop-color="#0017ff"/><stop offset="0.200" stop-color="#0013ff"/><stop offset="0.267" stop-color="#0410ff"/><stop offset="0.333" stop-color="#0f0dff"/><stop offset="0.400" stop-color="#1d0bff"/><stop offset="0.467" stop-color="#2d08ff"/><stop offset="0.533" stop-color="#4004ff"/><stop offset="0.600" stop-color="#5400ff"/><stop offset="0.667" stop-color="#6b00ff"/><stop offset="0.733" stop-color="#8400ff"/><stop offset="0.800" stop-color="#a000ff"/><stop offset="0.867" stop-color="#bf00ff"/><stop offset="0.933" stop-color="#e000ff"/><stop offset="1.000" stop-color="#ff00fb"/></linearGradient><linearGradient id="g86" gradientUnits="userSpaceOnUse" x1="424.1" x2="505.8" y1="0" y2="0"><stop offset="0.000" stop-color="#0019ff"/><stop offset="0.071" stop-color="#0016ff"/><stop offset="0.143" stop-color="#0012ff"/><stop offset="0.214" stop-color="#000fff"/><stop offset="0.286" stop-color="#070cff"/><stop offset="0.357" stop-color="#1209ff"/><stop offset="0.429" stop-color="#2007ff"/><stop offset="0.500" stop-color="#3003ff"/><stop offset="0.571" stop-color="#4200ff"/><stop offset="0.643" stop-color="#5700ff"/><stop offset="0.714" stop-color="#6d00ff"/><stop offset="0.786" stop-color="#8600ff"/><stop offset="0.857" stop-color="#a100ff"/><stop offset="0.929" stop-color="#bf00ff"/><stop offset="1.000" stop-color="#df00ff"/></linearGradient><linearGradient id="g87" gradientUnits="userSpaceOnUse" x1="425.6" x2="499.9" y1="0" y2="0"><stop offset="0.000" stop-color="#0015ff"/><stop offset="0.077" stop-color="#0012ff"/><stop offset="0.154" stop-color="#000eff"/><stop offset="0.231" stop-color="#010bff"/><stop offset="0.308" stop-color="#0a08ff"/><stop offset="0.385" stop-color="#1606ff"/><stop offset="0.462" stop-color="#2403ff"/><stop offset="0.538" stop-color="#3400ff"/><stop offset="0.615" stop-color="#4600ff"/><stop offset="0.692" stop-color="#5900ff"/><stop offset="0.769" stop-color="#6f00ff"/><stop offset="0.846" stop-color="#8700ff"/><stop offset="0.923" stop-color="#a100ff"/><stop offset="1.000" stop-color="#be00ff"/></linearGradient><linearGradient id="g88" gradientUnits="userSpaceOnUse" x1="427.0" x2="493.9" y1="0" y2="0"><stop offset="0.000" stop-color="#0010ff"/><stop offset="0.083" stop-color="#000dff"/><stop offset="0.167" stop-color="#000aff"/><stop offset="0.250" stop-color="#0407ff"/><stop offset="0.333" stop-color="#0d05ff"/><stop offset="0.417" stop-color="#1902ff"/><stop offset="0.500" stop-color="#2700ff"/><stop offset="0.583" stop-color="#3700ff"/><stop offset="0.667" stop-color="#4800ff"/><stop offset="0.750" stop-color="#5b00ff"/><stop offset="0.833" stop-color="#7000ff"/><stop offset="0.917" stop-color="#8700ff"/><stop offset="1.000" stop-color="#a000ff"/></linearGradient><linearGradient id="g89" gradientUnits="userSpaceOnUse" x1="428.5" x2="487.9" y1="0" y2="0"><stop offset="0.000" stop-color="#000cff"/><stop offset="0.100" stop-color="#0009ff"/><stop offset="0.200" stop-color="#0006ff"/><stop offset="0.300" stop-color="#0903ff"/><stop offset="0.400" stop-color="#1501ff"/><stop offset="0.500" stop-color="#2300ff"/><stop offset="0.600" stop-color="#3300ff"/><stop offset="0.700" stop-color="#4400ff"/><stop offset="0.800" stop-color="#5800ff"/><stop offset="0.900" stop-color="#6e00ff"/><stop offset="1.000" stop-color="#8600ff"/></linearGradient><linearGradient id="g90" gradientUnits="userSpaceOnUse" x1="430.0" x2="481.9" y1="0" y2="0"><stop offset="0.000" stop-color="#0009ff"/><stop offset="0.111" stop-color="#0006ff"/><stop offset="0.222" stop-color="#0303ff"/><stop offset="0.333" stop-color="#0c01ff"/><stop offset="0.444" stop-color="#1800ff"/><stop offset="0.556" stop-color="#2600ff"/><stop offset="0.667" stop-color="#3500ff"/><stop offset="0.778" stop-color="#4700ff"/><stop offset="0.889" stop-color="#5a00ff"/><stop offset="1.000" stop-color="#6f00ff"/></linearGradient><linearGradient id="g91" gradientUnits="userSpaceOnUse" x1="431.7" x2="475.9" y1="0" y2="0"><stop offset="0.000" stop-color="#0005ff"/><stop offset="0.125" stop-color="#0002ff"/><stop offset="0.250" stop-color="#0600ff"/><stop offset="0.375" stop-color="#1000ff"/><stop offset="0.500" stop-color="#1b00ff"/><stop offset="0.625" stop-color="#2900ff"/><stop offset="0.750" stop-color="#3800ff"/><stop offset="0.875" stop-color="#4800ff"/><stop offset="1.000" stop-color="#5a00ff"/></linearGradient><linearGradient id="g92" gradientUnits="userSpaceOnUse" x1="433.4" x2="469.9" y1="0" y2="0"><stop offset="0.000" stop-color="#0002ff"/><stop offset="0.143" stop-color="#0100ff"/><stop offset="0.286" stop-color="#0900ff"/><stop offset="0.429" stop-color="#1300ff"/><stop offset="0.571" stop-color="#1e00ff"/><stop offset="0.714" stop-color="#2b00ff"/><stop offset="0.857" stop-color="#3900ff"/><stop offset="1.000" stop-color="#4800ff"/></linearGradient><linearGradient id="g93" gradientUnits="userSpaceOnUse" x1="435.1" x2="463.9" y1="0" y2="0"><stop offset="0.000" stop-color="#0000ff"/><stop offset="0.200" stop-color="#0600ff"/><stop offset="0.400" stop-color="#0f00ff"/><stop offset="0.600" stop-color="#1b00ff"/><stop offset="0.800" stop-color="#2900ff"/><stop offset="1.000" stop-color="#3800ff"/></linearGradient><linearGradient id="g94" gradientUnits="userSpaceOnUse" x1="436.7" x2="457.9" y1="0" y2="0"><stop offset="0.000" stop-color="#0100ff"/><stop offset="0.250" stop-color="#0900ff"/><stop offset="0.500" stop-color="#1200ff"/><stop offset="0.750" stop-color="#1d00ff"/><stop offset="1.000" stop-color="#2a00ff"/></linearGradient><linearGradient id="g95" gradientUnits="userSpaceOnUse" x1="439.7" x2="452.0" y1="0" y2="0"><stop offset="0.000" stop-color="#0600ff"/><stop offset="0.333" stop-color="#0d00ff"/><stop offset="0.667" stop-color="#1500ff"/><stop offset="1.000" stop-color="#1d00ff"/></linearGradient></defs>
<g clip-path="url(#chs)"><rect x="407.4" y="254.0" width="15.5" height="2.3" fill="url(#g0)"/><rect x="401.1" y="256.0" width="31.3" height="2.3" fill="url(#g1)"/><rect x="397.8" y="258.0" width="41.3" height="2.3" fill="url(#g2)"/><rect x="395.9" y="260.0" width="48.6" height="2.3" fill="url(#g3)"/><rect x="394.3" y="262.0" width="54.6" height="2.3" fill="url(#g4)"/><rect x="392.7" y="264.0" width="60.6" height="2.3" fill="url(#g5)"/><rect x="391.7" y="266.0" width="65.8" height="2.3" fill="url(#g6)"/><rect x="390.9" y="268.0" width="70.9" height="2.3" fill="url(#g7)"/><rect x="390.0" y="270.0" width="76.0" height="2.3" fill="url(#g8)"/><rect x="389.4" y="272.0" width="80.6" height="2.3" fill="url(#g9)"/><rect x="388.9" y="274.0" width="85.1" height="2.3" fill="url(#g10)"/><rect x="388.4" y="276.0" width="89.5" height="2.3" fill="url(#g11)"/><rect x="388.0" y="278.0" width="93.8" height="2.3" fill="url(#g12)"/><rect x="387.5" y="280.0" width="98.0" height="2.3" fill="url(#g13)"/><rect x="387.1" y="282.0" width="102.1" height="2.3" fill="url(#g14)"/><rect x="386.9" y="284.0" width="105.5" height="2.3" fill="url(#g15)"/><rect x="386.7" y="286.0" width="108.9" height="2.3" fill="url(#g16)"/><rect x="386.5" y="288.0" width="112.2" height="2.3" fill="url(#g17)"/><rect x="386.3" y="290.0" width="115.6" height="2.3" fill="url(#g18)"/><rect x="386.1" y="292.0" width="118.7" height="2.3" fill="url(#g19)"/><rect x="385.9" y="294.0" width="121.7" height="2.3" fill="url(#g20)"/><rect x="385.8" y="296.0" width="124.6" height="2.3" fill="url(#g21)"/><rect x="385.8" y="298.0" width="127.5" height="2.3" fill="url(#g22)"/><rect x="385.7" y="300.0" width="130.3" height="2.3" fill="url(#g23)"/><rect x="385.6" y="302.0" width="133.1" height="2.3" fill="url(#g24)"/><rect x="385.5" y="304.0" width="135.9" height="2.3" fill="url(#g25)"/><rect x="385.5" y="306.0" width="138.7" height="2.3" fill="url(#g26)"/><rect x="385.5" y="308.0" width="141.5" height="2.3" fill="url(#g27)"/><rect x="385.6" y="310.0" width="144.2" height="2.3" fill="url(#g28)"/><rect x="385.7" y="312.0" width="147.0" height="2.3" fill="url(#g29)"/><rect x="385.8" y="314.0" width="149.8" height="2.3" fill="url(#g30)"/><rect x="385.9" y="316.0" width="152.6" height="2.3" fill="url(#g31)"/><rect x="386.0" y="318.0" width="155.4" height="2.3" fill="url(#g32)"/><rect x="386.1" y="320.0" width="158.1" height="2.3" fill="url(#g33)"/><rect x="386.2" y="322.0" width="160.8" height="2.3" fill="url(#g34)"/><rect x="386.4" y="324.0" width="163.6" height="2.3" fill="url(#g35)"/><rect x="386.5" y="326.0" width="166.3" height="2.3" fill="url(#g36)"/><rect x="386.7" y="328.0" width="169.0" height="2.3" fill="url(#g37)"/><rect x="386.8" y="330.0" width="171.8" height="2.3" fill="url(#g38)"/><rect x="387.0" y="332.0" width="174.5" height="2.3" fill="url(#g39)"/><rect x="387.4" y="334.0" width="177.0" height="2.3" fill="url(#g40)"/><rect x="387.7" y="336.0" width="179.6" height="2.3" fill="url(#g41)"/><rect x="388.0" y="338.0" width="182.1" height="2.3" fill="url(#g42)"/><rect x="388.4" y="340.0" width="184.7" height="2.3" fill="url(#g43)"/><rect x="388.9" y="342.0" width="187.1" height="2.3" fill="url(#g44)"/><rect x="389.5" y="344.0" width="189.4" height="2.3" fill="url(#g45)"/><rect x="390.1" y="346.0" width="191.6" height="2.3" fill="url(#g46)"/><rect x="390.8" y="348.0" width="193.9" height="2.3" fill="url(#g47)"/><rect x="391.4" y="350.0" width="196.1" height="2.3" fill="url(#g48)"/><rect x="392.1" y="352.0" width="198.3" height="2.3" fill="url(#g49)"/><rect x="392.9" y="354.0" width="200.5" height="2.3" fill="url(#g50)"/><rect x="393.6" y="356.0" width="202.7" height="2.3" fill="url(#g51)"/><rect x="394.3" y="358.0" width="204.9" height="2.3" fill="url(#g52)"/><rect x="395.1" y="360.0" width="207.0" height="2.3" fill="url(#g53)"/><rect x="395.9" y="362.0" width="209.2" height="2.3" fill="url(#g54)"/><rect x="396.7" y="364.0" width="211.2" height="2.3" fill="url(#g55)"/><rect x="397.6" y="366.0" width="213.3" height="2.3" fill="url(#g56)"/><rect x="398.5" y="368.0" width="215.3" height="2.3" fill="url(#g57)"/><rect x="399.4" y="370.0" width="217.4" height="2.3" fill="url(#g58)"/><rect x="400.2" y="372.0" width="219.4" height="2.3" fill="url(#g59)"/><rect x="401.0" y="374.0" width="221.6" height="2.3" fill="url(#g60)"/><rect x="401.8" y="376.0" width="223.7" height="2.3" fill="url(#g61)"/><rect x="402.6" y="378.0" width="225.9" height="2.3" fill="url(#g62)"/><rect x="403.3" y="380.0" width="228.0" height="2.3" fill="url(#g63)"/><rect x="404.1" y="382.0" width="228.7" height="2.3" fill="url(#g64)"/><rect x="404.9" y="384.0" width="226.7" height="2.3" fill="url(#g65)"/><rect x="405.7" y="386.0" width="219.9" height="2.3" fill="url(#g66)"/><rect x="406.4" y="388.0" width="213.2" height="2.3" fill="url(#g67)"/><rect x="407.2" y="390.0" width="206.4" height="2.3" fill="url(#g68)"/><rect x="408.0" y="392.0" width="199.6" height="2.3" fill="url(#g69)"/><rect x="408.8" y="394.0" width="192.8" height="2.3" fill="url(#g70)"/><rect x="409.6" y="396.0" width="186.0" height="2.3" fill="url(#g71)"/><rect x="410.5" y="398.0" width="179.2" height="2.3" fill="url(#g72)"/><rect x="411.3" y="400.0" width="172.3" height="2.3" fill="url(#g73)"/><rect x="412.2" y="402.0" width="165.5" height="2.3" fill="url(#g74)"/><rect x="413.1" y="404.0" width="158.6" height="2.3" fill="url(#g75)"/><rect x="414.0" y="406.0" width="151.7" height="2.3" fill="url(#g76)"/><rect x="414.9" y="408.0" width="144.8" height="2.3" fill="url(#g77)"/><rect x="415.9" y="410.0" width="137.9" height="2.3" fill="url(#g78)"/><rect x="416.8" y="412.0" width="130.9" height="2.3" fill="url(#g79)"/><rect x="417.8" y="414.0" width="124.0" height="2.3" fill="url(#g80)"/><rect x="418.8" y="416.0" width="117.0" height="2.3" fill="url(#g81)"/><rect x="419.9" y="418.0" width="109.9" height="2.3" fill="url(#g82)"/><rect x="420.9" y="420.0" width="102.9" height="2.3" fill="url(#g83)"/><rect x="422.0" y="422.0" width="95.9" height="2.3" fill="url(#g84)"/><rect x="423.0" y="424.0" width="88.8" height="2.3" fill="url(#g85)"/><rect x="424.1" y="426.0" width="81.7" height="2.3" fill="url(#g86)"/><rect x="425.6" y="428.0" width="74.3" height="2.3" fill="url(#g87)"/><rect x="427.0" y="430.0" width="66.8" height="2.3" fill="url(#g88)"/><rect x="428.5" y="432.0" width="59.4" height="2.3" fill="url(#g89)"/><rect x="430.0" y="434.0" width="51.9" height="2.3" fill="url(#g90)"/><rect x="431.7" y="436.0" width="44.2" height="2.3" fill="url(#g91)"/><rect x="433.4" y="438.0" width="36.5" height="2.3" fill="url(#g92)"/><rect x="435.1" y="440.0" width="28.9" height="2.3" fill="url(#g93)"/><rect x="436.7" y="442.0" width="21.2" height="2.3" fill="url(#g94)"/><rect x="439.7" y="444.0" width="12.3" height="2.3" fill="url(#g95)"/></g>
<g stroke="#fff" stroke-opacity="0.5" stroke-width="1"><line x1="419.2" y1="449.7" x2="419.2" y2="251.0"/><line x1="384.9" y1="425.9" x2="659.5" y2="425.9"/><line x1="453.6" y1="449.7" x2="453.6" y2="251.0"/><line x1="384.9" y1="402.2" x2="659.5" y2="402.2"/><line x1="487.9" y1="449.7" x2="487.9" y2="251.0"/><line x1="384.9" y1="378.4" x2="659.5" y2="378.4"/><line x1="522.2" y1="449.7" x2="522.2" y2="251.0"/><line x1="384.9" y1="354.6" x2="659.5" y2="354.6"/><line x1="556.5" y1="449.7" x2="556.5" y2="251.0"/><line x1="384.9" y1="330.9" x2="659.5" y2="330.9"/><line x1="590.9" y1="449.7" x2="590.9" y2="251.0"/><line x1="384.9" y1="307.1" x2="659.5" y2="307.1"/><line x1="625.2" y1="449.7" x2="625.2" y2="251.0"/><line x1="384.9" y1="283.3" x2="659.5" y2="283.3"/></g>
<g stroke="#fff" stroke-opacity="0.38" stroke-width="1.1" stroke-dasharray="1.2 1.0"><line x1="659.5" y1="425.9" x2="674.5" y2="425.9"/><line x1="659.5" y1="402.2" x2="674.5" y2="402.2"/><line x1="659.5" y1="378.4" x2="674.5" y2="378.4"/><line x1="659.5" y1="354.6" x2="674.5" y2="354.6"/><line x1="659.5" y1="330.9" x2="674.5" y2="330.9"/><line x1="659.5" y1="307.1" x2="674.5" y2="307.1"/><line x1="659.5" y1="283.3" x2="674.5" y2="283.3"/><line x1="659.5" y1="449.7" x2="659.5" y2="251.0"/><line x1="384.9" y1="259.5" x2="674.5" y2="259.5"/></g>
<g clip-path="url(#chs)" stroke="#fff" stroke-opacity="0.14" stroke-width="1.8"><line x1="419.2" y1="449.7" x2="419.2" y2="251.0"/><line x1="384.9" y1="425.9" x2="659.5" y2="425.9"/><line x1="453.6" y1="449.7" x2="453.6" y2="251.0"/><line x1="384.9" y1="402.2" x2="659.5" y2="402.2"/><line x1="487.9" y1="449.7" x2="487.9" y2="251.0"/><line x1="384.9" y1="378.4" x2="659.5" y2="378.4"/><line x1="522.2" y1="449.7" x2="522.2" y2="251.0"/><line x1="384.9" y1="354.6" x2="659.5" y2="354.6"/><line x1="556.5" y1="449.7" x2="556.5" y2="251.0"/><line x1="384.9" y1="330.9" x2="659.5" y2="330.9"/><line x1="590.9" y1="449.7" x2="590.9" y2="251.0"/><line x1="384.9" y1="307.1" x2="659.5" y2="307.1"/><line x1="625.2" y1="449.7" x2="625.2" y2="251.0"/><line x1="384.9" y1="283.3" x2="659.5" y2="283.3"/></g>
<g stroke="#ddd" stroke-width="1.5"><line x1="384.9" y1="450.4" x2="384.9" y2="258.8"/><line x1="384.1" y1="449.7" x2="660.3" y2="449.7"/><line x1="384.9" y1="449.7" x2="389.9" y2="449.7"/><line x1="384.9" y1="449.7" x2="384.9" y2="446.2"/><line x1="384.9" y1="437.8" x2="387.4" y2="437.8"/><line x1="402.1" y1="449.7" x2="402.1" y2="447.9"/><line x1="384.9" y1="425.9" x2="389.9" y2="425.9"/><line x1="419.2" y1="449.7" x2="419.2" y2="446.2"/><line x1="384.9" y1="414.0" x2="387.4" y2="414.0"/><line x1="436.4" y1="449.7" x2="436.4" y2="447.9"/><line x1="384.9" y1="402.2" x2="389.9" y2="402.2"/><line x1="453.6" y1="449.7" x2="453.6" y2="446.2"/><line x1="384.9" y1="390.3" x2="387.4" y2="390.3"/><line x1="470.7" y1="449.7" x2="470.7" y2="447.9"/><line x1="384.9" y1="378.4" x2="389.9" y2="378.4"/><line x1="487.9" y1="449.7" x2="487.9" y2="446.2"/><line x1="384.9" y1="366.5" x2="387.4" y2="366.5"/><line x1="505.1" y1="449.7" x2="505.1" y2="447.9"/><line x1="384.9" y1="354.6" x2="389.9" y2="354.6"/><line x1="522.2" y1="449.7" x2="522.2" y2="446.2"/><line x1="384.9" y1="342.7" x2="387.4" y2="342.7"/><line x1="539.4" y1="449.7" x2="539.4" y2="447.9"/><line x1="384.9" y1="330.9" x2="389.9" y2="330.9"/><line x1="556.5" y1="449.7" x2="556.5" y2="446.2"/><line x1="384.9" y1="319.0" x2="387.4" y2="319.0"/><line x1="573.7" y1="449.7" x2="573.7" y2="447.9"/><line x1="384.9" y1="307.1" x2="389.9" y2="307.1"/><line x1="590.9" y1="449.7" x2="590.9" y2="446.2"/><line x1="384.9" y1="295.2" x2="387.4" y2="295.2"/><line x1="608.0" y1="449.7" x2="608.0" y2="447.9"/><line x1="384.9" y1="283.3" x2="389.9" y2="283.3"/><line x1="625.2" y1="449.7" x2="625.2" y2="446.2"/><line x1="384.9" y1="271.4" x2="387.4" y2="271.4"/><line x1="642.4" y1="449.7" x2="642.4" y2="447.9"/><line x1="384.9" y1="259.5" x2="389.9" y2="259.5"/><line x1="659.5" y1="449.7" x2="659.5" y2="446.2"/></g>
<g clip-path="url(#cbox)"><text transform="translate(377.8,255.2) scale(1.44,1)" x="0.00 4.38 8.75" font-size="8.8" fill="#b4b4b4" font-family="Liberation Serif, serif" text-anchor="start">510</text><text transform="translate(419.8,252.3) scale(1.44,1)" x="0.00 4.38 8.75" font-size="8.8" fill="#b4b4b4" font-family="Liberation Serif, serif" text-anchor="start">520</text><text transform="translate(460.0,263.0) scale(1.44,1)" x="0.00 4.38 8.75" font-size="8.8" fill="#b4b4b4" font-family="Liberation Serif, serif" text-anchor="start">530</text><text transform="translate(484.7,276.5) scale(1.44,1)" x="0.00 4.38 8.75" font-size="8.8" fill="#b4b4b4" font-family="Liberation Serif, serif" text-anchor="start">540</text><text transform="translate(508.7,290.6) scale(1.44,1)" x="0.00 4.38 8.75" font-size="8.8" fill="#b4b4b4" font-family="Liberation Serif, serif" text-anchor="start">550</text><text transform="translate(531.7,306.7) scale(1.44,1)" x="0.00 4.38 8.75" font-size="8.8" fill="#b4b4b4" font-family="Liberation Serif, serif" text-anchor="start">560</text><text transform="translate(553.6,321.9) scale(1.44,1)" x="0.00 4.38 8.75" font-size="8.8" fill="#b4b4b4" font-family="Liberation Serif, serif" text-anchor="start">570</text><text transform="translate(574.3,335.6) scale(1.44,1)" x="0.00 4.38 8.75" font-size="8.8" fill="#b4b4b4" font-family="Liberation Serif, serif" text-anchor="start">580</text><text transform="translate(591.8,347.9) scale(1.44,1)" x="0.00 4.38 8.75" font-size="8.8" fill="#b4b4b4" font-family="Liberation Serif, serif" text-anchor="start">590</text><text transform="translate(605.0,357.4) scale(1.44,1)" x="0.00 4.38 8.75" font-size="8.8" fill="#b4b4b4" font-family="Liberation Serif, serif" text-anchor="start">600</text><text transform="translate(615.8,364.9) scale(1.44,1)" x="0.00 4.38 8.75" font-size="8.8" fill="#b4b4b4" font-family="Liberation Serif, serif" text-anchor="start">610</text><text transform="translate(627.2,372.8) scale(1.44,1)" x="0.00 4.38 8.75" font-size="8.8" fill="#b4b4b4" font-family="Liberation Serif, serif" text-anchor="start">630</text><text transform="translate(635.7,378.6) scale(1.44,1)" x="0.00 4.38 8.75" font-size="8.8" fill="#b4b4b4" font-family="Liberation Serif, serif" text-anchor="start">680</text><text transform="translate(367.6,348.6) scale(1.44,1)" x="0.00 4.38 8.75" font-size="8.8" fill="#b4b4b4" font-family="Liberation Serif, serif" text-anchor="start">490</text><text transform="translate(386.0,399.9) scale(1.44,1)" x="0.00 4.38 8.75" font-size="8.8" fill="#b4b4b4" font-family="Liberation Serif, serif" text-anchor="start">480</text><text transform="translate(400.3,433.2) scale(1.44,1)" x="0.00 4.38 8.75" font-size="8.8" fill="#b4b4b4" font-family="Liberation Serif, serif" text-anchor="start">470</text><text transform="translate(407.7,445.3) scale(1.44,1)" x="0.00 4.38 8.75" font-size="8.8" fill="#b4b4b4" font-family="Liberation Serif, serif" text-anchor="start">460</text><text transform="translate(433.5,457.2) scale(1.44,1)" x="0.00 4.38 8.75" font-size="8.8" fill="#b4b4b4" font-family="Liberation Serif, serif" text-anchor="start">420</text><text transform="translate(375.2,457.3) scale(1.44,1)" x="0.00 4.38 8.75" font-size="8.8" fill="#9c9c9c" font-family="Liberation Serif, serif" text-anchor="start">0.0</text><text transform="translate(365.0,453.5) scale(1.44,1)" x="0.00 4.38 8.75" font-size="8.8" fill="#9c9c9c" font-family="Liberation Serif, serif" text-anchor="start">0.0</text><text transform="translate(409.5,457.3) scale(1.44,1)" x="0.00 4.38 8.75" font-size="8.8" fill="#9c9c9c" font-family="Liberation Serif, serif" text-anchor="start">0.1</text><text transform="translate(365.0,429.7) scale(1.44,1)" x="0.00 4.38 8.75" font-size="8.8" fill="#9c9c9c" font-family="Liberation Serif, serif" text-anchor="start">0.1</text><text transform="translate(443.9,457.3) scale(1.44,1)" x="0.00 4.38 8.75" font-size="8.8" fill="#9c9c9c" font-family="Liberation Serif, serif" text-anchor="start">0.2</text><text transform="translate(365.0,406.0) scale(1.44,1)" x="0.00 4.38 8.75" font-size="8.8" fill="#9c9c9c" font-family="Liberation Serif, serif" text-anchor="start">0.2</text><text transform="translate(478.2,457.3) scale(1.44,1)" x="0.00 4.38 8.75" font-size="8.8" fill="#9c9c9c" font-family="Liberation Serif, serif" text-anchor="start">0.3</text><text transform="translate(365.0,382.2) scale(1.44,1)" x="0.00 4.38 8.75" font-size="8.8" fill="#9c9c9c" font-family="Liberation Serif, serif" text-anchor="start">0.3</text><text transform="translate(512.5,457.3) scale(1.44,1)" x="0.00 4.38 8.75" font-size="8.8" fill="#9c9c9c" font-family="Liberation Serif, serif" text-anchor="start">0.4</text><text transform="translate(365.0,358.4) scale(1.44,1)" x="0.00 4.38 8.75" font-size="8.8" fill="#9c9c9c" font-family="Liberation Serif, serif" text-anchor="start">0.4</text><text transform="translate(546.8,457.3) scale(1.44,1)" x="0.00 4.38 8.75" font-size="8.8" fill="#9c9c9c" font-family="Liberation Serif, serif" text-anchor="start">0.5</text><text transform="translate(365.0,334.7) scale(1.44,1)" x="0.00 4.38 8.75" font-size="8.8" fill="#9c9c9c" font-family="Liberation Serif, serif" text-anchor="start">0.5</text><text transform="translate(581.2,457.3) scale(1.44,1)" x="0.00 4.38 8.75" font-size="8.8" fill="#9c9c9c" font-family="Liberation Serif, serif" text-anchor="start">0.6</text><text transform="translate(365.0,310.9) scale(1.44,1)" x="0.00 4.38 8.75" font-size="8.8" fill="#9c9c9c" font-family="Liberation Serif, serif" text-anchor="start">0.6</text><text transform="translate(615.5,457.3) scale(1.44,1)" x="0.00 4.38 8.75" font-size="8.8" fill="#9c9c9c" font-family="Liberation Serif, serif" text-anchor="start">0.7</text><text transform="translate(365.0,287.1) scale(1.44,1)" x="0.00 4.38 8.75" font-size="8.8" fill="#9c9c9c" font-family="Liberation Serif, serif" text-anchor="start">0.7</text><text transform="translate(649.8,457.3) scale(1.44,1)" x="0.00 4.38 8.75" font-size="8.8" fill="#9c9c9c" font-family="Liberation Serif, serif" text-anchor="start">0.8</text><text transform="translate(365.0,263.3) scale(1.44,1)" x="0.00 4.38 8.75" font-size="8.8" fill="#9c9c9c" font-family="Liberation Serif, serif" text-anchor="start">0.8</text><text transform="translate(675.5,453.8) scale(1.44,1)" font-size="10" fill="#b4b4b4" font-family="Liberation Serif, serif" text-anchor="start">x</text><text transform="translate(375.5,247.6) scale(1.44,1)" font-size="10" fill="#b4b4b4" font-family="Liberation Serif, serif" text-anchor="start">y</text></g>
<g stroke="#bbb" stroke-opacity="0.6" stroke-width="0.8"><line x1="398.2" y1="256.8" x2="402.5" y2="259.5"/><line x1="427.5" y1="254.0" x2="426.0" y2="257.5"/><line x1="460.5" y1="263.5" x2="456.5" y2="267.5"/><line x1="485.0" y1="277.0" x2="480.5" y2="281.5"/><line x1="509.0" y1="291.0" x2="504.5" y2="295.5"/><line x1="532.0" y1="307.0" x2="527.5" y2="311.5"/><line x1="554.0" y1="322.3" x2="549.5" y2="326.8"/><line x1="574.5" y1="336.0" x2="569.5" y2="341.0"/><line x1="592.0" y1="348.3" x2="587.0" y2="353.0"/><line x1="605.5" y1="357.5" x2="600.5" y2="362.0"/><line x1="616.0" y1="365.0" x2="611.0" y2="369.5"/><line x1="627.5" y1="372.8" x2="622.5" y2="377.0"/><line x1="636.0" y1="378.5" x2="631.5" y2="382.0"/><line x1="386.5" y1="346.2" x2="390.5" y2="345.2"/><line x1="404.5" y1="396.0" x2="409.5" y2="394.0"/><line x1="419.5" y1="427.8" x2="423.5" y2="426.0"/><line x1="427.0" y1="439.8" x2="431.5" y2="437.8"/><line x1="444.5" y1="451.0" x2="445.5" y2="447.5"/></g>
<text transform="translate(535.7,249.1) scale(1.44,1)" font-size="8.2" fill="#fff" font-family="Liberation Sans, Arial, sans-serif" text-anchor="start" textLength="103.5" lengthAdjust="spacingAndGlyphs">CIE 1931 Chromaticity Diagram</text>
<text transform="translate(553.0,421.0) scale(1.44,1)" font-size="8.2" fill="#fff" font-family="Liberation Sans, Arial, sans-serif" text-anchor="start" textLength="84.4" lengthAdjust="spacingAndGlyphs">1964 10-degree Observer</text>
<text transform="translate(563.0,438.6) scale(1.44,1)" font-size="8.6" fill="#0000f0" font-family="Liberation Sans, Arial, sans-serif" text-anchor="start" textLength="68.5" lengthAdjust="spacingAndGlyphs" font-style="italic">efg's Computer Lab</text>
<text transform="translate(573.0,448.0) scale(1.44,1)" font-size="8.2" fill="#0000f0" font-family="Liberation Sans, Arial, sans-serif" text-anchor="start" textLength="61.5" lengthAdjust="spacingAndGlyphs">www.efg2.com/lab</text>
<text x="677" y="443.2" font-size="11" font-weight="bold" fill="#fff" font-family="Liberation Sans, Arial, sans-serif" text-anchor="middle">(d)</text>
<line x1="541.8" y1="324.7" x2="479.5" y2="369.9" stroke="#000" stroke-width="2"/>
<polygon points="474.2,373.7 479.5,365.6 483.6,371.2" fill="#000"/>
<polyline points="551.5,330.8 544.8,334.7 540.5,337.5 530.3,343.7 524.0,348.2 516.6,353.0" fill="none" stroke="#000" stroke-width="1"/><rect x="549.4" y="328.7" width="4.2" height="4.2" fill="#000" transform="rotate(45 551.5 330.8)"/><rect x="542.7" y="332.6" width="4.2" height="4.2" fill="#000" transform="rotate(45 544.8 334.7)"/><rect x="538.4" y="335.4" width="4.2" height="4.2" fill="#000" transform="rotate(45 540.5 337.5)"/><rect x="528.2" y="341.6" width="4.2" height="4.2" fill="#000" transform="rotate(45 530.3 343.7)"/><rect x="521.9" y="346.1" width="4.2" height="4.2" fill="#000" transform="rotate(45 524.0 348.2)"/><rect x="514.5" y="350.9" width="4.2" height="4.2" fill="#000" transform="rotate(45 516.6 353.0)"/><polyline points="547.8,333.4 537.1,340.7 527.3,346.7 520.5,351.2 513.0,356.0 506.7,360.8 499.7,366.0" fill="none" stroke="#ff0000" stroke-width="1.2"/><circle cx="547.8" cy="333.4" r="2.5" fill="#ff0000"/><circle cx="537.1" cy="340.7" r="2.5" fill="#ff0000"/><circle cx="527.3" cy="346.7" r="2.5" fill="#ff0000"/><circle cx="520.5" cy="351.2" r="2.5" fill="#ff0000"/><circle cx="513.0" cy="356.0" r="2.5" fill="#ff0000"/><circle cx="506.7" cy="360.8" r="2.5" fill="#ff0000"/><circle cx="499.7" cy="366.0" r="2.5" fill="#ff0000"/><line x1="534.5" y1="342.8" x2="492.5" y2="372.6" stroke="#0000ff" stroke-width="1.5"/><polygon points="534.5,339.8 531.6,344.8 537.4,344.8" fill="#0000ff"/><polygon points="515.8,353.6 512.9,358.6 518.7,358.6" fill="#0000ff"/><polygon points="504.8,360.8 501.9,365.8 507.7,365.8" fill="#0000ff"/><polygon points="497.5,365.8 494.6,370.8 500.4,370.8" fill="#0000ff"/><polygon points="490.7,370.7 487.8,375.7 493.6,375.7" fill="#0000ff"/><polygon points="485.1,374.5 482.2,379.5 488.0,379.5" fill="#0000ff"/><polygon points="480.2,378.0 477.3,383.0 483.1,383.0" fill="#0000ff"/>
</g>
<text x="358.9" y="348.6" font-size="12.8" text-anchor="middle" fill="#000" font-family="Liberation Sans, Arial, sans-serif" font-weight="bold" transform="rotate(-90 358.9 348.6)">CIE y</text>
<text x="532" y="480.2" font-size="12.8" text-anchor="middle" fill="#000" font-family="Liberation Sans, Arial, sans-serif" font-weight="bold">CIE x</text>
</svg>
</body></html>
